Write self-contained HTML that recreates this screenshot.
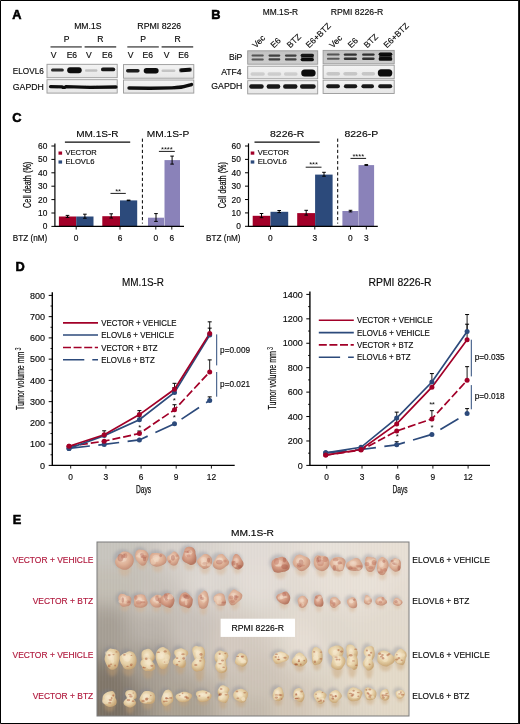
<!DOCTYPE html>
<html><head><meta charset="utf-8"><style>
html,body{margin:0;padding:0;background:#fff;}
svg{display:block;will-change:transform;filter:blur(0.25px);}
text{font-family:"Liberation Sans",sans-serif;}
</style></head><body>
<svg width="520" height="724" viewBox="0 0 520 724" font-family="Liberation Sans, sans-serif">
<defs>
<filter id="bl" x="-20%" y="-100%" width="140%" height="300%"><feGaussianBlur stdDeviation="0.7"/></filter>
<filter id="sh" x="-50%" y="-50%" width="200%" height="200%"><feGaussianBlur stdDeviation="1.4"/></filter>
<filter id="tb2" x="-50%" y="-50%" width="200%" height="200%"><feGaussianBlur stdDeviation="0.45"/></filter>
<filter id="tb" x="-30%" y="-30%" width="160%" height="160%"><feGaussianBlur stdDeviation="0.75"/></filter>
<filter id="bgblur" x="0" y="0" width="100%" height="100%"><feGaussianBlur stdDeviation="4"/></filter>
<clipPath id="photoclip"><rect x="97" y="542" width="312" height="174"/></clipPath>
<linearGradient id="gBlot" x1="0" y1="0" x2="0" y2="1"><stop offset="0" stop-color="#f4f4f4"/><stop offset="1" stop-color="#e6e6e6"/></linearGradient>
<linearGradient id="gBip" x1="0" y1="0" x2="0" y2="1"><stop offset="0" stop-color="#c2c2c2"/><stop offset="1" stop-color="#cecece"/></linearGradient>
<pattern id="stripes" width="3" height="4" patternUnits="userSpaceOnUse"><rect width="1.2" height="4" fill="#ffffff" opacity="0.18"/><rect x="2" width="0.8" height="4" fill="#000" opacity="0.04"/></pattern>
<radialGradient id="gPink" cx="0.42" cy="0.38" r="0.62"><stop offset="0" stop-color="#ecd0bc"/><stop offset="0.55" stop-color="#deb197"/><stop offset="1" stop-color="#c59079"/></radialGradient>
<radialGradient id="gRed" cx="0.42" cy="0.38" r="0.62"><stop offset="0" stop-color="#e8c0aa"/><stop offset="0.55" stop-color="#d39a82"/><stop offset="1" stop-color="#b67862"/></radialGradient>
<radialGradient id="gYel" cx="0.42" cy="0.38" r="0.62"><stop offset="0" stop-color="#f4e6c8"/><stop offset="0.55" stop-color="#e4cea4"/><stop offset="1" stop-color="#c8a676"/></radialGradient>
<radialGradient id="gPale" cx="0.42" cy="0.38" r="0.62"><stop offset="0" stop-color="#f6ead0"/><stop offset="0.6" stop-color="#e6cfa4"/><stop offset="1" stop-color="#cfae80"/></radialGradient>
</defs>
<rect x="0" y="0" width="520" height="724" fill="#fff"/>
<text x="12.2" y="18.7" font-size="12.8" font-weight="bold" fill="#000" stroke="#000" stroke-width="0.55">A</text>
<text x="211.3" y="18.5" font-size="12.8" font-weight="bold" fill="#000" stroke="#000" stroke-width="0.55">B</text>
<text x="12.2" y="121.8" font-size="12.8" font-weight="bold" fill="#000" stroke="#000" stroke-width="0.55">C</text>
<text x="15.6" y="270.8" font-size="12.8" font-weight="bold" fill="#000" stroke="#000" stroke-width="0.55">D</text>
<text x="12.8" y="524.1" font-size="12.8" font-weight="bold" fill="#000" stroke="#000" stroke-width="0.55">E</text>
<text x="74.2" y="29.2" font-size="8.6" textLength="27.3" lengthAdjust="spacingAndGlyphs" fill="#0a0a0a" stroke="#0a0a0a" stroke-width="0.15">MM.1S</text>
<text x="137.3" y="29.2" font-size="8.6" textLength="43.9" lengthAdjust="spacingAndGlyphs" fill="#0a0a0a" stroke="#0a0a0a" stroke-width="0.15">RPMI 8226</text>
<text x="66.5" y="41.5" font-size="8.6" text-anchor="middle" fill="#0a0a0a" stroke="#0a0a0a" stroke-width="0.15">P</text>
<text x="100.3" y="41.5" font-size="8.6" text-anchor="middle" fill="#0a0a0a" stroke="#0a0a0a" stroke-width="0.15">R</text>
<text x="143.1" y="41.5" font-size="8.6" text-anchor="middle" fill="#0a0a0a" stroke="#0a0a0a" stroke-width="0.15">P</text>
<text x="177.5" y="41.5" font-size="8.6" text-anchor="middle" fill="#0a0a0a" stroke="#0a0a0a" stroke-width="0.15">R</text>
<line x1="50.5" y1="46.9" x2="81.8" y2="46.9" stroke="#666" stroke-width="1.6"/>
<line x1="84.6" y1="46.9" x2="116.2" y2="46.9" stroke="#666" stroke-width="1.6"/>
<line x1="127.3" y1="46.9" x2="158.8" y2="46.9" stroke="#666" stroke-width="1.6"/>
<line x1="161.6" y1="46.9" x2="193.2" y2="46.9" stroke="#666" stroke-width="1.6"/>
<text x="53.5" y="57.7" font-size="8.6" text-anchor="middle" fill="#0a0a0a" stroke="#0a0a0a" stroke-width="0.15">V</text>
<text x="71.9" y="57.7" font-size="8.6" text-anchor="middle" fill="#0a0a0a" stroke="#0a0a0a" stroke-width="0.15">E6</text>
<text x="88.8" y="57.7" font-size="8.6" text-anchor="middle" fill="#0a0a0a" stroke="#0a0a0a" stroke-width="0.15">V</text>
<text x="107.3" y="57.7" font-size="8.6" text-anchor="middle" fill="#0a0a0a" stroke="#0a0a0a" stroke-width="0.15">E6</text>
<text x="130.6" y="57.7" font-size="8.6" text-anchor="middle" fill="#0a0a0a" stroke="#0a0a0a" stroke-width="0.15">V</text>
<text x="147.7" y="57.7" font-size="8.6" text-anchor="middle" fill="#0a0a0a" stroke="#0a0a0a" stroke-width="0.15">E6</text>
<text x="166.5" y="57.7" font-size="8.6" text-anchor="middle" fill="#0a0a0a" stroke="#0a0a0a" stroke-width="0.15">V</text>
<text x="183.6" y="57.7" font-size="8.6" text-anchor="middle" fill="#0a0a0a" stroke="#0a0a0a" stroke-width="0.15">E6</text>
<text x="43.8" y="74.3" font-size="8.6" text-anchor="end" textLength="31.0" lengthAdjust="spacingAndGlyphs" fill="#0a0a0a" stroke="#0a0a0a" stroke-width="0.15">ELOVL6</text>
<text x="43.8" y="89.6" font-size="8.6" text-anchor="end" textLength="31.0" lengthAdjust="spacingAndGlyphs" fill="#0a0a0a" stroke="#0a0a0a" stroke-width="0.15">GAPDH</text>
<rect x="47.0" y="64.3" width="70.2" height="13.4" fill="url(#gBlot)" stroke="#999" stroke-width="0.9"/>
<rect x="47.0" y="79.7" width="70.2" height="13.4" fill="url(#gBlot)" stroke="#999" stroke-width="0.9"/>
<rect x="51" y="68.5" width="12.799999999999997" height="3.0" rx="1.5" fill="#0a0a0a" opacity="0.85" filter="url(#bl)"/>
<rect x="67.2" y="67.2" width="14.5" height="6.0" rx="3.0" fill="#0a0a0a" opacity="1.0" filter="url(#bl)"/>
<rect x="85.0" y="69.3" width="12.400000000000006" height="2.4" rx="1.2" fill="#0a0a0a" opacity="0.2" filter="url(#bl)"/>
<rect x="101.0" y="67.5" width="14.200000000000003" height="3.8" rx="1.9" fill="#0a0a0a" opacity="0.95" filter="url(#bl)"/>
<path d="M50.5,86.6 L62,86.9 L64,87.8 L66,86.6 L90,87.3 L116,87.0" stroke="#111" stroke-width="3.3" stroke-linecap="round" fill="none" filter="url(#bl)"/>
<rect x="123.5" y="64.6" width="70.3" height="13.6" fill="url(#gBlot)" stroke="#999" stroke-width="0.9"/>
<rect x="123.5" y="80.0" width="70.3" height="13.1" fill="url(#gBlot)" stroke="#999" stroke-width="0.9"/>
<rect x="126" y="69.1" width="13.599999999999994" height="3.4" rx="1.7" fill="#0a0a0a" opacity="0.92" filter="url(#bl)"/>
<rect x="143.7" y="68.1" width="14.900000000000006" height="5.4" rx="2.7" fill="#0a0a0a" opacity="1.0" filter="url(#bl)"/>
<rect x="161.5" y="69.6" width="13.900000000000006" height="2.4" rx="1.2" fill="#0a0a0a" opacity="0.18" filter="url(#bl)"/>
<rect x="179.1" y="68.0" width="12.700000000000017" height="4.0" rx="2.0" fill="#0a0a0a" opacity="1.0" filter="url(#bl)" transform="rotate(-4 185.45 70.0)"/>
<path d="M129,88.0 L150,88.2 L172,87.9 Q182,87.9 191.5,84.6" stroke="#111" stroke-width="3.4" stroke-linecap="round" fill="none" filter="url(#bl)"/>
<text x="262.7" y="15.4" font-size="8.6" textLength="35.4" lengthAdjust="spacingAndGlyphs" fill="#0a0a0a" stroke="#0a0a0a" stroke-width="0.15">MM.1S-R</text>
<text x="330.8" y="15.4" font-size="8.6" textLength="52.5" lengthAdjust="spacingAndGlyphs" fill="#0a0a0a" stroke="#0a0a0a" stroke-width="0.15">RPMI 8226-R</text>
<text x="0" y="0" font-size="8.5" fill="#0a0a0a" stroke="#0a0a0a" stroke-width="0.15" transform="translate(255.8 48.6) rotate(-45)">Vec</text>
<text x="0" y="0" font-size="8.5" fill="#0a0a0a" stroke="#0a0a0a" stroke-width="0.15" transform="translate(274.0 48.6) rotate(-45)">E6</text>
<text x="0" y="0" font-size="8.5" fill="#0a0a0a" stroke="#0a0a0a" stroke-width="0.15" transform="translate(290.2 48.6) rotate(-45)">BTZ</text>
<text x="0" y="0" font-size="8.5" fill="#0a0a0a" stroke="#0a0a0a" stroke-width="0.15" transform="translate(309.3 48.6) rotate(-45)">E6+BTZ</text>
<text x="0" y="0" font-size="8.5" fill="#0a0a0a" stroke="#0a0a0a" stroke-width="0.15" transform="translate(332.7 48.6) rotate(-45)">Vec</text>
<text x="0" y="0" font-size="8.5" fill="#0a0a0a" stroke="#0a0a0a" stroke-width="0.15" transform="translate(351.3 48.6) rotate(-45)">E6</text>
<text x="0" y="0" font-size="8.5" fill="#0a0a0a" stroke="#0a0a0a" stroke-width="0.15" transform="translate(367.3 48.6) rotate(-45)">BTZ</text>
<text x="0" y="0" font-size="8.5" fill="#0a0a0a" stroke="#0a0a0a" stroke-width="0.15" transform="translate(387.1 48.6) rotate(-45)">E6+BTZ</text>
<text x="242.3" y="59.6" font-size="8.6" text-anchor="end" fill="#0a0a0a" stroke="#0a0a0a" stroke-width="0.15">BiP</text>
<text x="241.5" y="75.0" font-size="8.6" text-anchor="end" fill="#0a0a0a" stroke="#0a0a0a" stroke-width="0.15">ATF4</text>
<text x="242.3" y="89.4" font-size="8.6" text-anchor="end" textLength="31.0" lengthAdjust="spacingAndGlyphs" fill="#0a0a0a" stroke="#0a0a0a" stroke-width="0.15">GAPDH</text>
<rect x="247.7" y="50.8" width="70" height="13.4" fill="url(#gBip)" stroke="#999" stroke-width="0.9"/>
<rect x="247.7" y="66.2" width="70" height="12.6" fill="url(#gBlot)" stroke="#999" stroke-width="0.9"/>
<rect x="247.7" y="80.7" width="70" height="13.2" fill="url(#gBlot)" stroke="#999" stroke-width="0.9"/>
<rect x="251.5" y="54.6" width="12.300000000000011" height="2.0" rx="1.0" fill="#0a0a0a" opacity="0.6" filter="url(#bl)"/>
<rect x="251.5" y="58.4" width="12.300000000000011" height="2.0" rx="1.0" fill="#0a0a0a" opacity="0.6" filter="url(#bl)"/>
<rect x="268.5" y="54.5" width="11.800000000000011" height="2.2" rx="1.1" fill="#0a0a0a" opacity="0.72" filter="url(#bl)"/>
<rect x="268.5" y="58.3" width="11.800000000000011" height="2.2" rx="1.1" fill="#0a0a0a" opacity="0.72" filter="url(#bl)"/>
<rect x="284.9" y="54.5" width="11.700000000000045" height="2.2" rx="1.1" fill="#0a0a0a" opacity="0.72" filter="url(#bl)"/>
<rect x="284.9" y="58.3" width="11.700000000000045" height="2.2" rx="1.1" fill="#0a0a0a" opacity="0.72" filter="url(#bl)"/>
<rect x="300.6" y="53.8" width="13.399999999999977" height="3.2" rx="1.6" fill="#0a0a0a" opacity="0.95" filter="url(#bl)"/>
<rect x="300.6" y="57.9" width="13.399999999999977" height="3.4" rx="1.7" fill="#0a0a0a" opacity="1.0" filter="url(#bl)"/>
<rect x="301" y="56.5" width="12.600000000000023" height="2.0" rx="1.0" fill="#0a0a0a" opacity="0.6" filter="url(#bl)"/>
<rect x="250.5" y="72.2" width="14.300000000000011" height="3.6" rx="1.8" fill="#0a0a0a" opacity="0.13" filter="url(#bl)"/>
<rect x="267.5" y="72.2" width="13.800000000000011" height="3.6" rx="1.8" fill="#0a0a0a" opacity="0.13" filter="url(#bl)"/>
<rect x="283.9" y="72.2" width="13.700000000000045" height="3.6" rx="1.8" fill="#0a0a0a" opacity="0.13" filter="url(#bl)"/>
<rect x="301.2" y="69.5" width="14.400000000000034" height="7.0" rx="3.5" fill="#0a0a0a" opacity="1.0" filter="url(#bl)"/>
<rect x="249.2" y="84.3" width="14.5" height="4.4" rx="2.2" fill="#0a0a0a" opacity="0.95" filter="url(#bl)"/>
<rect x="266.6" y="84.3" width="13.699999999999989" height="4.4" rx="2.2" fill="#0a0a0a" opacity="0.95" filter="url(#bl)"/>
<rect x="283.1" y="84.3" width="14.399999999999977" height="4.4" rx="2.2" fill="#0a0a0a" opacity="0.95" filter="url(#bl)"/>
<rect x="300.0" y="84.3" width="15.699999999999989" height="4.4" rx="2.2" fill="#0a0a0a" opacity="0.95" filter="url(#bl)"/>
<rect x="323.1" y="50.4" width="71.1" height="13.4" fill="url(#gBip)" stroke="#999" stroke-width="0.9"/>
<rect x="323.1" y="65.2" width="71.1" height="13.5" fill="url(#gBlot)" stroke="#999" stroke-width="0.9"/>
<rect x="323.1" y="80.2" width="71.1" height="13.3" fill="url(#gBlot)" stroke="#999" stroke-width="0.9"/>
<rect x="326.9" y="53.6" width="12.700000000000045" height="2.0" rx="1.0" fill="#0a0a0a" opacity="0.6" filter="url(#bl)"/>
<rect x="326.9" y="57.8" width="12.700000000000045" height="2.0" rx="1.0" fill="#0a0a0a" opacity="0.6" filter="url(#bl)"/>
<rect x="343.8" y="53.4" width="13.099999999999966" height="2.4" rx="1.2" fill="#0a0a0a" opacity="0.8" filter="url(#bl)"/>
<rect x="343.8" y="57.599999999999994" width="13.099999999999966" height="2.4" rx="1.2" fill="#0a0a0a" opacity="0.8" filter="url(#bl)"/>
<rect x="362.1" y="53.4" width="12.5" height="2.4" rx="1.2" fill="#0a0a0a" opacity="0.8" filter="url(#bl)"/>
<rect x="362.1" y="57.599999999999994" width="12.5" height="2.4" rx="1.2" fill="#0a0a0a" opacity="0.8" filter="url(#bl)"/>
<rect x="378.6" y="52.400000000000006" width="13.699999999999989" height="3.6" rx="1.8" fill="#0a0a0a" opacity="1.0" filter="url(#bl)"/>
<rect x="378.6" y="57.0" width="13.699999999999989" height="3.8" rx="1.9" fill="#0a0a0a" opacity="1.0" filter="url(#bl)"/>
<rect x="379" y="55.4" width="13" height="2.4" rx="1.2" fill="#0a0a0a" opacity="0.8" filter="url(#bl)"/>
<rect x="326.4" y="72.0" width="13.700000000000045" height="3.6" rx="1.8" fill="#0a0a0a" opacity="0.16" filter="url(#bl)"/>
<rect x="343.3" y="72.0" width="14.099999999999966" height="3.6" rx="1.8" fill="#0a0a0a" opacity="0.16" filter="url(#bl)"/>
<rect x="361.6" y="72.0" width="13.5" height="3.6" rx="1.8" fill="#0a0a0a" opacity="0.16" filter="url(#bl)"/>
<rect x="377.8" y="69.30000000000001" width="14.5" height="7.2" rx="3.6" fill="#0a0a0a" opacity="1.0" filter="url(#bl)"/>
<rect x="326.2" y="84.3" width="13.699999999999989" height="4.0" rx="2.0" fill="#0a0a0a" opacity="0.95" filter="url(#bl)"/>
<rect x="343.9" y="84.3" width="13.300000000000011" height="4.0" rx="2.0" fill="#0a0a0a" opacity="0.95" filter="url(#bl)"/>
<rect x="361.4" y="84.3" width="12.600000000000023" height="4.0" rx="2.0" fill="#0a0a0a" opacity="0.95" filter="url(#bl)"/>
<rect x="378.2" y="84.3" width="14.0" height="4.0" rx="2.0" fill="#0a0a0a" opacity="0.95" filter="url(#bl)"/>
<line x1="54.9" y1="143.6" x2="54.9" y2="227.0" stroke="#000" stroke-width="1.2"/>
<line x1="51.4" y1="226.4" x2="54.9" y2="226.4" stroke="#000" stroke-width="1.0"/>
<text x="47.3" y="229.4" font-size="8.4" text-anchor="end" fill="#0a0a0a" stroke="#0a0a0a" stroke-width="0.15">0</text>
<line x1="51.4" y1="213.0" x2="54.9" y2="213.0" stroke="#000" stroke-width="1.0"/>
<text x="47.3" y="216.0" font-size="8.4" text-anchor="end" fill="#0a0a0a" stroke="#0a0a0a" stroke-width="0.15">10</text>
<line x1="51.4" y1="199.6" x2="54.9" y2="199.6" stroke="#000" stroke-width="1.0"/>
<text x="47.3" y="202.6" font-size="8.4" text-anchor="end" fill="#0a0a0a" stroke="#0a0a0a" stroke-width="0.15">20</text>
<line x1="51.4" y1="186.2" x2="54.9" y2="186.2" stroke="#000" stroke-width="1.0"/>
<text x="47.3" y="189.2" font-size="8.4" text-anchor="end" fill="#0a0a0a" stroke="#0a0a0a" stroke-width="0.15">30</text>
<line x1="51.4" y1="172.8" x2="54.9" y2="172.8" stroke="#000" stroke-width="1.0"/>
<text x="47.3" y="175.8" font-size="8.4" text-anchor="end" fill="#0a0a0a" stroke="#0a0a0a" stroke-width="0.15">40</text>
<line x1="51.4" y1="159.4" x2="54.9" y2="159.4" stroke="#000" stroke-width="1.0"/>
<text x="47.3" y="162.4" font-size="8.4" text-anchor="end" fill="#0a0a0a" stroke="#0a0a0a" stroke-width="0.15">50</text>
<line x1="51.4" y1="146.0" x2="54.9" y2="146.0" stroke="#000" stroke-width="1.0"/>
<text x="47.3" y="149.0" font-size="8.4" text-anchor="end" fill="#0a0a0a" stroke="#0a0a0a" stroke-width="0.15">60</text>
<rect x="58.9" y="216.5" width="17.300000000000004" height="9.900000000000006" fill="#a20028"/>
<rect x="76.2" y="216.5" width="17.299999999999997" height="9.900000000000006" fill="#2c4a7b"/>
<rect x="102.3" y="216.2" width="17.700000000000003" height="10.200000000000017" fill="#a20028"/>
<rect x="120" y="200.4" width="17.19999999999999" height="26.0" fill="#2c4a7b"/>
<rect x="148" y="217.7" width="16" height="8.700000000000017" fill="#8a82b9"/>
<rect x="164.5" y="160.1" width="15.5" height="66.30000000000001" fill="#8a82b9"/>
<line x1="54.9" y1="226.4" x2="184.0" y2="226.4" stroke="#000" stroke-width="1.3"/>
<line x1="76.2" y1="226.4" x2="76.2" y2="229.6" stroke="#000" stroke-width="0.9"/>
<line x1="120" y1="226.4" x2="120" y2="229.6" stroke="#000" stroke-width="0.9"/>
<line x1="155.8" y1="226.4" x2="155.8" y2="229.6" stroke="#000" stroke-width="0.9"/>
<line x1="171.8" y1="226.4" x2="171.8" y2="229.6" stroke="#000" stroke-width="0.9"/>
<text x="76.2" y="240.9" font-size="8.4" text-anchor="middle" fill="#0a0a0a" stroke="#0a0a0a" stroke-width="0.15">0</text>
<text x="120" y="240.9" font-size="8.4" text-anchor="middle" fill="#0a0a0a" stroke="#0a0a0a" stroke-width="0.15">6</text>
<text x="155.8" y="240.9" font-size="8.4" text-anchor="middle" fill="#0a0a0a" stroke="#0a0a0a" stroke-width="0.15">0</text>
<text x="171.8" y="240.9" font-size="8.4" text-anchor="middle" fill="#0a0a0a" stroke="#0a0a0a" stroke-width="0.15">6</text>
<line x1="67.5" y1="215.4" x2="67.5" y2="217.4" stroke="#000" stroke-width="1.0"/>
<line x1="65.7" y1="215.4" x2="69.3" y2="215.4" stroke="#000" stroke-width="1.0"/>
<line x1="65.7" y1="217.4" x2="69.3" y2="217.4" stroke="#000" stroke-width="1.0"/>
<line x1="84.9" y1="214.2" x2="84.9" y2="218.2" stroke="#000" stroke-width="1.0"/>
<line x1="83.10000000000001" y1="214.2" x2="86.7" y2="214.2" stroke="#000" stroke-width="1.0"/>
<line x1="83.10000000000001" y1="218.2" x2="86.7" y2="218.2" stroke="#000" stroke-width="1.0"/>
<line x1="111.2" y1="213.8" x2="111.2" y2="218.0" stroke="#000" stroke-width="1.0"/>
<line x1="109.4" y1="213.8" x2="113.0" y2="213.8" stroke="#000" stroke-width="1.0"/>
<line x1="109.4" y1="218.0" x2="113.0" y2="218.0" stroke="#000" stroke-width="1.0"/>
<line x1="128.6" y1="200.1" x2="128.6" y2="200.7" stroke="#000" stroke-width="1.0"/>
<line x1="126.8" y1="200.1" x2="130.4" y2="200.1" stroke="#000" stroke-width="1.0"/>
<line x1="126.8" y1="200.7" x2="130.4" y2="200.7" stroke="#000" stroke-width="1.0"/>
<line x1="156" y1="213.6" x2="156" y2="221.4" stroke="#000" stroke-width="1.0"/>
<line x1="154.2" y1="213.6" x2="157.8" y2="213.6" stroke="#000" stroke-width="1.0"/>
<line x1="154.2" y1="221.4" x2="157.8" y2="221.4" stroke="#000" stroke-width="1.0"/>
<line x1="172.1" y1="156.1" x2="172.1" y2="164.1" stroke="#000" stroke-width="1.0"/>
<line x1="170.29999999999998" y1="156.1" x2="173.9" y2="156.1" stroke="#000" stroke-width="1.0"/>
<line x1="170.29999999999998" y1="164.1" x2="173.9" y2="164.1" stroke="#000" stroke-width="1.0"/>
<line x1="142.4" y1="138.6" x2="142.4" y2="223.6" stroke="#000" stroke-width="1.0" stroke-dasharray="3.2 2.4"/>
<line x1="110.5" y1="193.4" x2="125.8" y2="193.4" stroke="#000" stroke-width="0.9"/>
<text x="116.7" y="193.6" font-size="7.6" text-anchor="middle" fill="#0a0a0a">*</text>
<text x="119.60000000000001" y="193.6" font-size="7.6" text-anchor="middle" fill="#0a0a0a">*</text>
<line x1="158.9" y1="151.4" x2="174.8" y2="151.4" stroke="#000" stroke-width="0.9"/>
<text x="162.50000000000003" y="151.6" font-size="7.6" text-anchor="middle" fill="#0a0a0a">*</text>
<text x="165.40000000000003" y="151.6" font-size="7.6" text-anchor="middle" fill="#0a0a0a">*</text>
<text x="168.30000000000004" y="151.6" font-size="7.6" text-anchor="middle" fill="#0a0a0a">*</text>
<text x="171.20000000000002" y="151.6" font-size="7.6" text-anchor="middle" fill="#0a0a0a">*</text>
<text x="76.2" y="136.8" font-size="9.9" textLength="42.3" lengthAdjust="spacingAndGlyphs" fill="#0a0a0a" stroke="#0a0a0a" stroke-width="0.15">MM.1S-R</text>
<text x="146.8" y="136.8" font-size="9.9" textLength="42.4" lengthAdjust="spacingAndGlyphs" fill="#0a0a0a" stroke="#0a0a0a" stroke-width="0.15">MM.1S-P</text>
<line x1="64.9" y1="142.2" x2="130.2" y2="142.2" stroke="#0a0a0a" stroke-width="1.3"/>
<rect x="58.5" y="151.5" width="3.6" height="3.2" fill="#a20028"/>
<rect x="58.5" y="160.4" width="3.6" height="3.2" fill="#2c4a7b"/>
<text x="65.5" y="155.2" font-size="8.0" textLength="31.3" lengthAdjust="spacingAndGlyphs" fill="#0a0a0a" stroke="#0a0a0a" stroke-width="0.15">VECTOR</text>
<text x="65.5" y="164.3" font-size="8.0" textLength="29.0" lengthAdjust="spacingAndGlyphs" fill="#0a0a0a" stroke="#0a0a0a" stroke-width="0.15">ELOVL6</text>
<text x="12.8" y="241.0" font-size="8.2" textLength="34.5" lengthAdjust="spacingAndGlyphs" fill="#0a0a0a" stroke="#0a0a0a" stroke-width="0.15">BTZ (nM)</text>
<text x="0" y="0" font-size="10.2" fill="#0a0a0a" stroke="#0a0a0a" stroke-width="0.2" textLength="46.2" lengthAdjust="spacingAndGlyphs" transform="translate(31.3 207.9) rotate(-90)">Cell death (%)</text>
<line x1="248.5" y1="143.4" x2="248.5" y2="226.9" stroke="#000" stroke-width="1.2"/>
<line x1="245.0" y1="226.3" x2="248.5" y2="226.3" stroke="#000" stroke-width="1.0"/>
<text x="240.9" y="229.3" font-size="8.4" text-anchor="end" fill="#0a0a0a" stroke="#0a0a0a" stroke-width="0.15">0</text>
<line x1="245.0" y1="212.91666666666669" x2="248.5" y2="212.91666666666669" stroke="#000" stroke-width="1.0"/>
<text x="240.9" y="215.91666666666669" font-size="8.4" text-anchor="end" fill="#0a0a0a" stroke="#0a0a0a" stroke-width="0.15">10</text>
<line x1="245.0" y1="199.53333333333333" x2="248.5" y2="199.53333333333333" stroke="#000" stroke-width="1.0"/>
<text x="240.9" y="202.53333333333333" font-size="8.4" text-anchor="end" fill="#0a0a0a" stroke="#0a0a0a" stroke-width="0.15">20</text>
<line x1="245.0" y1="186.15" x2="248.5" y2="186.15" stroke="#000" stroke-width="1.0"/>
<text x="240.9" y="189.15" font-size="8.4" text-anchor="end" fill="#0a0a0a" stroke="#0a0a0a" stroke-width="0.15">30</text>
<line x1="245.0" y1="172.76666666666665" x2="248.5" y2="172.76666666666665" stroke="#000" stroke-width="1.0"/>
<text x="240.9" y="175.76666666666665" font-size="8.4" text-anchor="end" fill="#0a0a0a" stroke="#0a0a0a" stroke-width="0.15">40</text>
<line x1="245.0" y1="159.38333333333333" x2="248.5" y2="159.38333333333333" stroke="#000" stroke-width="1.0"/>
<text x="240.9" y="162.38333333333333" font-size="8.4" text-anchor="end" fill="#0a0a0a" stroke="#0a0a0a" stroke-width="0.15">50</text>
<line x1="245.0" y1="146.0" x2="248.5" y2="146.0" stroke="#000" stroke-width="1.0"/>
<text x="240.9" y="149.0" font-size="8.4" text-anchor="end" fill="#0a0a0a" stroke="#0a0a0a" stroke-width="0.15">60</text>
<rect x="252.7" y="215.8" width="17.69999999999999" height="10.5" fill="#a20028"/>
<rect x="270.5" y="211.8" width="17.69999999999999" height="14.5" fill="#2c4a7b"/>
<rect x="297.2" y="213.1" width="17.900000000000034" height="13.200000000000017" fill="#a20028"/>
<rect x="315.1" y="174.6" width="17.5" height="51.70000000000002" fill="#2c4a7b"/>
<rect x="342.4" y="211.0" width="15.900000000000034" height="15.300000000000011" fill="#8a82b9"/>
<rect x="358.5" y="165.1" width="15.600000000000023" height="61.20000000000002" fill="#8a82b9"/>
<line x1="248.5" y1="226.3" x2="377.8" y2="226.3" stroke="#000" stroke-width="1.3"/>
<line x1="270.5" y1="226.3" x2="270.5" y2="229.5" stroke="#000" stroke-width="0.9"/>
<line x1="314.8" y1="226.3" x2="314.8" y2="229.5" stroke="#000" stroke-width="0.9"/>
<line x1="350.5" y1="226.3" x2="350.5" y2="229.5" stroke="#000" stroke-width="0.9"/>
<line x1="366.3" y1="226.3" x2="366.3" y2="229.5" stroke="#000" stroke-width="0.9"/>
<text x="270.3" y="240.9" font-size="8.4" text-anchor="middle" fill="#0a0a0a" stroke="#0a0a0a" stroke-width="0.15">0</text>
<text x="314.8" y="240.9" font-size="8.4" text-anchor="middle" fill="#0a0a0a" stroke="#0a0a0a" stroke-width="0.15">3</text>
<text x="350.3" y="240.9" font-size="8.4" text-anchor="middle" fill="#0a0a0a" stroke="#0a0a0a" stroke-width="0.15">0</text>
<text x="366.3" y="240.9" font-size="8.4" text-anchor="middle" fill="#0a0a0a" stroke="#0a0a0a" stroke-width="0.15">3</text>
<line x1="261.5" y1="213.5" x2="261.5" y2="217.7" stroke="#000" stroke-width="1.0"/>
<line x1="259.7" y1="213.5" x2="263.3" y2="213.5" stroke="#000" stroke-width="1.0"/>
<line x1="259.7" y1="217.7" x2="263.3" y2="217.7" stroke="#000" stroke-width="1.0"/>
<line x1="279.2" y1="210.5" x2="279.2" y2="212.6" stroke="#000" stroke-width="1.0"/>
<line x1="277.4" y1="210.5" x2="281.0" y2="210.5" stroke="#000" stroke-width="1.0"/>
<line x1="277.4" y1="212.6" x2="281.0" y2="212.6" stroke="#000" stroke-width="1.0"/>
<line x1="306.2" y1="210.3" x2="306.2" y2="215.1" stroke="#000" stroke-width="1.0"/>
<line x1="304.4" y1="210.3" x2="308.0" y2="210.3" stroke="#000" stroke-width="1.0"/>
<line x1="304.4" y1="215.1" x2="308.0" y2="215.1" stroke="#000" stroke-width="1.0"/>
<line x1="324" y1="172.3" x2="324" y2="176.2" stroke="#000" stroke-width="1.0"/>
<line x1="322.2" y1="172.3" x2="325.8" y2="172.3" stroke="#000" stroke-width="1.0"/>
<line x1="322.2" y1="176.2" x2="325.8" y2="176.2" stroke="#000" stroke-width="1.0"/>
<line x1="350.5" y1="210.3" x2="350.5" y2="211.9" stroke="#000" stroke-width="1.0"/>
<line x1="348.7" y1="210.3" x2="352.3" y2="210.3" stroke="#000" stroke-width="1.0"/>
<line x1="348.7" y1="211.9" x2="352.3" y2="211.9" stroke="#000" stroke-width="1.0"/>
<line x1="366.3" y1="164.6" x2="366.3" y2="165.4" stroke="#000" stroke-width="1.0"/>
<line x1="364.5" y1="164.6" x2="368.1" y2="164.6" stroke="#000" stroke-width="1.0"/>
<line x1="364.5" y1="165.4" x2="368.1" y2="165.4" stroke="#000" stroke-width="1.0"/>
<line x1="337.7" y1="138.6" x2="337.7" y2="223.6" stroke="#000" stroke-width="1.0" stroke-dasharray="3.2 2.4"/>
<line x1="305.7" y1="167.2" x2="321.5" y2="167.2" stroke="#000" stroke-width="0.9"/>
<text x="310.70000000000005" y="167.39999999999998" font-size="7.6" text-anchor="middle" fill="#0a0a0a">*</text>
<text x="313.6" y="167.39999999999998" font-size="7.6" text-anchor="middle" fill="#0a0a0a">*</text>
<text x="316.50000000000006" y="167.39999999999998" font-size="7.6" text-anchor="middle" fill="#0a0a0a">*</text>
<line x1="350.5" y1="158.4" x2="366.1" y2="158.4" stroke="#000" stroke-width="0.9"/>
<text x="353.95" y="158.6" font-size="7.6" text-anchor="middle" fill="#0a0a0a">*</text>
<text x="356.84999999999997" y="158.6" font-size="7.6" text-anchor="middle" fill="#0a0a0a">*</text>
<text x="359.75" y="158.6" font-size="7.6" text-anchor="middle" fill="#0a0a0a">*</text>
<text x="362.65" y="158.6" font-size="7.6" text-anchor="middle" fill="#0a0a0a">*</text>
<text x="270" y="136.8" font-size="9.9" textLength="34.3" lengthAdjust="spacingAndGlyphs" fill="#0a0a0a" stroke="#0a0a0a" stroke-width="0.15">8226-R</text>
<text x="344.5" y="136.8" font-size="9.9" textLength="33.7" lengthAdjust="spacingAndGlyphs" fill="#0a0a0a" stroke="#0a0a0a" stroke-width="0.15">8226-P</text>
<line x1="254.5" y1="142.2" x2="319.7" y2="142.2" stroke="#0a0a0a" stroke-width="1.3"/>
<rect x="250.7" y="151.5" width="3.6" height="3.2" fill="#a20028"/>
<rect x="250.7" y="160.4" width="3.6" height="3.2" fill="#2c4a7b"/>
<text x="257.7" y="155.2" font-size="8.0" textLength="31.3" lengthAdjust="spacingAndGlyphs" fill="#0a0a0a" stroke="#0a0a0a" stroke-width="0.15">VECTOR</text>
<text x="257.7" y="164.3" font-size="8.0" textLength="29.0" lengthAdjust="spacingAndGlyphs" fill="#0a0a0a" stroke="#0a0a0a" stroke-width="0.15">ELOVL6</text>
<text x="206.1" y="241.0" font-size="8.2" textLength="34.5" lengthAdjust="spacingAndGlyphs" fill="#0a0a0a" stroke="#0a0a0a" stroke-width="0.15">BTZ (nM)</text>
<text x="0" y="0" font-size="10.2" fill="#0a0a0a" stroke="#0a0a0a" stroke-width="0.2" textLength="46.2" lengthAdjust="spacingAndGlyphs" transform="translate(226.3 208.2) rotate(-90)">Cell death (%)</text>
<line x1="52.3" y1="292.2" x2="52.3" y2="466.09999999999997" stroke="#000" stroke-width="1.4"/>
<line x1="48.699999999999996" y1="465.4" x2="52.3" y2="465.4" stroke="#000" stroke-width="1.0"/>
<text x="45.099999999999994" y="468.59999999999997" font-size="9.0" text-anchor="end" fill="#0a0a0a" stroke="#0a0a0a" stroke-width="0.15">0</text>
<line x1="48.699999999999996" y1="444.15" x2="52.3" y2="444.15" stroke="#000" stroke-width="1.0"/>
<text x="45.099999999999994" y="447.34999999999997" font-size="9.0" text-anchor="end" fill="#0a0a0a" stroke="#0a0a0a" stroke-width="0.15">100</text>
<line x1="48.699999999999996" y1="422.9" x2="52.3" y2="422.9" stroke="#000" stroke-width="1.0"/>
<text x="45.099999999999994" y="426.09999999999997" font-size="9.0" text-anchor="end" fill="#0a0a0a" stroke="#0a0a0a" stroke-width="0.15">200</text>
<line x1="48.699999999999996" y1="401.65" x2="52.3" y2="401.65" stroke="#000" stroke-width="1.0"/>
<text x="45.099999999999994" y="404.84999999999997" font-size="9.0" text-anchor="end" fill="#0a0a0a" stroke="#0a0a0a" stroke-width="0.15">300</text>
<line x1="48.699999999999996" y1="380.4" x2="52.3" y2="380.4" stroke="#000" stroke-width="1.0"/>
<text x="45.099999999999994" y="383.59999999999997" font-size="9.0" text-anchor="end" fill="#0a0a0a" stroke="#0a0a0a" stroke-width="0.15">400</text>
<line x1="48.699999999999996" y1="359.15" x2="52.3" y2="359.15" stroke="#000" stroke-width="1.0"/>
<text x="45.099999999999994" y="362.34999999999997" font-size="9.0" text-anchor="end" fill="#0a0a0a" stroke="#0a0a0a" stroke-width="0.15">500</text>
<line x1="48.699999999999996" y1="337.9" x2="52.3" y2="337.9" stroke="#000" stroke-width="1.0"/>
<text x="45.099999999999994" y="341.09999999999997" font-size="9.0" text-anchor="end" fill="#0a0a0a" stroke="#0a0a0a" stroke-width="0.15">600</text>
<line x1="48.699999999999996" y1="316.65" x2="52.3" y2="316.65" stroke="#000" stroke-width="1.0"/>
<text x="45.099999999999994" y="319.84999999999997" font-size="9.0" text-anchor="end" fill="#0a0a0a" stroke="#0a0a0a" stroke-width="0.15">700</text>
<line x1="48.699999999999996" y1="295.4" x2="52.3" y2="295.4" stroke="#000" stroke-width="1.0"/>
<text x="45.099999999999994" y="298.59999999999997" font-size="9.0" text-anchor="end" fill="#0a0a0a" stroke="#0a0a0a" stroke-width="0.15">800</text>
<line x1="50.5" y1="454.775" x2="52.3" y2="454.775" stroke="#000" stroke-width="0.9"/>
<line x1="50.5" y1="433.525" x2="52.3" y2="433.525" stroke="#000" stroke-width="0.9"/>
<line x1="50.5" y1="412.275" x2="52.3" y2="412.275" stroke="#000" stroke-width="0.9"/>
<line x1="50.5" y1="391.025" x2="52.3" y2="391.025" stroke="#000" stroke-width="0.9"/>
<line x1="50.5" y1="369.775" x2="52.3" y2="369.775" stroke="#000" stroke-width="0.9"/>
<line x1="50.5" y1="348.525" x2="52.3" y2="348.525" stroke="#000" stroke-width="0.9"/>
<line x1="50.5" y1="327.275" x2="52.3" y2="327.275" stroke="#000" stroke-width="0.9"/>
<line x1="50.5" y1="306.025" x2="52.3" y2="306.025" stroke="#000" stroke-width="0.9"/>
<line x1="52.3" y1="465.4" x2="234.7" y2="465.4" stroke="#000" stroke-width="1.4"/>
<line x1="70.7" y1="465.4" x2="70.7" y2="468.59999999999997" stroke="#000" stroke-width="0.9"/>
<text x="70.7" y="479.8" font-size="8.4" text-anchor="middle" fill="#0a0a0a" stroke="#0a0a0a" stroke-width="0.15">0</text>
<line x1="105.9" y1="465.4" x2="105.9" y2="468.59999999999997" stroke="#000" stroke-width="0.9"/>
<text x="105.9" y="479.8" font-size="8.4" text-anchor="middle" fill="#0a0a0a" stroke="#0a0a0a" stroke-width="0.15">3</text>
<line x1="141.1" y1="465.4" x2="141.1" y2="468.59999999999997" stroke="#000" stroke-width="0.9"/>
<text x="141.1" y="479.8" font-size="8.4" text-anchor="middle" fill="#0a0a0a" stroke="#0a0a0a" stroke-width="0.15">6</text>
<line x1="176.2" y1="465.4" x2="176.2" y2="468.59999999999997" stroke="#000" stroke-width="0.9"/>
<text x="176.2" y="479.8" font-size="8.4" text-anchor="middle" fill="#0a0a0a" stroke="#0a0a0a" stroke-width="0.15">9</text>
<line x1="211.4" y1="465.4" x2="211.4" y2="468.59999999999997" stroke="#000" stroke-width="0.9"/>
<text x="211.4" y="479.8" font-size="8.4" text-anchor="middle" fill="#0a0a0a" stroke="#0a0a0a" stroke-width="0.15">12</text>
<text x="136.0" y="493.4" font-size="10.2" textLength="15.2" lengthAdjust="spacingAndGlyphs" fill="#0a0a0a" stroke="#222" stroke-width="0.25">Days</text>
<text x="122.1" y="285.8" font-size="10.3" textLength="41.9" lengthAdjust="spacingAndGlyphs" fill="#0a0a0a" stroke="#0a0a0a" stroke-width="0.15">MM.1S-R</text>
<line x1="63" y1="322.9" x2="98" y2="322.9" stroke="#a20028" stroke-width="1.6"/>
<text x="101.2" y="325.9" font-size="8.5" textLength="75.4" lengthAdjust="spacingAndGlyphs" fill="#0a0a0a" stroke="#0a0a0a" stroke-width="0.15">VECTOR + VEHICLE</text>
<line x1="63" y1="335.0" x2="98" y2="335.0" stroke="#2c4a7b" stroke-width="1.6"/>
<text x="101.2" y="338.0" font-size="8.5" textLength="72.9" lengthAdjust="spacingAndGlyphs" fill="#0a0a0a" stroke="#0a0a0a" stroke-width="0.15">ELOVL6 + VEHICLE</text>
<line x1="63" y1="347.5" x2="98" y2="347.5" stroke="#a20028" stroke-width="1.6" stroke-dasharray="8 2.6"/>
<text x="101.2" y="350.5" font-size="8.5" textLength="56.3" lengthAdjust="spacingAndGlyphs" fill="#0a0a0a" stroke="#0a0a0a" stroke-width="0.15">VECTOR + BTZ</text>
<line x1="63" y1="359.8" x2="98" y2="359.8" stroke="#2c4a7b" stroke-width="1.6" stroke-dasharray="21.3 8"/>
<text x="101.2" y="362.8" font-size="8.5" textLength="53.5" lengthAdjust="spacingAndGlyphs" fill="#0a0a0a" stroke="#0a0a0a" stroke-width="0.15">ELOVL6 + BTZ</text>
<polyline points="69.0,448.4 104.2,444.4 139.4,439.9 174.5,423.8 209.7,400.4" fill="none" stroke="#2c4a7b" stroke-width="1.7" stroke-dasharray="21 8.5"/>
<polyline points="69.0,446.3 104.2,441.2 139.4,433.5 174.5,409.7 209.7,371.9" fill="none" stroke="#a20028" stroke-width="1.7" stroke-dasharray="8 3"/>
<polyline points="69.0,448.4 104.2,435.6 139.4,419.7 174.5,392.5 209.7,335.1" fill="none" stroke="#2c4a7b" stroke-width="1.7"/>
<polyline points="69.0,446.3 104.2,434.8 139.4,414.6 174.5,389.3 209.7,333.4" fill="none" stroke="#a20028" stroke-width="1.7"/>
<line x1="104.2" y1="434.79999999999995" x2="104.2" y2="430.79999999999995" stroke="#000" stroke-width="0.9"/>
<line x1="102.2" y1="430.79999999999995" x2="106.2" y2="430.79999999999995" stroke="#000" stroke-width="1.0"/>
<line x1="139.4" y1="414.61249999999995" x2="139.4" y2="410.61249999999995" stroke="#000" stroke-width="0.9"/>
<line x1="137.4" y1="410.61249999999995" x2="141.4" y2="410.61249999999995" stroke="#000" stroke-width="1.0"/>
<line x1="174.5" y1="389.325" x2="174.5" y2="383.325" stroke="#000" stroke-width="0.9"/>
<line x1="172.5" y1="383.325" x2="176.5" y2="383.325" stroke="#000" stroke-width="1.0"/>
<line x1="209.70000000000002" y1="333.4375" x2="209.70000000000002" y2="321.8375" stroke="#000" stroke-width="0.9"/>
<line x1="207.70000000000002" y1="321.8375" x2="211.70000000000002" y2="321.8375" stroke="#000" stroke-width="1.0"/>
<line x1="139.4" y1="419.7125" x2="139.4" y2="416.7125" stroke="#000" stroke-width="0.9"/>
<line x1="137.4" y1="416.7125" x2="141.4" y2="416.7125" stroke="#000" stroke-width="1.0"/>
<line x1="174.5" y1="392.5125" x2="174.5" y2="387.5125" stroke="#000" stroke-width="0.9"/>
<line x1="172.5" y1="387.5125" x2="176.5" y2="387.5125" stroke="#000" stroke-width="1.0"/>
<line x1="209.70000000000002" y1="335.1375" x2="209.70000000000002" y2="328.1375" stroke="#000" stroke-width="0.9"/>
<line x1="207.70000000000002" y1="328.1375" x2="211.70000000000002" y2="328.1375" stroke="#000" stroke-width="1.0"/>
<line x1="174.5" y1="409.72499999999997" x2="174.5" y2="404.72499999999997" stroke="#000" stroke-width="0.9"/>
<line x1="172.5" y1="404.72499999999997" x2="176.5" y2="404.72499999999997" stroke="#000" stroke-width="1.0"/>
<line x1="209.70000000000002" y1="371.9" x2="209.70000000000002" y2="359.9" stroke="#000" stroke-width="0.9"/>
<line x1="207.70000000000002" y1="359.9" x2="211.70000000000002" y2="359.9" stroke="#000" stroke-width="1.0"/>
<line x1="209.70000000000002" y1="400.375" x2="209.70000000000002" y2="396.875" stroke="#000" stroke-width="0.9"/>
<line x1="207.70000000000002" y1="396.875" x2="211.70000000000002" y2="396.875" stroke="#000" stroke-width="1.0"/>
<line x1="139.4" y1="433.525" x2="139.4" y2="431.025" stroke="#000" stroke-width="0.9"/>
<line x1="137.4" y1="431.025" x2="141.4" y2="431.025" stroke="#000" stroke-width="1.0"/>
<circle cx="69.0" cy="448.4" r="2.5" fill="#2c4a7b"/>
<circle cx="104.2" cy="444.4" r="2.5" fill="#2c4a7b"/>
<circle cx="139.4" cy="439.9" r="2.5" fill="#2c4a7b"/>
<circle cx="174.5" cy="423.8" r="2.5" fill="#2c4a7b"/>
<circle cx="209.7" cy="400.4" r="2.5" fill="#2c4a7b"/>
<circle cx="69.0" cy="446.3" r="2.5" fill="#a20028"/>
<circle cx="104.2" cy="441.2" r="2.5" fill="#a20028"/>
<circle cx="139.4" cy="433.5" r="2.5" fill="#a20028"/>
<circle cx="174.5" cy="409.7" r="2.5" fill="#a20028"/>
<circle cx="209.7" cy="371.9" r="2.5" fill="#a20028"/>
<circle cx="69.0" cy="448.4" r="2.5" fill="#2c4a7b"/>
<circle cx="104.2" cy="435.6" r="2.5" fill="#2c4a7b"/>
<circle cx="139.4" cy="419.7" r="2.5" fill="#2c4a7b"/>
<circle cx="174.5" cy="392.5" r="2.5" fill="#2c4a7b"/>
<circle cx="209.7" cy="335.1" r="2.5" fill="#2c4a7b"/>
<circle cx="69.0" cy="446.3" r="2.5" fill="#a20028"/>
<circle cx="104.2" cy="434.8" r="2.5" fill="#a20028"/>
<circle cx="139.4" cy="414.6" r="2.5" fill="#a20028"/>
<circle cx="174.5" cy="389.3" r="2.5" fill="#a20028"/>
<circle cx="209.7" cy="333.4" r="2.5" fill="#a20028"/>
<text x="139.8" y="430.3" font-size="8" text-anchor="middle" fill="#0a0a0a">*</text>
<text x="174.2" y="402.6" font-size="8" text-anchor="middle" fill="#0a0a0a">*</text>
<text x="174.2" y="419.6" font-size="8" text-anchor="middle" fill="#0a0a0a">*</text>
<line x1="216.7" y1="334.4" x2="216.7" y2="365.4" stroke="#2c4a7b" stroke-width="1.0"/>
<line x1="216.7" y1="372" x2="216.7" y2="396.7" stroke="#2c4a7b" stroke-width="1.0"/>
<text x="220.1" y="353.0" font-size="8.6" textLength="30" lengthAdjust="spacingAndGlyphs" fill="#0a0a0a" stroke="#0a0a0a" stroke-width="0.15">p=0.009</text>
<text x="220.1" y="386.8" font-size="8.6" textLength="30" lengthAdjust="spacingAndGlyphs" fill="#0a0a0a" stroke="#0a0a0a" stroke-width="0.15">p=0.021</text>
<text x="0" y="0" font-size="10.5" fill="#0a0a0a" stroke="#0a0a0a" stroke-width="0.2" textLength="58.6" lengthAdjust="spacingAndGlyphs" transform="translate(24.4 410.1) rotate(-90)">Tumor volume mm</text>
<text x="0" y="0" font-size="8.4" fill="#0a0a0a" textLength="3.1" lengthAdjust="spacingAndGlyphs" transform="translate(21.099999999999998 350.5) rotate(-90)">3</text>
<line x1="309.9" y1="291.5" x2="309.9" y2="466.09999999999997" stroke="#000" stroke-width="1.4"/>
<line x1="306.29999999999995" y1="465.4" x2="309.9" y2="465.4" stroke="#000" stroke-width="1.0"/>
<text x="302.7" y="468.59999999999997" font-size="9.0" text-anchor="end" fill="#0a0a0a" stroke="#0a0a0a" stroke-width="0.15">0</text>
<line x1="306.29999999999995" y1="440.972" x2="309.9" y2="440.972" stroke="#000" stroke-width="1.0"/>
<text x="302.7" y="444.17199999999997" font-size="9.0" text-anchor="end" fill="#0a0a0a" stroke="#0a0a0a" stroke-width="0.15">200</text>
<line x1="306.29999999999995" y1="416.544" x2="309.9" y2="416.544" stroke="#000" stroke-width="1.0"/>
<text x="302.7" y="419.74399999999997" font-size="9.0" text-anchor="end" fill="#0a0a0a" stroke="#0a0a0a" stroke-width="0.15">400</text>
<line x1="306.29999999999995" y1="392.116" x2="309.9" y2="392.116" stroke="#000" stroke-width="1.0"/>
<text x="302.7" y="395.316" font-size="9.0" text-anchor="end" fill="#0a0a0a" stroke="#0a0a0a" stroke-width="0.15">600</text>
<line x1="306.29999999999995" y1="367.688" x2="309.9" y2="367.688" stroke="#000" stroke-width="1.0"/>
<text x="302.7" y="370.888" font-size="9.0" text-anchor="end" fill="#0a0a0a" stroke="#0a0a0a" stroke-width="0.15">800</text>
<line x1="306.29999999999995" y1="343.26" x2="309.9" y2="343.26" stroke="#000" stroke-width="1.0"/>
<text x="302.7" y="346.46" font-size="9.0" text-anchor="end" fill="#0a0a0a" stroke="#0a0a0a" stroke-width="0.15">1000</text>
<line x1="306.29999999999995" y1="318.832" x2="309.9" y2="318.832" stroke="#000" stroke-width="1.0"/>
<text x="302.7" y="322.032" font-size="9.0" text-anchor="end" fill="#0a0a0a" stroke="#0a0a0a" stroke-width="0.15">1200</text>
<line x1="306.29999999999995" y1="294.404" x2="309.9" y2="294.404" stroke="#000" stroke-width="1.0"/>
<text x="302.7" y="297.604" font-size="9.0" text-anchor="end" fill="#0a0a0a" stroke="#0a0a0a" stroke-width="0.15">1400</text>
<line x1="308.09999999999997" y1="453.186" x2="309.9" y2="453.186" stroke="#000" stroke-width="0.9"/>
<line x1="308.09999999999997" y1="428.758" x2="309.9" y2="428.758" stroke="#000" stroke-width="0.9"/>
<line x1="308.09999999999997" y1="404.33" x2="309.9" y2="404.33" stroke="#000" stroke-width="0.9"/>
<line x1="308.09999999999997" y1="379.902" x2="309.9" y2="379.902" stroke="#000" stroke-width="0.9"/>
<line x1="308.09999999999997" y1="355.474" x2="309.9" y2="355.474" stroke="#000" stroke-width="0.9"/>
<line x1="308.09999999999997" y1="331.046" x2="309.9" y2="331.046" stroke="#000" stroke-width="0.9"/>
<line x1="308.09999999999997" y1="306.61799999999994" x2="309.9" y2="306.61799999999994" stroke="#000" stroke-width="0.9"/>
<line x1="309.9" y1="465.4" x2="490" y2="465.4" stroke="#000" stroke-width="1.4"/>
<line x1="326.7" y1="465.4" x2="326.7" y2="468.59999999999997" stroke="#000" stroke-width="0.9"/>
<text x="326.7" y="479.8" font-size="8.4" text-anchor="middle" fill="#0a0a0a" stroke="#0a0a0a" stroke-width="0.15">0</text>
<line x1="362.0" y1="465.4" x2="362.0" y2="468.59999999999997" stroke="#000" stroke-width="0.9"/>
<text x="362.0" y="479.8" font-size="8.4" text-anchor="middle" fill="#0a0a0a" stroke="#0a0a0a" stroke-width="0.15">3</text>
<line x1="397.7" y1="465.4" x2="397.7" y2="468.59999999999997" stroke="#000" stroke-width="0.9"/>
<text x="397.7" y="479.8" font-size="8.4" text-anchor="middle" fill="#0a0a0a" stroke="#0a0a0a" stroke-width="0.15">6</text>
<line x1="432.9" y1="465.4" x2="432.9" y2="468.59999999999997" stroke="#000" stroke-width="0.9"/>
<text x="432.9" y="479.8" font-size="8.4" text-anchor="middle" fill="#0a0a0a" stroke="#0a0a0a" stroke-width="0.15">9</text>
<line x1="468.1" y1="465.4" x2="468.1" y2="468.59999999999997" stroke="#000" stroke-width="0.9"/>
<text x="468.1" y="479.8" font-size="8.4" text-anchor="middle" fill="#0a0a0a" stroke="#0a0a0a" stroke-width="0.15">12</text>
<text x="392.5" y="493.4" font-size="10.2" textLength="15.2" lengthAdjust="spacingAndGlyphs" fill="#0a0a0a" stroke="#222" stroke-width="0.25">Days</text>
<text x="368.5" y="285.8" font-size="10.3" textLength="63" lengthAdjust="spacingAndGlyphs" fill="#0a0a0a" stroke="#0a0a0a" stroke-width="0.15">RPMI 8226-R</text>
<line x1="318.8" y1="320.3" x2="353.8" y2="320.3" stroke="#a20028" stroke-width="1.6"/>
<text x="357.0" y="323.3" font-size="8.5" textLength="75.4" lengthAdjust="spacingAndGlyphs" fill="#0a0a0a" stroke="#0a0a0a" stroke-width="0.15">VECTOR + VEHICLE</text>
<line x1="318.8" y1="332.6" x2="353.8" y2="332.6" stroke="#2c4a7b" stroke-width="1.6"/>
<text x="357.0" y="335.6" font-size="8.5" textLength="72.9" lengthAdjust="spacingAndGlyphs" fill="#0a0a0a" stroke="#0a0a0a" stroke-width="0.15">ELOVL6 + VEHICLE</text>
<line x1="318.8" y1="344.9" x2="353.8" y2="344.9" stroke="#a20028" stroke-width="1.6" stroke-dasharray="8 2.6"/>
<text x="357.0" y="347.9" font-size="8.5" textLength="56.3" lengthAdjust="spacingAndGlyphs" fill="#0a0a0a" stroke="#0a0a0a" stroke-width="0.15">VECTOR + BTZ</text>
<line x1="318.8" y1="357.3" x2="353.8" y2="357.3" stroke="#2c4a7b" stroke-width="1.6" stroke-dasharray="21.3 8"/>
<text x="357.0" y="360.3" font-size="8.5" textLength="53.5" lengthAdjust="spacingAndGlyphs" fill="#0a0a0a" stroke="#0a0a0a" stroke-width="0.15">ELOVL6 + BTZ</text>
<polyline points="325.7,452.8 361.0,449.5 396.7,444.8 431.9,434.4 467.1,413.6" fill="none" stroke="#2c4a7b" stroke-width="1.7" stroke-dasharray="21 8.5"/>
<polyline points="325.7,455.1 361.0,450.1 396.7,431.0 431.9,418.9 467.1,380.3" fill="none" stroke="#a20028" stroke-width="1.7" stroke-dasharray="8 3"/>
<polyline points="325.7,452.8 361.0,447.3 396.7,418.1 431.9,382.0 467.1,331.5" fill="none" stroke="#2c4a7b" stroke-width="1.7"/>
<polyline points="325.7,455.1 361.0,449.5 396.7,423.9 431.9,387.2 467.1,339.7" fill="none" stroke="#a20028" stroke-width="1.7"/>
<line x1="396.7" y1="418.13181999999995" x2="396.7" y2="412.13181999999995" stroke="#000" stroke-width="0.9"/>
<line x1="394.7" y1="412.13181999999995" x2="398.7" y2="412.13181999999995" stroke="#000" stroke-width="1.0"/>
<line x1="431.9" y1="381.97837999999996" x2="431.9" y2="373.57838" stroke="#000" stroke-width="0.9"/>
<line x1="429.9" y1="373.57838" x2="433.9" y2="373.57838" stroke="#000" stroke-width="1.0"/>
<line x1="467.1" y1="331.53455999999994" x2="467.1" y2="314.53455999999994" stroke="#000" stroke-width="0.9"/>
<line x1="465.1" y1="314.53455999999994" x2="469.1" y2="314.53455999999994" stroke="#000" stroke-width="1.0"/>
<line x1="467.1" y1="339.71794" x2="467.1" y2="324.21794" stroke="#000" stroke-width="0.9"/>
<line x1="465.1" y1="324.21794" x2="469.1" y2="324.21794" stroke="#000" stroke-width="1.0"/>
<line x1="467.1" y1="380.26842" x2="467.1" y2="366.66841999999997" stroke="#000" stroke-width="0.9"/>
<line x1="465.1" y1="366.66841999999997" x2="469.1" y2="366.66841999999997" stroke="#000" stroke-width="1.0"/>
<line x1="467.1" y1="413.61264" x2="467.1" y2="408.61264" stroke="#000" stroke-width="0.9"/>
<line x1="465.1" y1="408.61264" x2="469.1" y2="408.61264" stroke="#000" stroke-width="1.0"/>
<line x1="431.9" y1="418.86465999999996" x2="431.9" y2="410.66465999999997" stroke="#000" stroke-width="0.9"/>
<line x1="429.9" y1="410.66465999999997" x2="433.9" y2="410.66465999999997" stroke="#000" stroke-width="1.0"/>
<line x1="396.7" y1="423.87239999999997" x2="396.7" y2="418.87239999999997" stroke="#000" stroke-width="0.9"/>
<line x1="394.7" y1="418.87239999999997" x2="398.7" y2="418.87239999999997" stroke="#000" stroke-width="1.0"/>
<line x1="396.7" y1="444.75834" x2="396.7" y2="441.75834" stroke="#000" stroke-width="0.9"/>
<line x1="394.7" y1="441.75834" x2="398.7" y2="441.75834" stroke="#000" stroke-width="1.0"/>
<circle cx="325.7" cy="452.8" r="2.5" fill="#2c4a7b"/>
<circle cx="361.0" cy="449.5" r="2.5" fill="#2c4a7b"/>
<circle cx="396.7" cy="444.8" r="2.5" fill="#2c4a7b"/>
<circle cx="431.9" cy="434.4" r="2.5" fill="#2c4a7b"/>
<circle cx="467.1" cy="413.6" r="2.5" fill="#2c4a7b"/>
<circle cx="325.7" cy="455.1" r="2.5" fill="#a20028"/>
<circle cx="361.0" cy="450.1" r="2.5" fill="#a20028"/>
<circle cx="396.7" cy="431.0" r="2.5" fill="#a20028"/>
<circle cx="431.9" cy="418.9" r="2.5" fill="#a20028"/>
<circle cx="467.1" cy="380.3" r="2.5" fill="#a20028"/>
<circle cx="325.7" cy="452.8" r="2.5" fill="#2c4a7b"/>
<circle cx="361.0" cy="447.3" r="2.5" fill="#2c4a7b"/>
<circle cx="396.7" cy="418.1" r="2.5" fill="#2c4a7b"/>
<circle cx="431.9" cy="382.0" r="2.5" fill="#2c4a7b"/>
<circle cx="467.1" cy="331.5" r="2.5" fill="#2c4a7b"/>
<circle cx="325.7" cy="455.1" r="2.5" fill="#a20028"/>
<circle cx="361.0" cy="449.5" r="2.5" fill="#a20028"/>
<circle cx="396.7" cy="423.9" r="2.5" fill="#a20028"/>
<circle cx="431.9" cy="387.2" r="2.5" fill="#a20028"/>
<circle cx="467.1" cy="339.7" r="2.5" fill="#a20028"/>
<text x="430.7" y="406.5" font-size="8" text-anchor="middle" fill="#0a0a0a">*</text>
<text x="433.3" y="406.5" font-size="8" text-anchor="middle" fill="#0a0a0a">*</text>
<text x="432.0" y="430.3" font-size="8" text-anchor="middle" fill="#0a0a0a">*</text>
<text x="397.3" y="439.3" font-size="8" text-anchor="middle" fill="#0a0a0a">*</text>
<line x1="471.3" y1="339.7" x2="471.3" y2="376.4" stroke="#2c4a7b" stroke-width="1.0"/>
<line x1="471.3" y1="385.1" x2="471.3" y2="409.3" stroke="#2c4a7b" stroke-width="1.0"/>
<text x="474.7" y="360.3" font-size="8.6" textLength="30" lengthAdjust="spacingAndGlyphs" fill="#0a0a0a" stroke="#0a0a0a" stroke-width="0.15">p=0.035</text>
<text x="474.7" y="399.4" font-size="8.6" textLength="30" lengthAdjust="spacingAndGlyphs" fill="#0a0a0a" stroke="#0a0a0a" stroke-width="0.15">p=0.018</text>
<text x="0" y="0" font-size="10.5" fill="#0a0a0a" stroke="#0a0a0a" stroke-width="0.2" textLength="58.6" lengthAdjust="spacingAndGlyphs" transform="translate(276.3 409.6) rotate(-90)">Tumor volume mm</text>
<text x="0" y="0" font-size="8.4" fill="#0a0a0a" textLength="3.1" lengthAdjust="spacingAndGlyphs" transform="translate(273.0 350.0) rotate(-90)">3</text>
<text x="230.9" y="536.2" font-size="8.6" textLength="43.1" lengthAdjust="spacingAndGlyphs" fill="#0a0a0a" stroke="#0a0a0a" stroke-width="0.15">MM.1S-R</text>
<g clip-path="url(#photoclip)"><g filter="url(#bgblur)">
<rect x="85" y="530" width="6" height="6" fill="rgb(198, 195, 189)"/>
<rect x="91" y="530" width="6" height="6" fill="rgb(198, 195, 189)"/>
<rect x="97" y="530" width="6" height="6" fill="rgb(198, 196, 189)"/>
<rect x="103" y="530" width="6" height="6" fill="rgb(198, 196, 189)"/>
<rect x="109" y="530" width="6" height="6" fill="rgb(198, 196, 189)"/>
<rect x="115" y="530" width="6" height="6" fill="rgb(199, 196, 189)"/>
<rect x="121" y="530" width="6" height="6" fill="rgb(199, 196, 189)"/>
<rect x="127" y="530" width="6" height="6" fill="rgb(199, 196, 189)"/>
<rect x="133" y="530" width="6" height="6" fill="rgb(200, 196, 189)"/>
<rect x="139" y="530" width="6" height="6" fill="rgb(201, 197, 190)"/>
<rect x="145" y="530" width="6" height="6" fill="rgb(204, 199, 192)"/>
<rect x="151" y="530" width="6" height="6" fill="rgb(206, 202, 195)"/>
<rect x="157" y="530" width="6" height="6" fill="rgb(209, 204, 198)"/>
<rect x="163" y="530" width="6" height="6" fill="rgb(211, 206, 201)"/>
<rect x="169" y="530" width="6" height="6" fill="rgb(213, 208, 202)"/>
<rect x="175" y="530" width="6" height="6" fill="rgb(214, 209, 203)"/>
<rect x="181" y="530" width="6" height="6" fill="rgb(214, 209, 204)"/>
<rect x="187" y="530" width="6" height="6" fill="rgb(214, 209, 204)"/>
<rect x="193" y="530" width="6" height="6" fill="rgb(214, 209, 204)"/>
<rect x="199" y="530" width="6" height="6" fill="rgb(215, 209, 204)"/>
<rect x="205" y="530" width="6" height="6" fill="rgb(215, 210, 204)"/>
<rect x="211" y="530" width="6" height="6" fill="rgb(217, 211, 205)"/>
<rect x="217" y="530" width="6" height="6" fill="rgb(219, 213, 207)"/>
<rect x="223" y="530" width="6" height="6" fill="rgb(221, 215, 209)"/>
<rect x="229" y="530" width="6" height="6" fill="rgb(223, 217, 211)"/>
<rect x="235" y="530" width="6" height="6" fill="rgb(224, 218, 212)"/>
<rect x="241" y="530" width="6" height="6" fill="rgb(225, 219, 213)"/>
<rect x="247" y="530" width="6" height="6" fill="rgb(225, 219, 213)"/>
<rect x="253" y="530" width="6" height="6" fill="rgb(225, 219, 213)"/>
<rect x="259" y="530" width="6" height="6" fill="rgb(225, 219, 213)"/>
<rect x="265" y="530" width="6" height="6" fill="rgb(225, 219, 212)"/>
<rect x="271" y="530" width="6" height="6" fill="rgb(224, 218, 212)"/>
<rect x="277" y="530" width="6" height="6" fill="rgb(225, 218, 211)"/>
<rect x="283" y="530" width="6" height="6" fill="rgb(225, 219, 211)"/>
<rect x="289" y="530" width="6" height="6" fill="rgb(226, 219, 212)"/>
<rect x="295" y="530" width="6" height="6" fill="rgb(227, 221, 212)"/>
<rect x="301" y="530" width="6" height="6" fill="rgb(228, 222, 214)"/>
<rect x="307" y="530" width="6" height="6" fill="rgb(229, 223, 215)"/>
<rect x="313" y="530" width="6" height="6" fill="rgb(230, 224, 216)"/>
<rect x="319" y="530" width="6" height="6" fill="rgb(231, 224, 216)"/>
<rect x="325" y="530" width="6" height="6" fill="rgb(231, 225, 217)"/>
<rect x="331" y="530" width="6" height="6" fill="rgb(231, 225, 217)"/>
<rect x="337" y="530" width="6" height="6" fill="rgb(231, 225, 216)"/>
<rect x="343" y="530" width="6" height="6" fill="rgb(231, 224, 216)"/>
<rect x="349" y="530" width="6" height="6" fill="rgb(230, 224, 215)"/>
<rect x="355" y="530" width="6" height="6" fill="rgb(230, 223, 214)"/>
<rect x="361" y="530" width="6" height="6" fill="rgb(230, 223, 213)"/>
<rect x="367" y="530" width="6" height="6" fill="rgb(230, 223, 213)"/>
<rect x="373" y="530" width="6" height="6" fill="rgb(230, 223, 212)"/>
<rect x="379" y="530" width="6" height="6" fill="rgb(231, 223, 212)"/>
<rect x="385" y="530" width="6" height="6" fill="rgb(231, 223, 212)"/>
<rect x="391" y="530" width="6" height="6" fill="rgb(231, 223, 212)"/>
<rect x="397" y="530" width="6" height="6" fill="rgb(231, 223, 212)"/>
<rect x="403" y="530" width="6" height="6" fill="rgb(231, 223, 212)"/>
<rect x="409" y="530" width="6" height="6" fill="rgb(231, 223, 212)"/>
<rect x="415" y="530" width="6" height="6" fill="rgb(231, 223, 212)"/>
<rect x="85" y="536" width="6" height="6" fill="rgb(198, 195, 189)"/>
<rect x="91" y="536" width="6" height="6" fill="rgb(198, 196, 189)"/>
<rect x="97" y="536" width="6" height="6" fill="rgb(198, 196, 189)"/>
<rect x="103" y="536" width="6" height="6" fill="rgb(198, 196, 189)"/>
<rect x="109" y="536" width="6" height="6" fill="rgb(199, 196, 189)"/>
<rect x="115" y="536" width="6" height="6" fill="rgb(199, 196, 189)"/>
<rect x="121" y="536" width="6" height="6" fill="rgb(199, 196, 189)"/>
<rect x="127" y="536" width="6" height="6" fill="rgb(199, 196, 189)"/>
<rect x="133" y="536" width="6" height="6" fill="rgb(200, 196, 189)"/>
<rect x="139" y="536" width="6" height="6" fill="rgb(201, 197, 190)"/>
<rect x="145" y="536" width="6" height="6" fill="rgb(204, 199, 192)"/>
<rect x="151" y="536" width="6" height="6" fill="rgb(206, 202, 195)"/>
<rect x="157" y="536" width="6" height="6" fill="rgb(209, 204, 198)"/>
<rect x="163" y="536" width="6" height="6" fill="rgb(212, 207, 201)"/>
<rect x="169" y="536" width="6" height="6" fill="rgb(213, 208, 203)"/>
<rect x="175" y="536" width="6" height="6" fill="rgb(214, 209, 204)"/>
<rect x="181" y="536" width="6" height="6" fill="rgb(214, 209, 204)"/>
<rect x="187" y="536" width="6" height="6" fill="rgb(214, 209, 204)"/>
<rect x="193" y="536" width="6" height="6" fill="rgb(214, 209, 204)"/>
<rect x="199" y="536" width="6" height="6" fill="rgb(215, 209, 204)"/>
<rect x="205" y="536" width="6" height="6" fill="rgb(216, 210, 204)"/>
<rect x="211" y="536" width="6" height="6" fill="rgb(217, 211, 205)"/>
<rect x="217" y="536" width="6" height="6" fill="rgb(219, 213, 207)"/>
<rect x="223" y="536" width="6" height="6" fill="rgb(222, 216, 209)"/>
<rect x="229" y="536" width="6" height="6" fill="rgb(224, 218, 211)"/>
<rect x="235" y="536" width="6" height="6" fill="rgb(225, 219, 213)"/>
<rect x="241" y="536" width="6" height="6" fill="rgb(225, 219, 213)"/>
<rect x="247" y="536" width="6" height="6" fill="rgb(225, 219, 213)"/>
<rect x="253" y="536" width="6" height="6" fill="rgb(225, 219, 213)"/>
<rect x="259" y="536" width="6" height="6" fill="rgb(225, 219, 213)"/>
<rect x="265" y="536" width="6" height="6" fill="rgb(225, 219, 212)"/>
<rect x="271" y="536" width="6" height="6" fill="rgb(225, 219, 212)"/>
<rect x="277" y="536" width="6" height="6" fill="rgb(225, 218, 211)"/>
<rect x="283" y="536" width="6" height="6" fill="rgb(225, 219, 211)"/>
<rect x="289" y="536" width="6" height="6" fill="rgb(226, 220, 212)"/>
<rect x="295" y="536" width="6" height="6" fill="rgb(227, 221, 213)"/>
<rect x="301" y="536" width="6" height="6" fill="rgb(229, 222, 214)"/>
<rect x="307" y="536" width="6" height="6" fill="rgb(230, 224, 215)"/>
<rect x="313" y="536" width="6" height="6" fill="rgb(231, 224, 216)"/>
<rect x="319" y="536" width="6" height="6" fill="rgb(231, 225, 217)"/>
<rect x="325" y="536" width="6" height="6" fill="rgb(231, 225, 217)"/>
<rect x="331" y="536" width="6" height="6" fill="rgb(231, 225, 217)"/>
<rect x="337" y="536" width="6" height="6" fill="rgb(231, 225, 217)"/>
<rect x="343" y="536" width="6" height="6" fill="rgb(231, 225, 216)"/>
<rect x="349" y="536" width="6" height="6" fill="rgb(231, 224, 215)"/>
<rect x="355" y="536" width="6" height="6" fill="rgb(230, 224, 214)"/>
<rect x="361" y="536" width="6" height="6" fill="rgb(230, 223, 214)"/>
<rect x="367" y="536" width="6" height="6" fill="rgb(230, 223, 213)"/>
<rect x="373" y="536" width="6" height="6" fill="rgb(230, 223, 213)"/>
<rect x="379" y="536" width="6" height="6" fill="rgb(231, 223, 212)"/>
<rect x="385" y="536" width="6" height="6" fill="rgb(231, 223, 212)"/>
<rect x="391" y="536" width="6" height="6" fill="rgb(231, 223, 212)"/>
<rect x="397" y="536" width="6" height="6" fill="rgb(231, 223, 212)"/>
<rect x="403" y="536" width="6" height="6" fill="rgb(231, 223, 212)"/>
<rect x="409" y="536" width="6" height="6" fill="rgb(231, 223, 212)"/>
<rect x="415" y="536" width="6" height="6" fill="rgb(231, 223, 212)"/>
<rect x="85" y="542" width="6" height="6" fill="rgb(198, 195, 189)"/>
<rect x="91" y="542" width="6" height="6" fill="rgb(198, 196, 189)"/>
<rect x="97" y="542" width="6" height="6" fill="rgb(198, 196, 189)"/>
<rect x="103" y="542" width="6" height="6" fill="rgb(199, 196, 189)"/>
<rect x="109" y="542" width="6" height="6" fill="rgb(199, 196, 189)"/>
<rect x="115" y="542" width="6" height="6" fill="rgb(199, 196, 189)"/>
<rect x="121" y="542" width="6" height="6" fill="rgb(199, 196, 189)"/>
<rect x="127" y="542" width="6" height="6" fill="rgb(199, 195, 188)"/>
<rect x="133" y="542" width="6" height="6" fill="rgb(199, 196, 188)"/>
<rect x="139" y="542" width="6" height="6" fill="rgb(201, 197, 189)"/>
<rect x="145" y="542" width="6" height="6" fill="rgb(203, 198, 192)"/>
<rect x="151" y="542" width="6" height="6" fill="rgb(206, 201, 195)"/>
<rect x="157" y="542" width="6" height="6" fill="rgb(209, 204, 198)"/>
<rect x="163" y="542" width="6" height="6" fill="rgb(212, 207, 201)"/>
<rect x="169" y="542" width="6" height="6" fill="rgb(214, 209, 203)"/>
<rect x="175" y="542" width="6" height="6" fill="rgb(214, 209, 204)"/>
<rect x="181" y="542" width="6" height="6" fill="rgb(214, 209, 204)"/>
<rect x="187" y="542" width="6" height="6" fill="rgb(214, 209, 204)"/>
<rect x="193" y="542" width="6" height="6" fill="rgb(214, 209, 204)"/>
<rect x="199" y="542" width="6" height="6" fill="rgb(215, 210, 204)"/>
<rect x="205" y="542" width="6" height="6" fill="rgb(216, 210, 204)"/>
<rect x="211" y="542" width="6" height="6" fill="rgb(217, 211, 205)"/>
<rect x="217" y="542" width="6" height="6" fill="rgb(219, 213, 207)"/>
<rect x="223" y="542" width="6" height="6" fill="rgb(222, 216, 209)"/>
<rect x="229" y="542" width="6" height="6" fill="rgb(224, 218, 211)"/>
<rect x="235" y="542" width="6" height="6" fill="rgb(225, 219, 213)"/>
<rect x="241" y="542" width="6" height="6" fill="rgb(225, 219, 213)"/>
<rect x="247" y="542" width="6" height="6" fill="rgb(225, 219, 213)"/>
<rect x="253" y="542" width="6" height="6" fill="rgb(225, 219, 213)"/>
<rect x="259" y="542" width="6" height="6" fill="rgb(225, 219, 213)"/>
<rect x="265" y="542" width="6" height="6" fill="rgb(225, 219, 213)"/>
<rect x="271" y="542" width="6" height="6" fill="rgb(225, 219, 212)"/>
<rect x="277" y="542" width="6" height="6" fill="rgb(225, 219, 211)"/>
<rect x="283" y="542" width="6" height="6" fill="rgb(225, 219, 211)"/>
<rect x="289" y="542" width="6" height="6" fill="rgb(226, 220, 212)"/>
<rect x="295" y="542" width="6" height="6" fill="rgb(228, 221, 213)"/>
<rect x="301" y="542" width="6" height="6" fill="rgb(229, 223, 214)"/>
<rect x="307" y="542" width="6" height="6" fill="rgb(230, 224, 216)"/>
<rect x="313" y="542" width="6" height="6" fill="rgb(231, 225, 217)"/>
<rect x="319" y="542" width="6" height="6" fill="rgb(231, 225, 217)"/>
<rect x="325" y="542" width="6" height="6" fill="rgb(231, 225, 217)"/>
<rect x="331" y="542" width="6" height="6" fill="rgb(231, 225, 217)"/>
<rect x="337" y="542" width="6" height="6" fill="rgb(231, 225, 217)"/>
<rect x="343" y="542" width="6" height="6" fill="rgb(231, 225, 216)"/>
<rect x="349" y="542" width="6" height="6" fill="rgb(231, 224, 215)"/>
<rect x="355" y="542" width="6" height="6" fill="rgb(230, 224, 215)"/>
<rect x="361" y="542" width="6" height="6" fill="rgb(230, 223, 214)"/>
<rect x="367" y="542" width="6" height="6" fill="rgb(230, 223, 213)"/>
<rect x="373" y="542" width="6" height="6" fill="rgb(231, 223, 213)"/>
<rect x="379" y="542" width="6" height="6" fill="rgb(231, 223, 212)"/>
<rect x="385" y="542" width="6" height="6" fill="rgb(231, 223, 212)"/>
<rect x="391" y="542" width="6" height="6" fill="rgb(231, 223, 212)"/>
<rect x="397" y="542" width="6" height="6" fill="rgb(231, 223, 212)"/>
<rect x="403" y="542" width="6" height="6" fill="rgb(231, 223, 212)"/>
<rect x="409" y="542" width="6" height="6" fill="rgb(231, 223, 212)"/>
<rect x="415" y="542" width="6" height="6" fill="rgb(231, 223, 212)"/>
<rect x="85" y="548" width="6" height="6" fill="rgb(198, 195, 189)"/>
<rect x="91" y="548" width="6" height="6" fill="rgb(198, 196, 189)"/>
<rect x="97" y="548" width="6" height="6" fill="rgb(198, 196, 189)"/>
<rect x="103" y="548" width="6" height="6" fill="rgb(199, 196, 189)"/>
<rect x="109" y="548" width="6" height="6" fill="rgb(199, 196, 189)"/>
<rect x="115" y="548" width="6" height="6" fill="rgb(199, 196, 189)"/>
<rect x="121" y="548" width="6" height="6" fill="rgb(199, 195, 188)"/>
<rect x="127" y="548" width="6" height="6" fill="rgb(199, 195, 188)"/>
<rect x="133" y="548" width="6" height="6" fill="rgb(199, 195, 188)"/>
<rect x="139" y="548" width="6" height="6" fill="rgb(200, 196, 189)"/>
<rect x="145" y="548" width="6" height="6" fill="rgb(203, 198, 191)"/>
<rect x="151" y="548" width="6" height="6" fill="rgb(206, 200, 194)"/>
<rect x="157" y="548" width="6" height="6" fill="rgb(209, 204, 197)"/>
<rect x="163" y="548" width="6" height="6" fill="rgb(212, 207, 201)"/>
<rect x="169" y="548" width="6" height="6" fill="rgb(214, 208, 203)"/>
<rect x="175" y="548" width="6" height="6" fill="rgb(214, 209, 204)"/>
<rect x="181" y="548" width="6" height="6" fill="rgb(214, 209, 204)"/>
<rect x="187" y="548" width="6" height="6" fill="rgb(214, 209, 204)"/>
<rect x="193" y="548" width="6" height="6" fill="rgb(215, 209, 204)"/>
<rect x="199" y="548" width="6" height="6" fill="rgb(215, 210, 204)"/>
<rect x="205" y="548" width="6" height="6" fill="rgb(216, 211, 205)"/>
<rect x="211" y="548" width="6" height="6" fill="rgb(217, 212, 206)"/>
<rect x="217" y="548" width="6" height="6" fill="rgb(219, 213, 207)"/>
<rect x="223" y="548" width="6" height="6" fill="rgb(221, 215, 209)"/>
<rect x="229" y="548" width="6" height="6" fill="rgb(223, 217, 211)"/>
<rect x="235" y="548" width="6" height="6" fill="rgb(225, 219, 213)"/>
<rect x="241" y="548" width="6" height="6" fill="rgb(225, 219, 213)"/>
<rect x="247" y="548" width="6" height="6" fill="rgb(225, 219, 213)"/>
<rect x="253" y="548" width="6" height="6" fill="rgb(225, 219, 213)"/>
<rect x="259" y="548" width="6" height="6" fill="rgb(225, 219, 213)"/>
<rect x="265" y="548" width="6" height="6" fill="rgb(225, 219, 212)"/>
<rect x="271" y="548" width="6" height="6" fill="rgb(225, 219, 212)"/>
<rect x="277" y="548" width="6" height="6" fill="rgb(225, 219, 211)"/>
<rect x="283" y="548" width="6" height="6" fill="rgb(225, 219, 211)"/>
<rect x="289" y="548" width="6" height="6" fill="rgb(226, 220, 212)"/>
<rect x="295" y="548" width="6" height="6" fill="rgb(228, 221, 213)"/>
<rect x="301" y="548" width="6" height="6" fill="rgb(229, 223, 214)"/>
<rect x="307" y="548" width="6" height="6" fill="rgb(230, 224, 216)"/>
<rect x="313" y="548" width="6" height="6" fill="rgb(231, 225, 217)"/>
<rect x="319" y="548" width="6" height="6" fill="rgb(231, 225, 217)"/>
<rect x="325" y="548" width="6" height="6" fill="rgb(231, 225, 217)"/>
<rect x="331" y="548" width="6" height="6" fill="rgb(231, 225, 217)"/>
<rect x="337" y="548" width="6" height="6" fill="rgb(231, 225, 217)"/>
<rect x="343" y="548" width="6" height="6" fill="rgb(231, 225, 216)"/>
<rect x="349" y="548" width="6" height="6" fill="rgb(231, 224, 215)"/>
<rect x="355" y="548" width="6" height="6" fill="rgb(231, 224, 215)"/>
<rect x="361" y="548" width="6" height="6" fill="rgb(231, 224, 214)"/>
<rect x="367" y="548" width="6" height="6" fill="rgb(231, 223, 213)"/>
<rect x="373" y="548" width="6" height="6" fill="rgb(231, 223, 213)"/>
<rect x="379" y="548" width="6" height="6" fill="rgb(231, 223, 213)"/>
<rect x="385" y="548" width="6" height="6" fill="rgb(231, 223, 212)"/>
<rect x="391" y="548" width="6" height="6" fill="rgb(231, 223, 212)"/>
<rect x="397" y="548" width="6" height="6" fill="rgb(231, 223, 212)"/>
<rect x="403" y="548" width="6" height="6" fill="rgb(231, 223, 212)"/>
<rect x="409" y="548" width="6" height="6" fill="rgb(231, 223, 212)"/>
<rect x="415" y="548" width="6" height="6" fill="rgb(231, 223, 212)"/>
<rect x="85" y="554" width="6" height="6" fill="rgb(197, 195, 188)"/>
<rect x="91" y="554" width="6" height="6" fill="rgb(198, 195, 188)"/>
<rect x="97" y="554" width="6" height="6" fill="rgb(198, 196, 189)"/>
<rect x="103" y="554" width="6" height="6" fill="rgb(199, 196, 189)"/>
<rect x="109" y="554" width="6" height="6" fill="rgb(199, 196, 189)"/>
<rect x="115" y="554" width="6" height="6" fill="rgb(199, 195, 188)"/>
<rect x="121" y="554" width="6" height="6" fill="rgb(198, 195, 188)"/>
<rect x="127" y="554" width="6" height="6" fill="rgb(198, 194, 187)"/>
<rect x="133" y="554" width="6" height="6" fill="rgb(199, 194, 187)"/>
<rect x="139" y="554" width="6" height="6" fill="rgb(200, 195, 188)"/>
<rect x="145" y="554" width="6" height="6" fill="rgb(202, 197, 190)"/>
<rect x="151" y="554" width="6" height="6" fill="rgb(204, 199, 192)"/>
<rect x="157" y="554" width="6" height="6" fill="rgb(208, 202, 196)"/>
<rect x="163" y="554" width="6" height="6" fill="rgb(211, 205, 199)"/>
<rect x="169" y="554" width="6" height="6" fill="rgb(213, 208, 202)"/>
<rect x="175" y="554" width="6" height="6" fill="rgb(214, 209, 204)"/>
<rect x="181" y="554" width="6" height="6" fill="rgb(214, 209, 204)"/>
<rect x="187" y="554" width="6" height="6" fill="rgb(214, 209, 204)"/>
<rect x="193" y="554" width="6" height="6" fill="rgb(215, 210, 204)"/>
<rect x="199" y="554" width="6" height="6" fill="rgb(216, 210, 205)"/>
<rect x="205" y="554" width="6" height="6" fill="rgb(217, 211, 205)"/>
<rect x="211" y="554" width="6" height="6" fill="rgb(218, 212, 206)"/>
<rect x="217" y="554" width="6" height="6" fill="rgb(219, 213, 207)"/>
<rect x="223" y="554" width="6" height="6" fill="rgb(221, 215, 209)"/>
<rect x="229" y="554" width="6" height="6" fill="rgb(223, 217, 210)"/>
<rect x="235" y="554" width="6" height="6" fill="rgb(224, 218, 212)"/>
<rect x="241" y="554" width="6" height="6" fill="rgb(225, 219, 213)"/>
<rect x="247" y="554" width="6" height="6" fill="rgb(225, 219, 213)"/>
<rect x="253" y="554" width="6" height="6" fill="rgb(225, 219, 213)"/>
<rect x="259" y="554" width="6" height="6" fill="rgb(225, 219, 213)"/>
<rect x="265" y="554" width="6" height="6" fill="rgb(225, 219, 212)"/>
<rect x="271" y="554" width="6" height="6" fill="rgb(225, 219, 212)"/>
<rect x="277" y="554" width="6" height="6" fill="rgb(225, 219, 211)"/>
<rect x="283" y="554" width="6" height="6" fill="rgb(225, 219, 211)"/>
<rect x="289" y="554" width="6" height="6" fill="rgb(226, 220, 212)"/>
<rect x="295" y="554" width="6" height="6" fill="rgb(227, 221, 213)"/>
<rect x="301" y="554" width="6" height="6" fill="rgb(229, 222, 214)"/>
<rect x="307" y="554" width="6" height="6" fill="rgb(230, 224, 215)"/>
<rect x="313" y="554" width="6" height="6" fill="rgb(231, 225, 216)"/>
<rect x="319" y="554" width="6" height="6" fill="rgb(231, 225, 217)"/>
<rect x="325" y="554" width="6" height="6" fill="rgb(231, 225, 217)"/>
<rect x="331" y="554" width="6" height="6" fill="rgb(231, 225, 217)"/>
<rect x="337" y="554" width="6" height="6" fill="rgb(231, 225, 217)"/>
<rect x="343" y="554" width="6" height="6" fill="rgb(231, 225, 216)"/>
<rect x="349" y="554" width="6" height="6" fill="rgb(231, 224, 215)"/>
<rect x="355" y="554" width="6" height="6" fill="rgb(231, 224, 214)"/>
<rect x="361" y="554" width="6" height="6" fill="rgb(231, 224, 214)"/>
<rect x="367" y="554" width="6" height="6" fill="rgb(231, 224, 214)"/>
<rect x="373" y="554" width="6" height="6" fill="rgb(231, 223, 213)"/>
<rect x="379" y="554" width="6" height="6" fill="rgb(231, 223, 213)"/>
<rect x="385" y="554" width="6" height="6" fill="rgb(231, 223, 212)"/>
<rect x="391" y="554" width="6" height="6" fill="rgb(231, 223, 212)"/>
<rect x="397" y="554" width="6" height="6" fill="rgb(231, 223, 212)"/>
<rect x="403" y="554" width="6" height="6" fill="rgb(231, 223, 212)"/>
<rect x="409" y="554" width="6" height="6" fill="rgb(231, 223, 212)"/>
<rect x="415" y="554" width="6" height="6" fill="rgb(231, 223, 212)"/>
<rect x="85" y="560" width="6" height="6" fill="rgb(197, 194, 186)"/>
<rect x="91" y="560" width="6" height="6" fill="rgb(197, 194, 187)"/>
<rect x="97" y="560" width="6" height="6" fill="rgb(198, 194, 187)"/>
<rect x="103" y="560" width="6" height="6" fill="rgb(198, 194, 187)"/>
<rect x="109" y="560" width="6" height="6" fill="rgb(198, 194, 187)"/>
<rect x="115" y="560" width="6" height="6" fill="rgb(198, 194, 186)"/>
<rect x="121" y="560" width="6" height="6" fill="rgb(197, 194, 186)"/>
<rect x="127" y="560" width="6" height="6" fill="rgb(197, 193, 185)"/>
<rect x="133" y="560" width="6" height="6" fill="rgb(198, 193, 186)"/>
<rect x="139" y="560" width="6" height="6" fill="rgb(199, 194, 186)"/>
<rect x="145" y="560" width="6" height="6" fill="rgb(201, 196, 188)"/>
<rect x="151" y="560" width="6" height="6" fill="rgb(203, 198, 190)"/>
<rect x="157" y="560" width="6" height="6" fill="rgb(206, 200, 194)"/>
<rect x="163" y="560" width="6" height="6" fill="rgb(209, 203, 197)"/>
<rect x="169" y="560" width="6" height="6" fill="rgb(211, 206, 200)"/>
<rect x="175" y="560" width="6" height="6" fill="rgb(213, 208, 202)"/>
<rect x="181" y="560" width="6" height="6" fill="rgb(214, 209, 203)"/>
<rect x="187" y="560" width="6" height="6" fill="rgb(215, 210, 204)"/>
<rect x="193" y="560" width="6" height="6" fill="rgb(216, 211, 205)"/>
<rect x="199" y="560" width="6" height="6" fill="rgb(218, 212, 206)"/>
<rect x="205" y="560" width="6" height="6" fill="rgb(218, 213, 206)"/>
<rect x="211" y="560" width="6" height="6" fill="rgb(219, 213, 207)"/>
<rect x="217" y="560" width="6" height="6" fill="rgb(220, 213, 207)"/>
<rect x="223" y="560" width="6" height="6" fill="rgb(221, 215, 208)"/>
<rect x="229" y="560" width="6" height="6" fill="rgb(222, 216, 210)"/>
<rect x="235" y="560" width="6" height="6" fill="rgb(224, 218, 211)"/>
<rect x="241" y="560" width="6" height="6" fill="rgb(225, 219, 212)"/>
<rect x="247" y="560" width="6" height="6" fill="rgb(225, 219, 213)"/>
<rect x="253" y="560" width="6" height="6" fill="rgb(226, 219, 213)"/>
<rect x="259" y="560" width="6" height="6" fill="rgb(226, 220, 213)"/>
<rect x="265" y="560" width="6" height="6" fill="rgb(226, 219, 213)"/>
<rect x="271" y="560" width="6" height="6" fill="rgb(225, 219, 212)"/>
<rect x="277" y="560" width="6" height="6" fill="rgb(225, 219, 212)"/>
<rect x="283" y="560" width="6" height="6" fill="rgb(226, 219, 211)"/>
<rect x="289" y="560" width="6" height="6" fill="rgb(226, 220, 211)"/>
<rect x="295" y="560" width="6" height="6" fill="rgb(227, 221, 212)"/>
<rect x="301" y="560" width="6" height="6" fill="rgb(228, 222, 213)"/>
<rect x="307" y="560" width="6" height="6" fill="rgb(230, 223, 214)"/>
<rect x="313" y="560" width="6" height="6" fill="rgb(230, 224, 215)"/>
<rect x="319" y="560" width="6" height="6" fill="rgb(231, 225, 216)"/>
<rect x="325" y="560" width="6" height="6" fill="rgb(231, 225, 216)"/>
<rect x="331" y="560" width="6" height="6" fill="rgb(231, 225, 216)"/>
<rect x="337" y="560" width="6" height="6" fill="rgb(231, 225, 216)"/>
<rect x="343" y="560" width="6" height="6" fill="rgb(231, 224, 215)"/>
<rect x="349" y="560" width="6" height="6" fill="rgb(231, 224, 215)"/>
<rect x="355" y="560" width="6" height="6" fill="rgb(231, 224, 214)"/>
<rect x="361" y="560" width="6" height="6" fill="rgb(231, 224, 214)"/>
<rect x="367" y="560" width="6" height="6" fill="rgb(231, 224, 214)"/>
<rect x="373" y="560" width="6" height="6" fill="rgb(231, 224, 214)"/>
<rect x="379" y="560" width="6" height="6" fill="rgb(231, 223, 213)"/>
<rect x="385" y="560" width="6" height="6" fill="rgb(231, 223, 213)"/>
<rect x="391" y="560" width="6" height="6" fill="rgb(231, 223, 212)"/>
<rect x="397" y="560" width="6" height="6" fill="rgb(231, 223, 212)"/>
<rect x="403" y="560" width="6" height="6" fill="rgb(231, 223, 212)"/>
<rect x="409" y="560" width="6" height="6" fill="rgb(231, 223, 212)"/>
<rect x="415" y="560" width="6" height="6" fill="rgb(231, 223, 212)"/>
<rect x="85" y="566" width="6" height="6" fill="rgb(196, 192, 184)"/>
<rect x="91" y="566" width="6" height="6" fill="rgb(196, 192, 184)"/>
<rect x="97" y="566" width="6" height="6" fill="rgb(196, 192, 183)"/>
<rect x="103" y="566" width="6" height="6" fill="rgb(196, 191, 183)"/>
<rect x="109" y="566" width="6" height="6" fill="rgb(196, 191, 183)"/>
<rect x="115" y="566" width="6" height="6" fill="rgb(196, 192, 183)"/>
<rect x="121" y="566" width="6" height="6" fill="rgb(196, 192, 183)"/>
<rect x="127" y="566" width="6" height="6" fill="rgb(196, 192, 184)"/>
<rect x="133" y="566" width="6" height="6" fill="rgb(197, 192, 184)"/>
<rect x="139" y="566" width="6" height="6" fill="rgb(198, 193, 185)"/>
<rect x="145" y="566" width="6" height="6" fill="rgb(200, 194, 186)"/>
<rect x="151" y="566" width="6" height="6" fill="rgb(201, 196, 188)"/>
<rect x="157" y="566" width="6" height="6" fill="rgb(204, 198, 191)"/>
<rect x="163" y="566" width="6" height="6" fill="rgb(207, 201, 194)"/>
<rect x="169" y="566" width="6" height="6" fill="rgb(210, 204, 198)"/>
<rect x="175" y="566" width="6" height="6" fill="rgb(212, 206, 200)"/>
<rect x="181" y="566" width="6" height="6" fill="rgb(214, 208, 202)"/>
<rect x="187" y="566" width="6" height="6" fill="rgb(216, 210, 204)"/>
<rect x="193" y="566" width="6" height="6" fill="rgb(218, 212, 206)"/>
<rect x="199" y="566" width="6" height="6" fill="rgb(220, 214, 208)"/>
<rect x="205" y="566" width="6" height="6" fill="rgb(220, 214, 208)"/>
<rect x="211" y="566" width="6" height="6" fill="rgb(220, 214, 208)"/>
<rect x="217" y="566" width="6" height="6" fill="rgb(220, 214, 207)"/>
<rect x="223" y="566" width="6" height="6" fill="rgb(220, 214, 208)"/>
<rect x="229" y="566" width="6" height="6" fill="rgb(222, 216, 209)"/>
<rect x="235" y="566" width="6" height="6" fill="rgb(224, 217, 211)"/>
<rect x="241" y="566" width="6" height="6" fill="rgb(225, 219, 212)"/>
<rect x="247" y="566" width="6" height="6" fill="rgb(226, 220, 213)"/>
<rect x="253" y="566" width="6" height="6" fill="rgb(226, 220, 213)"/>
<rect x="259" y="566" width="6" height="6" fill="rgb(227, 220, 213)"/>
<rect x="265" y="566" width="6" height="6" fill="rgb(226, 220, 213)"/>
<rect x="271" y="566" width="6" height="6" fill="rgb(226, 220, 212)"/>
<rect x="277" y="566" width="6" height="6" fill="rgb(226, 219, 212)"/>
<rect x="283" y="566" width="6" height="6" fill="rgb(226, 219, 211)"/>
<rect x="289" y="566" width="6" height="6" fill="rgb(226, 219, 211)"/>
<rect x="295" y="566" width="6" height="6" fill="rgb(227, 220, 212)"/>
<rect x="301" y="566" width="6" height="6" fill="rgb(228, 221, 213)"/>
<rect x="307" y="566" width="6" height="6" fill="rgb(229, 222, 214)"/>
<rect x="313" y="566" width="6" height="6" fill="rgb(230, 223, 214)"/>
<rect x="319" y="566" width="6" height="6" fill="rgb(231, 224, 215)"/>
<rect x="325" y="566" width="6" height="6" fill="rgb(231, 224, 215)"/>
<rect x="331" y="566" width="6" height="6" fill="rgb(231, 224, 215)"/>
<rect x="337" y="566" width="6" height="6" fill="rgb(231, 224, 215)"/>
<rect x="343" y="566" width="6" height="6" fill="rgb(231, 224, 215)"/>
<rect x="349" y="566" width="6" height="6" fill="rgb(231, 224, 215)"/>
<rect x="355" y="566" width="6" height="6" fill="rgb(232, 225, 215)"/>
<rect x="361" y="566" width="6" height="6" fill="rgb(232, 225, 215)"/>
<rect x="367" y="566" width="6" height="6" fill="rgb(232, 225, 215)"/>
<rect x="373" y="566" width="6" height="6" fill="rgb(231, 224, 214)"/>
<rect x="379" y="566" width="6" height="6" fill="rgb(231, 224, 214)"/>
<rect x="385" y="566" width="6" height="6" fill="rgb(231, 223, 213)"/>
<rect x="391" y="566" width="6" height="6" fill="rgb(231, 223, 212)"/>
<rect x="397" y="566" width="6" height="6" fill="rgb(231, 223, 212)"/>
<rect x="403" y="566" width="6" height="6" fill="rgb(231, 223, 212)"/>
<rect x="409" y="566" width="6" height="6" fill="rgb(230, 223, 212)"/>
<rect x="415" y="566" width="6" height="6" fill="rgb(230, 222, 211)"/>
<rect x="85" y="572" width="6" height="6" fill="rgb(195, 190, 182)"/>
<rect x="91" y="572" width="6" height="6" fill="rgb(195, 190, 181)"/>
<rect x="97" y="572" width="6" height="6" fill="rgb(195, 190, 180)"/>
<rect x="103" y="572" width="6" height="6" fill="rgb(195, 190, 180)"/>
<rect x="109" y="572" width="6" height="6" fill="rgb(195, 190, 180)"/>
<rect x="115" y="572" width="6" height="6" fill="rgb(195, 190, 181)"/>
<rect x="121" y="572" width="6" height="6" fill="rgb(195, 190, 181)"/>
<rect x="127" y="572" width="6" height="6" fill="rgb(196, 191, 182)"/>
<rect x="133" y="572" width="6" height="6" fill="rgb(197, 191, 183)"/>
<rect x="139" y="572" width="6" height="6" fill="rgb(198, 192, 184)"/>
<rect x="145" y="572" width="6" height="6" fill="rgb(199, 193, 185)"/>
<rect x="151" y="572" width="6" height="6" fill="rgb(200, 194, 187)"/>
<rect x="157" y="572" width="6" height="6" fill="rgb(202, 196, 189)"/>
<rect x="163" y="572" width="6" height="6" fill="rgb(204, 199, 191)"/>
<rect x="169" y="572" width="6" height="6" fill="rgb(207, 202, 195)"/>
<rect x="175" y="572" width="6" height="6" fill="rgb(211, 205, 198)"/>
<rect x="181" y="572" width="6" height="6" fill="rgb(214, 208, 202)"/>
<rect x="187" y="572" width="6" height="6" fill="rgb(218, 212, 205)"/>
<rect x="193" y="572" width="6" height="6" fill="rgb(220, 214, 208)"/>
<rect x="199" y="572" width="6" height="6" fill="rgb(221, 215, 209)"/>
<rect x="205" y="572" width="6" height="6" fill="rgb(221, 215, 209)"/>
<rect x="211" y="572" width="6" height="6" fill="rgb(221, 215, 209)"/>
<rect x="217" y="572" width="6" height="6" fill="rgb(220, 214, 208)"/>
<rect x="223" y="572" width="6" height="6" fill="rgb(220, 214, 208)"/>
<rect x="229" y="572" width="6" height="6" fill="rgb(222, 215, 209)"/>
<rect x="235" y="572" width="6" height="6" fill="rgb(224, 218, 211)"/>
<rect x="241" y="572" width="6" height="6" fill="rgb(226, 220, 213)"/>
<rect x="247" y="572" width="6" height="6" fill="rgb(227, 221, 214)"/>
<rect x="253" y="572" width="6" height="6" fill="rgb(227, 221, 214)"/>
<rect x="259" y="572" width="6" height="6" fill="rgb(227, 221, 214)"/>
<rect x="265" y="572" width="6" height="6" fill="rgb(227, 221, 214)"/>
<rect x="271" y="572" width="6" height="6" fill="rgb(226, 220, 213)"/>
<rect x="277" y="572" width="6" height="6" fill="rgb(226, 219, 212)"/>
<rect x="283" y="572" width="6" height="6" fill="rgb(225, 219, 211)"/>
<rect x="289" y="572" width="6" height="6" fill="rgb(226, 219, 211)"/>
<rect x="295" y="572" width="6" height="6" fill="rgb(227, 220, 211)"/>
<rect x="301" y="572" width="6" height="6" fill="rgb(228, 221, 212)"/>
<rect x="307" y="572" width="6" height="6" fill="rgb(229, 222, 213)"/>
<rect x="313" y="572" width="6" height="6" fill="rgb(230, 223, 214)"/>
<rect x="319" y="572" width="6" height="6" fill="rgb(230, 224, 214)"/>
<rect x="325" y="572" width="6" height="6" fill="rgb(231, 224, 214)"/>
<rect x="331" y="572" width="6" height="6" fill="rgb(231, 224, 214)"/>
<rect x="337" y="572" width="6" height="6" fill="rgb(231, 224, 214)"/>
<rect x="343" y="572" width="6" height="6" fill="rgb(231, 224, 214)"/>
<rect x="349" y="572" width="6" height="6" fill="rgb(232, 225, 215)"/>
<rect x="355" y="572" width="6" height="6" fill="rgb(232, 225, 215)"/>
<rect x="361" y="572" width="6" height="6" fill="rgb(232, 225, 215)"/>
<rect x="367" y="572" width="6" height="6" fill="rgb(232, 225, 215)"/>
<rect x="373" y="572" width="6" height="6" fill="rgb(232, 225, 215)"/>
<rect x="379" y="572" width="6" height="6" fill="rgb(231, 224, 214)"/>
<rect x="385" y="572" width="6" height="6" fill="rgb(231, 223, 213)"/>
<rect x="391" y="572" width="6" height="6" fill="rgb(230, 223, 212)"/>
<rect x="397" y="572" width="6" height="6" fill="rgb(230, 222, 212)"/>
<rect x="403" y="572" width="6" height="6" fill="rgb(230, 222, 211)"/>
<rect x="409" y="572" width="6" height="6" fill="rgb(230, 222, 211)"/>
<rect x="415" y="572" width="6" height="6" fill="rgb(230, 222, 211)"/>
<rect x="85" y="578" width="6" height="6" fill="rgb(194, 189, 180)"/>
<rect x="91" y="578" width="6" height="6" fill="rgb(194, 189, 180)"/>
<rect x="97" y="578" width="6" height="6" fill="rgb(194, 189, 180)"/>
<rect x="103" y="578" width="6" height="6" fill="rgb(194, 189, 180)"/>
<rect x="109" y="578" width="6" height="6" fill="rgb(194, 189, 180)"/>
<rect x="115" y="578" width="6" height="6" fill="rgb(194, 189, 180)"/>
<rect x="121" y="578" width="6" height="6" fill="rgb(195, 190, 180)"/>
<rect x="127" y="578" width="6" height="6" fill="rgb(195, 190, 181)"/>
<rect x="133" y="578" width="6" height="6" fill="rgb(196, 191, 182)"/>
<rect x="139" y="578" width="6" height="6" fill="rgb(197, 192, 184)"/>
<rect x="145" y="578" width="6" height="6" fill="rgb(198, 193, 184)"/>
<rect x="151" y="578" width="6" height="6" fill="rgb(199, 193, 185)"/>
<rect x="157" y="578" width="6" height="6" fill="rgb(200, 194, 187)"/>
<rect x="163" y="578" width="6" height="6" fill="rgb(202, 196, 189)"/>
<rect x="169" y="578" width="6" height="6" fill="rgb(205, 199, 192)"/>
<rect x="175" y="578" width="6" height="6" fill="rgb(209, 203, 197)"/>
<rect x="181" y="578" width="6" height="6" fill="rgb(214, 208, 201)"/>
<rect x="187" y="578" width="6" height="6" fill="rgb(218, 212, 206)"/>
<rect x="193" y="578" width="6" height="6" fill="rgb(220, 214, 208)"/>
<rect x="199" y="578" width="6" height="6" fill="rgb(221, 215, 209)"/>
<rect x="205" y="578" width="6" height="6" fill="rgb(221, 215, 209)"/>
<rect x="211" y="578" width="6" height="6" fill="rgb(221, 215, 209)"/>
<rect x="217" y="578" width="6" height="6" fill="rgb(220, 214, 208)"/>
<rect x="223" y="578" width="6" height="6" fill="rgb(220, 214, 207)"/>
<rect x="229" y="578" width="6" height="6" fill="rgb(221, 215, 208)"/>
<rect x="235" y="578" width="6" height="6" fill="rgb(224, 218, 211)"/>
<rect x="241" y="578" width="6" height="6" fill="rgb(226, 220, 213)"/>
<rect x="247" y="578" width="6" height="6" fill="rgb(227, 221, 214)"/>
<rect x="253" y="578" width="6" height="6" fill="rgb(227, 221, 214)"/>
<rect x="259" y="578" width="6" height="6" fill="rgb(227, 221, 214)"/>
<rect x="265" y="578" width="6" height="6" fill="rgb(227, 221, 214)"/>
<rect x="271" y="578" width="6" height="6" fill="rgb(226, 220, 213)"/>
<rect x="277" y="578" width="6" height="6" fill="rgb(226, 219, 212)"/>
<rect x="283" y="578" width="6" height="6" fill="rgb(225, 219, 211)"/>
<rect x="289" y="578" width="6" height="6" fill="rgb(226, 219, 210)"/>
<rect x="295" y="578" width="6" height="6" fill="rgb(226, 219, 210)"/>
<rect x="301" y="578" width="6" height="6" fill="rgb(227, 220, 211)"/>
<rect x="307" y="578" width="6" height="6" fill="rgb(228, 221, 212)"/>
<rect x="313" y="578" width="6" height="6" fill="rgb(229, 222, 213)"/>
<rect x="319" y="578" width="6" height="6" fill="rgb(230, 223, 214)"/>
<rect x="325" y="578" width="6" height="6" fill="rgb(231, 224, 214)"/>
<rect x="331" y="578" width="6" height="6" fill="rgb(231, 224, 214)"/>
<rect x="337" y="578" width="6" height="6" fill="rgb(231, 224, 214)"/>
<rect x="343" y="578" width="6" height="6" fill="rgb(231, 224, 214)"/>
<rect x="349" y="578" width="6" height="6" fill="rgb(232, 225, 215)"/>
<rect x="355" y="578" width="6" height="6" fill="rgb(232, 225, 215)"/>
<rect x="361" y="578" width="6" height="6" fill="rgb(232, 225, 215)"/>
<rect x="367" y="578" width="6" height="6" fill="rgb(232, 225, 215)"/>
<rect x="373" y="578" width="6" height="6" fill="rgb(232, 225, 215)"/>
<rect x="379" y="578" width="6" height="6" fill="rgb(231, 224, 214)"/>
<rect x="385" y="578" width="6" height="6" fill="rgb(231, 223, 213)"/>
<rect x="391" y="578" width="6" height="6" fill="rgb(230, 223, 212)"/>
<rect x="397" y="578" width="6" height="6" fill="rgb(230, 222, 211)"/>
<rect x="403" y="578" width="6" height="6" fill="rgb(229, 222, 211)"/>
<rect x="409" y="578" width="6" height="6" fill="rgb(229, 221, 210)"/>
<rect x="415" y="578" width="6" height="6" fill="rgb(229, 221, 210)"/>
<rect x="85" y="584" width="6" height="6" fill="rgb(192, 188, 178)"/>
<rect x="91" y="584" width="6" height="6" fill="rgb(193, 188, 179)"/>
<rect x="97" y="584" width="6" height="6" fill="rgb(194, 189, 179)"/>
<rect x="103" y="584" width="6" height="6" fill="rgb(194, 189, 179)"/>
<rect x="109" y="584" width="6" height="6" fill="rgb(194, 189, 179)"/>
<rect x="115" y="584" width="6" height="6" fill="rgb(194, 189, 179)"/>
<rect x="121" y="584" width="6" height="6" fill="rgb(194, 189, 179)"/>
<rect x="127" y="584" width="6" height="6" fill="rgb(195, 189, 180)"/>
<rect x="133" y="584" width="6" height="6" fill="rgb(196, 191, 182)"/>
<rect x="139" y="584" width="6" height="6" fill="rgb(198, 192, 184)"/>
<rect x="145" y="584" width="6" height="6" fill="rgb(199, 193, 185)"/>
<rect x="151" y="584" width="6" height="6" fill="rgb(199, 193, 185)"/>
<rect x="157" y="584" width="6" height="6" fill="rgb(199, 193, 185)"/>
<rect x="163" y="584" width="6" height="6" fill="rgb(201, 194, 187)"/>
<rect x="169" y="584" width="6" height="6" fill="rgb(203, 197, 190)"/>
<rect x="175" y="584" width="6" height="6" fill="rgb(207, 201, 194)"/>
<rect x="181" y="584" width="6" height="6" fill="rgb(212, 206, 200)"/>
<rect x="187" y="584" width="6" height="6" fill="rgb(217, 211, 205)"/>
<rect x="193" y="584" width="6" height="6" fill="rgb(220, 214, 208)"/>
<rect x="199" y="584" width="6" height="6" fill="rgb(221, 215, 209)"/>
<rect x="205" y="584" width="6" height="6" fill="rgb(221, 215, 209)"/>
<rect x="211" y="584" width="6" height="6" fill="rgb(221, 215, 208)"/>
<rect x="217" y="584" width="6" height="6" fill="rgb(220, 214, 207)"/>
<rect x="223" y="584" width="6" height="6" fill="rgb(220, 213, 207)"/>
<rect x="229" y="584" width="6" height="6" fill="rgb(221, 214, 207)"/>
<rect x="235" y="584" width="6" height="6" fill="rgb(223, 217, 210)"/>
<rect x="241" y="584" width="6" height="6" fill="rgb(226, 219, 212)"/>
<rect x="247" y="584" width="6" height="6" fill="rgb(227, 221, 214)"/>
<rect x="253" y="584" width="6" height="6" fill="rgb(227, 221, 214)"/>
<rect x="259" y="584" width="6" height="6" fill="rgb(227, 221, 214)"/>
<rect x="265" y="584" width="6" height="6" fill="rgb(227, 221, 214)"/>
<rect x="271" y="584" width="6" height="6" fill="rgb(226, 220, 213)"/>
<rect x="277" y="584" width="6" height="6" fill="rgb(225, 219, 211)"/>
<rect x="283" y="584" width="6" height="6" fill="rgb(225, 218, 210)"/>
<rect x="289" y="584" width="6" height="6" fill="rgb(225, 218, 210)"/>
<rect x="295" y="584" width="6" height="6" fill="rgb(226, 219, 210)"/>
<rect x="301" y="584" width="6" height="6" fill="rgb(227, 220, 210)"/>
<rect x="307" y="584" width="6" height="6" fill="rgb(228, 221, 211)"/>
<rect x="313" y="584" width="6" height="6" fill="rgb(229, 222, 212)"/>
<rect x="319" y="584" width="6" height="6" fill="rgb(230, 223, 213)"/>
<rect x="325" y="584" width="6" height="6" fill="rgb(231, 224, 214)"/>
<rect x="331" y="584" width="6" height="6" fill="rgb(231, 224, 214)"/>
<rect x="337" y="584" width="6" height="6" fill="rgb(231, 224, 214)"/>
<rect x="343" y="584" width="6" height="6" fill="rgb(231, 224, 214)"/>
<rect x="349" y="584" width="6" height="6" fill="rgb(232, 225, 215)"/>
<rect x="355" y="584" width="6" height="6" fill="rgb(232, 225, 215)"/>
<rect x="361" y="584" width="6" height="6" fill="rgb(232, 225, 215)"/>
<rect x="367" y="584" width="6" height="6" fill="rgb(232, 225, 215)"/>
<rect x="373" y="584" width="6" height="6" fill="rgb(232, 225, 215)"/>
<rect x="379" y="584" width="6" height="6" fill="rgb(231, 224, 214)"/>
<rect x="385" y="584" width="6" height="6" fill="rgb(230, 223, 213)"/>
<rect x="391" y="584" width="6" height="6" fill="rgb(230, 222, 211)"/>
<rect x="397" y="584" width="6" height="6" fill="rgb(229, 221, 210)"/>
<rect x="403" y="584" width="6" height="6" fill="rgb(229, 221, 210)"/>
<rect x="409" y="584" width="6" height="6" fill="rgb(228, 221, 209)"/>
<rect x="415" y="584" width="6" height="6" fill="rgb(228, 220, 209)"/>
<rect x="85" y="590" width="6" height="6" fill="rgb(190, 185, 176)"/>
<rect x="91" y="590" width="6" height="6" fill="rgb(192, 186, 177)"/>
<rect x="97" y="590" width="6" height="6" fill="rgb(193, 188, 178)"/>
<rect x="103" y="590" width="6" height="6" fill="rgb(193, 188, 178)"/>
<rect x="109" y="590" width="6" height="6" fill="rgb(193, 188, 178)"/>
<rect x="115" y="590" width="6" height="6" fill="rgb(193, 188, 178)"/>
<rect x="121" y="590" width="6" height="6" fill="rgb(193, 187, 178)"/>
<rect x="127" y="590" width="6" height="6" fill="rgb(194, 188, 180)"/>
<rect x="133" y="590" width="6" height="6" fill="rgb(197, 191, 182)"/>
<rect x="139" y="590" width="6" height="6" fill="rgb(198, 192, 184)"/>
<rect x="145" y="590" width="6" height="6" fill="rgb(199, 193, 185)"/>
<rect x="151" y="590" width="6" height="6" fill="rgb(199, 193, 185)"/>
<rect x="157" y="590" width="6" height="6" fill="rgb(199, 193, 185)"/>
<rect x="163" y="590" width="6" height="6" fill="rgb(199, 193, 185)"/>
<rect x="169" y="590" width="6" height="6" fill="rgb(201, 195, 187)"/>
<rect x="175" y="590" width="6" height="6" fill="rgb(205, 199, 191)"/>
<rect x="181" y="590" width="6" height="6" fill="rgb(210, 203, 196)"/>
<rect x="187" y="590" width="6" height="6" fill="rgb(214, 208, 202)"/>
<rect x="193" y="590" width="6" height="6" fill="rgb(218, 212, 205)"/>
<rect x="199" y="590" width="6" height="6" fill="rgb(220, 213, 207)"/>
<rect x="205" y="590" width="6" height="6" fill="rgb(220, 214, 208)"/>
<rect x="211" y="590" width="6" height="6" fill="rgb(219, 213, 207)"/>
<rect x="217" y="590" width="6" height="6" fill="rgb(219, 212, 206)"/>
<rect x="223" y="590" width="6" height="6" fill="rgb(218, 212, 205)"/>
<rect x="229" y="590" width="6" height="6" fill="rgb(220, 213, 206)"/>
<rect x="235" y="590" width="6" height="6" fill="rgb(222, 216, 208)"/>
<rect x="241" y="590" width="6" height="6" fill="rgb(224, 218, 211)"/>
<rect x="247" y="590" width="6" height="6" fill="rgb(226, 220, 213)"/>
<rect x="253" y="590" width="6" height="6" fill="rgb(227, 221, 213)"/>
<rect x="259" y="590" width="6" height="6" fill="rgb(227, 221, 213)"/>
<rect x="265" y="590" width="6" height="6" fill="rgb(226, 220, 213)"/>
<rect x="271" y="590" width="6" height="6" fill="rgb(226, 219, 212)"/>
<rect x="277" y="590" width="6" height="6" fill="rgb(225, 218, 210)"/>
<rect x="283" y="590" width="6" height="6" fill="rgb(225, 218, 209)"/>
<rect x="289" y="590" width="6" height="6" fill="rgb(225, 218, 209)"/>
<rect x="295" y="590" width="6" height="6" fill="rgb(225, 218, 209)"/>
<rect x="301" y="590" width="6" height="6" fill="rgb(226, 219, 209)"/>
<rect x="307" y="590" width="6" height="6" fill="rgb(227, 220, 210)"/>
<rect x="313" y="590" width="6" height="6" fill="rgb(228, 221, 211)"/>
<rect x="319" y="590" width="6" height="6" fill="rgb(229, 222, 212)"/>
<rect x="325" y="590" width="6" height="6" fill="rgb(230, 223, 213)"/>
<rect x="331" y="590" width="6" height="6" fill="rgb(231, 224, 214)"/>
<rect x="337" y="590" width="6" height="6" fill="rgb(231, 224, 214)"/>
<rect x="343" y="590" width="6" height="6" fill="rgb(231, 224, 214)"/>
<rect x="349" y="590" width="6" height="6" fill="rgb(231, 224, 214)"/>
<rect x="355" y="590" width="6" height="6" fill="rgb(232, 225, 215)"/>
<rect x="361" y="590" width="6" height="6" fill="rgb(232, 225, 215)"/>
<rect x="367" y="590" width="6" height="6" fill="rgb(232, 225, 215)"/>
<rect x="373" y="590" width="6" height="6" fill="rgb(232, 224, 214)"/>
<rect x="379" y="590" width="6" height="6" fill="rgb(231, 223, 213)"/>
<rect x="385" y="590" width="6" height="6" fill="rgb(230, 222, 212)"/>
<rect x="391" y="590" width="6" height="6" fill="rgb(229, 221, 210)"/>
<rect x="397" y="590" width="6" height="6" fill="rgb(228, 221, 209)"/>
<rect x="403" y="590" width="6" height="6" fill="rgb(228, 220, 209)"/>
<rect x="409" y="590" width="6" height="6" fill="rgb(228, 220, 209)"/>
<rect x="415" y="590" width="6" height="6" fill="rgb(228, 220, 208)"/>
<rect x="85" y="596" width="6" height="6" fill="rgb(187, 181, 172)"/>
<rect x="91" y="596" width="6" height="6" fill="rgb(188, 182, 173)"/>
<rect x="97" y="596" width="6" height="6" fill="rgb(189, 183, 173)"/>
<rect x="103" y="596" width="6" height="6" fill="rgb(189, 184, 174)"/>
<rect x="109" y="596" width="6" height="6" fill="rgb(189, 184, 174)"/>
<rect x="115" y="596" width="6" height="6" fill="rgb(189, 184, 174)"/>
<rect x="121" y="596" width="6" height="6" fill="rgb(190, 185, 176)"/>
<rect x="127" y="596" width="6" height="6" fill="rgb(193, 187, 179)"/>
<rect x="133" y="596" width="6" height="6" fill="rgb(196, 190, 182)"/>
<rect x="139" y="596" width="6" height="6" fill="rgb(199, 193, 185)"/>
<rect x="145" y="596" width="6" height="6" fill="rgb(199, 193, 185)"/>
<rect x="151" y="596" width="6" height="6" fill="rgb(199, 193, 185)"/>
<rect x="157" y="596" width="6" height="6" fill="rgb(199, 193, 185)"/>
<rect x="163" y="596" width="6" height="6" fill="rgb(199, 192, 184)"/>
<rect x="169" y="596" width="6" height="6" fill="rgb(200, 193, 185)"/>
<rect x="175" y="596" width="6" height="6" fill="rgb(202, 196, 188)"/>
<rect x="181" y="596" width="6" height="6" fill="rgb(206, 199, 192)"/>
<rect x="187" y="596" width="6" height="6" fill="rgb(210, 203, 197)"/>
<rect x="193" y="596" width="6" height="6" fill="rgb(214, 207, 200)"/>
<rect x="199" y="596" width="6" height="6" fill="rgb(216, 209, 203)"/>
<rect x="205" y="596" width="6" height="6" fill="rgb(217, 210, 204)"/>
<rect x="211" y="596" width="6" height="6" fill="rgb(217, 210, 204)"/>
<rect x="217" y="596" width="6" height="6" fill="rgb(216, 210, 203)"/>
<rect x="223" y="596" width="6" height="6" fill="rgb(217, 210, 203)"/>
<rect x="229" y="596" width="6" height="6" fill="rgb(218, 211, 204)"/>
<rect x="235" y="596" width="6" height="6" fill="rgb(220, 213, 206)"/>
<rect x="241" y="596" width="6" height="6" fill="rgb(222, 216, 208)"/>
<rect x="247" y="596" width="6" height="6" fill="rgb(224, 218, 210)"/>
<rect x="253" y="596" width="6" height="6" fill="rgb(225, 219, 211)"/>
<rect x="259" y="596" width="6" height="6" fill="rgb(225, 219, 212)"/>
<rect x="265" y="596" width="6" height="6" fill="rgb(225, 219, 211)"/>
<rect x="271" y="596" width="6" height="6" fill="rgb(225, 218, 210)"/>
<rect x="277" y="596" width="6" height="6" fill="rgb(224, 217, 209)"/>
<rect x="283" y="596" width="6" height="6" fill="rgb(224, 217, 208)"/>
<rect x="289" y="596" width="6" height="6" fill="rgb(224, 217, 208)"/>
<rect x="295" y="596" width="6" height="6" fill="rgb(225, 218, 208)"/>
<rect x="301" y="596" width="6" height="6" fill="rgb(226, 218, 208)"/>
<rect x="307" y="596" width="6" height="6" fill="rgb(226, 219, 209)"/>
<rect x="313" y="596" width="6" height="6" fill="rgb(227, 220, 210)"/>
<rect x="319" y="596" width="6" height="6" fill="rgb(228, 221, 211)"/>
<rect x="325" y="596" width="6" height="6" fill="rgb(229, 222, 212)"/>
<rect x="331" y="596" width="6" height="6" fill="rgb(230, 223, 212)"/>
<rect x="337" y="596" width="6" height="6" fill="rgb(230, 223, 213)"/>
<rect x="343" y="596" width="6" height="6" fill="rgb(230, 223, 213)"/>
<rect x="349" y="596" width="6" height="6" fill="rgb(231, 224, 213)"/>
<rect x="355" y="596" width="6" height="6" fill="rgb(231, 224, 214)"/>
<rect x="361" y="596" width="6" height="6" fill="rgb(231, 224, 214)"/>
<rect x="367" y="596" width="6" height="6" fill="rgb(231, 224, 214)"/>
<rect x="373" y="596" width="6" height="6" fill="rgb(231, 223, 213)"/>
<rect x="379" y="596" width="6" height="6" fill="rgb(229, 222, 211)"/>
<rect x="385" y="596" width="6" height="6" fill="rgb(228, 221, 210)"/>
<rect x="391" y="596" width="6" height="6" fill="rgb(228, 220, 209)"/>
<rect x="397" y="596" width="6" height="6" fill="rgb(227, 220, 208)"/>
<rect x="403" y="596" width="6" height="6" fill="rgb(227, 219, 208)"/>
<rect x="409" y="596" width="6" height="6" fill="rgb(227, 219, 208)"/>
<rect x="415" y="596" width="6" height="6" fill="rgb(227, 219, 207)"/>
<rect x="85" y="602" width="6" height="6" fill="rgb(181, 176, 166)"/>
<rect x="91" y="602" width="6" height="6" fill="rgb(181, 175, 165)"/>
<rect x="97" y="602" width="6" height="6" fill="rgb(181, 175, 165)"/>
<rect x="103" y="602" width="6" height="6" fill="rgb(181, 175, 165)"/>
<rect x="109" y="602" width="6" height="6" fill="rgb(182, 176, 166)"/>
<rect x="115" y="602" width="6" height="6" fill="rgb(183, 177, 168)"/>
<rect x="121" y="602" width="6" height="6" fill="rgb(186, 180, 171)"/>
<rect x="127" y="602" width="6" height="6" fill="rgb(191, 184, 176)"/>
<rect x="133" y="602" width="6" height="6" fill="rgb(195, 189, 180)"/>
<rect x="139" y="602" width="6" height="6" fill="rgb(198, 192, 184)"/>
<rect x="145" y="602" width="6" height="6" fill="rgb(199, 193, 185)"/>
<rect x="151" y="602" width="6" height="6" fill="rgb(199, 193, 185)"/>
<rect x="157" y="602" width="6" height="6" fill="rgb(198, 192, 184)"/>
<rect x="163" y="602" width="6" height="6" fill="rgb(197, 191, 183)"/>
<rect x="169" y="602" width="6" height="6" fill="rgb(198, 191, 183)"/>
<rect x="175" y="602" width="6" height="6" fill="rgb(200, 193, 185)"/>
<rect x="181" y="602" width="6" height="6" fill="rgb(203, 195, 188)"/>
<rect x="187" y="602" width="6" height="6" fill="rgb(205, 198, 191)"/>
<rect x="193" y="602" width="6" height="6" fill="rgb(208, 201, 194)"/>
<rect x="199" y="602" width="6" height="6" fill="rgb(210, 203, 196)"/>
<rect x="205" y="602" width="6" height="6" fill="rgb(212, 205, 198)"/>
<rect x="211" y="602" width="6" height="6" fill="rgb(213, 206, 199)"/>
<rect x="217" y="602" width="6" height="6" fill="rgb(214, 206, 199)"/>
<rect x="223" y="602" width="6" height="6" fill="rgb(214, 207, 199)"/>
<rect x="229" y="602" width="6" height="6" fill="rgb(216, 208, 200)"/>
<rect x="235" y="602" width="6" height="6" fill="rgb(217, 210, 202)"/>
<rect x="241" y="602" width="6" height="6" fill="rgb(220, 213, 205)"/>
<rect x="247" y="602" width="6" height="6" fill="rgb(221, 215, 207)"/>
<rect x="253" y="602" width="6" height="6" fill="rgb(223, 216, 208)"/>
<rect x="259" y="602" width="6" height="6" fill="rgb(223, 216, 208)"/>
<rect x="265" y="602" width="6" height="6" fill="rgb(223, 216, 208)"/>
<rect x="271" y="602" width="6" height="6" fill="rgb(223, 216, 208)"/>
<rect x="277" y="602" width="6" height="6" fill="rgb(223, 216, 207)"/>
<rect x="283" y="602" width="6" height="6" fill="rgb(224, 216, 207)"/>
<rect x="289" y="602" width="6" height="6" fill="rgb(224, 217, 207)"/>
<rect x="295" y="602" width="6" height="6" fill="rgb(225, 217, 207)"/>
<rect x="301" y="602" width="6" height="6" fill="rgb(225, 218, 208)"/>
<rect x="307" y="602" width="6" height="6" fill="rgb(226, 218, 208)"/>
<rect x="313" y="602" width="6" height="6" fill="rgb(226, 219, 208)"/>
<rect x="319" y="602" width="6" height="6" fill="rgb(227, 219, 209)"/>
<rect x="325" y="602" width="6" height="6" fill="rgb(227, 220, 209)"/>
<rect x="331" y="602" width="6" height="6" fill="rgb(228, 220, 210)"/>
<rect x="337" y="602" width="6" height="6" fill="rgb(229, 221, 211)"/>
<rect x="343" y="602" width="6" height="6" fill="rgb(229, 222, 211)"/>
<rect x="349" y="602" width="6" height="6" fill="rgb(230, 222, 212)"/>
<rect x="355" y="602" width="6" height="6" fill="rgb(230, 223, 212)"/>
<rect x="361" y="602" width="6" height="6" fill="rgb(230, 223, 212)"/>
<rect x="367" y="602" width="6" height="6" fill="rgb(230, 222, 212)"/>
<rect x="373" y="602" width="6" height="6" fill="rgb(229, 221, 210)"/>
<rect x="379" y="602" width="6" height="6" fill="rgb(228, 220, 209)"/>
<rect x="385" y="602" width="6" height="6" fill="rgb(227, 219, 208)"/>
<rect x="391" y="602" width="6" height="6" fill="rgb(227, 219, 207)"/>
<rect x="397" y="602" width="6" height="6" fill="rgb(227, 219, 207)"/>
<rect x="403" y="602" width="6" height="6" fill="rgb(227, 219, 207)"/>
<rect x="409" y="602" width="6" height="6" fill="rgb(227, 219, 207)"/>
<rect x="415" y="602" width="6" height="6" fill="rgb(227, 219, 207)"/>
<rect x="85" y="608" width="6" height="6" fill="rgb(176, 170, 160)"/>
<rect x="91" y="608" width="6" height="6" fill="rgb(174, 168, 158)"/>
<rect x="97" y="608" width="6" height="6" fill="rgb(173, 166, 156)"/>
<rect x="103" y="608" width="6" height="6" fill="rgb(172, 165, 156)"/>
<rect x="109" y="608" width="6" height="6" fill="rgb(173, 166, 157)"/>
<rect x="115" y="608" width="6" height="6" fill="rgb(176, 170, 160)"/>
<rect x="121" y="608" width="6" height="6" fill="rgb(181, 175, 165)"/>
<rect x="127" y="608" width="6" height="6" fill="rgb(187, 180, 171)"/>
<rect x="133" y="608" width="6" height="6" fill="rgb(191, 185, 176)"/>
<rect x="139" y="608" width="6" height="6" fill="rgb(194, 188, 180)"/>
<rect x="145" y="608" width="6" height="6" fill="rgb(196, 189, 181)"/>
<rect x="151" y="608" width="6" height="6" fill="rgb(196, 189, 181)"/>
<rect x="157" y="608" width="6" height="6" fill="rgb(195, 189, 181)"/>
<rect x="163" y="608" width="6" height="6" fill="rgb(195, 188, 180)"/>
<rect x="169" y="608" width="6" height="6" fill="rgb(196, 189, 181)"/>
<rect x="175" y="608" width="6" height="6" fill="rgb(198, 191, 183)"/>
<rect x="181" y="608" width="6" height="6" fill="rgb(200, 193, 185)"/>
<rect x="187" y="608" width="6" height="6" fill="rgb(201, 194, 187)"/>
<rect x="193" y="608" width="6" height="6" fill="rgb(203, 196, 188)"/>
<rect x="199" y="608" width="6" height="6" fill="rgb(205, 198, 190)"/>
<rect x="205" y="608" width="6" height="6" fill="rgb(207, 200, 193)"/>
<rect x="211" y="608" width="6" height="6" fill="rgb(209, 202, 194)"/>
<rect x="217" y="608" width="6" height="6" fill="rgb(211, 203, 195)"/>
<rect x="223" y="608" width="6" height="6" fill="rgb(212, 204, 196)"/>
<rect x="229" y="608" width="6" height="6" fill="rgb(213, 205, 197)"/>
<rect x="235" y="608" width="6" height="6" fill="rgb(215, 207, 199)"/>
<rect x="241" y="608" width="6" height="6" fill="rgb(217, 209, 200)"/>
<rect x="247" y="608" width="6" height="6" fill="rgb(218, 211, 202)"/>
<rect x="253" y="608" width="6" height="6" fill="rgb(220, 212, 204)"/>
<rect x="259" y="608" width="6" height="6" fill="rgb(221, 213, 205)"/>
<rect x="265" y="608" width="6" height="6" fill="rgb(221, 214, 205)"/>
<rect x="271" y="608" width="6" height="6" fill="rgb(222, 214, 206)"/>
<rect x="277" y="608" width="6" height="6" fill="rgb(223, 215, 206)"/>
<rect x="283" y="608" width="6" height="6" fill="rgb(223, 216, 206)"/>
<rect x="289" y="608" width="6" height="6" fill="rgb(224, 217, 207)"/>
<rect x="295" y="608" width="6" height="6" fill="rgb(225, 217, 207)"/>
<rect x="301" y="608" width="6" height="6" fill="rgb(225, 218, 207)"/>
<rect x="307" y="608" width="6" height="6" fill="rgb(226, 218, 207)"/>
<rect x="313" y="608" width="6" height="6" fill="rgb(225, 218, 207)"/>
<rect x="319" y="608" width="6" height="6" fill="rgb(225, 218, 207)"/>
<rect x="325" y="608" width="6" height="6" fill="rgb(225, 218, 207)"/>
<rect x="331" y="608" width="6" height="6" fill="rgb(226, 218, 207)"/>
<rect x="337" y="608" width="6" height="6" fill="rgb(226, 219, 208)"/>
<rect x="343" y="608" width="6" height="6" fill="rgb(227, 220, 209)"/>
<rect x="349" y="608" width="6" height="6" fill="rgb(228, 220, 210)"/>
<rect x="355" y="608" width="6" height="6" fill="rgb(228, 221, 210)"/>
<rect x="361" y="608" width="6" height="6" fill="rgb(228, 221, 210)"/>
<rect x="367" y="608" width="6" height="6" fill="rgb(228, 220, 209)"/>
<rect x="373" y="608" width="6" height="6" fill="rgb(227, 219, 208)"/>
<rect x="379" y="608" width="6" height="6" fill="rgb(226, 219, 207)"/>
<rect x="385" y="608" width="6" height="6" fill="rgb(226, 218, 206)"/>
<rect x="391" y="608" width="6" height="6" fill="rgb(226, 218, 206)"/>
<rect x="397" y="608" width="6" height="6" fill="rgb(226, 218, 206)"/>
<rect x="403" y="608" width="6" height="6" fill="rgb(226, 218, 206)"/>
<rect x="409" y="608" width="6" height="6" fill="rgb(226, 218, 206)"/>
<rect x="415" y="608" width="6" height="6" fill="rgb(226, 218, 206)"/>
<rect x="85" y="614" width="6" height="6" fill="rgb(172, 165, 155)"/>
<rect x="91" y="614" width="6" height="6" fill="rgb(169, 163, 153)"/>
<rect x="97" y="614" width="6" height="6" fill="rgb(167, 161, 151)"/>
<rect x="103" y="614" width="6" height="6" fill="rgb(167, 160, 150)"/>
<rect x="109" y="614" width="6" height="6" fill="rgb(167, 160, 150)"/>
<rect x="115" y="614" width="6" height="6" fill="rgb(170, 163, 154)"/>
<rect x="121" y="614" width="6" height="6" fill="rgb(176, 169, 160)"/>
<rect x="127" y="614" width="6" height="6" fill="rgb(182, 176, 167)"/>
<rect x="133" y="614" width="6" height="6" fill="rgb(187, 180, 171)"/>
<rect x="139" y="614" width="6" height="6" fill="rgb(188, 182, 173)"/>
<rect x="145" y="614" width="6" height="6" fill="rgb(189, 182, 174)"/>
<rect x="151" y="614" width="6" height="6" fill="rgb(189, 183, 174)"/>
<rect x="157" y="614" width="6" height="6" fill="rgb(190, 183, 175)"/>
<rect x="163" y="614" width="6" height="6" fill="rgb(192, 185, 177)"/>
<rect x="169" y="614" width="6" height="6" fill="rgb(195, 187, 180)"/>
<rect x="175" y="614" width="6" height="6" fill="rgb(197, 190, 182)"/>
<rect x="181" y="614" width="6" height="6" fill="rgb(199, 191, 184)"/>
<rect x="187" y="614" width="6" height="6" fill="rgb(200, 192, 185)"/>
<rect x="193" y="614" width="6" height="6" fill="rgb(201, 193, 185)"/>
<rect x="199" y="614" width="6" height="6" fill="rgb(202, 194, 187)"/>
<rect x="205" y="614" width="6" height="6" fill="rgb(204, 196, 189)"/>
<rect x="211" y="614" width="6" height="6" fill="rgb(207, 199, 191)"/>
<rect x="217" y="614" width="6" height="6" fill="rgb(209, 201, 192)"/>
<rect x="223" y="614" width="6" height="6" fill="rgb(210, 202, 193)"/>
<rect x="229" y="614" width="6" height="6" fill="rgb(212, 203, 194)"/>
<rect x="235" y="614" width="6" height="6" fill="rgb(213, 204, 195)"/>
<rect x="241" y="614" width="6" height="6" fill="rgb(214, 206, 197)"/>
<rect x="247" y="614" width="6" height="6" fill="rgb(215, 207, 198)"/>
<rect x="253" y="614" width="6" height="6" fill="rgb(217, 209, 200)"/>
<rect x="259" y="614" width="6" height="6" fill="rgb(218, 211, 202)"/>
<rect x="265" y="614" width="6" height="6" fill="rgb(220, 212, 203)"/>
<rect x="271" y="614" width="6" height="6" fill="rgb(221, 213, 204)"/>
<rect x="277" y="614" width="6" height="6" fill="rgb(222, 214, 205)"/>
<rect x="283" y="614" width="6" height="6" fill="rgb(223, 216, 206)"/>
<rect x="289" y="614" width="6" height="6" fill="rgb(225, 217, 207)"/>
<rect x="295" y="614" width="6" height="6" fill="rgb(226, 218, 207)"/>
<rect x="301" y="614" width="6" height="6" fill="rgb(226, 218, 208)"/>
<rect x="307" y="614" width="6" height="6" fill="rgb(226, 218, 207)"/>
<rect x="313" y="614" width="6" height="6" fill="rgb(225, 217, 207)"/>
<rect x="319" y="614" width="6" height="6" fill="rgb(225, 217, 206)"/>
<rect x="325" y="614" width="6" height="6" fill="rgb(224, 216, 205)"/>
<rect x="331" y="614" width="6" height="6" fill="rgb(224, 216, 206)"/>
<rect x="337" y="614" width="6" height="6" fill="rgb(225, 217, 206)"/>
<rect x="343" y="614" width="6" height="6" fill="rgb(226, 218, 207)"/>
<rect x="349" y="614" width="6" height="6" fill="rgb(226, 219, 208)"/>
<rect x="355" y="614" width="6" height="6" fill="rgb(227, 219, 208)"/>
<rect x="361" y="614" width="6" height="6" fill="rgb(227, 219, 208)"/>
<rect x="367" y="614" width="6" height="6" fill="rgb(227, 219, 207)"/>
<rect x="373" y="614" width="6" height="6" fill="rgb(226, 218, 206)"/>
<rect x="379" y="614" width="6" height="6" fill="rgb(226, 218, 206)"/>
<rect x="385" y="614" width="6" height="6" fill="rgb(226, 218, 206)"/>
<rect x="391" y="614" width="6" height="6" fill="rgb(226, 218, 206)"/>
<rect x="397" y="614" width="6" height="6" fill="rgb(226, 218, 206)"/>
<rect x="403" y="614" width="6" height="6" fill="rgb(226, 218, 206)"/>
<rect x="409" y="614" width="6" height="6" fill="rgb(226, 218, 206)"/>
<rect x="415" y="614" width="6" height="6" fill="rgb(226, 218, 206)"/>
<rect x="85" y="620" width="6" height="6" fill="rgb(169, 162, 152)"/>
<rect x="91" y="620" width="6" height="6" fill="rgb(167, 160, 150)"/>
<rect x="97" y="620" width="6" height="6" fill="rgb(165, 159, 149)"/>
<rect x="103" y="620" width="6" height="6" fill="rgb(165, 158, 148)"/>
<rect x="109" y="620" width="6" height="6" fill="rgb(165, 158, 148)"/>
<rect x="115" y="620" width="6" height="6" fill="rgb(167, 160, 150)"/>
<rect x="121" y="620" width="6" height="6" fill="rgb(173, 166, 156)"/>
<rect x="127" y="620" width="6" height="6" fill="rgb(179, 173, 164)"/>
<rect x="133" y="620" width="6" height="6" fill="rgb(184, 177, 168)"/>
<rect x="139" y="620" width="6" height="6" fill="rgb(185, 178, 170)"/>
<rect x="145" y="620" width="6" height="6" fill="rgb(185, 178, 170)"/>
<rect x="151" y="620" width="6" height="6" fill="rgb(185, 178, 170)"/>
<rect x="157" y="620" width="6" height="6" fill="rgb(187, 180, 172)"/>
<rect x="163" y="620" width="6" height="6" fill="rgb(189, 182, 174)"/>
<rect x="169" y="620" width="6" height="6" fill="rgb(194, 186, 178)"/>
<rect x="175" y="620" width="6" height="6" fill="rgb(197, 190, 182)"/>
<rect x="181" y="620" width="6" height="6" fill="rgb(199, 191, 184)"/>
<rect x="187" y="620" width="6" height="6" fill="rgb(199, 191, 184)"/>
<rect x="193" y="620" width="6" height="6" fill="rgb(200, 192, 185)"/>
<rect x="199" y="620" width="6" height="6" fill="rgb(201, 193, 185)"/>
<rect x="205" y="620" width="6" height="6" fill="rgb(203, 195, 187)"/>
<rect x="211" y="620" width="6" height="6" fill="rgb(206, 197, 189)"/>
<rect x="217" y="620" width="6" height="6" fill="rgb(208, 199, 190)"/>
<rect x="223" y="620" width="6" height="6" fill="rgb(210, 201, 191)"/>
<rect x="229" y="620" width="6" height="6" fill="rgb(211, 202, 192)"/>
<rect x="235" y="620" width="6" height="6" fill="rgb(211, 202, 193)"/>
<rect x="241" y="620" width="6" height="6" fill="rgb(212, 203, 194)"/>
<rect x="247" y="620" width="6" height="6" fill="rgb(213, 205, 195)"/>
<rect x="253" y="620" width="6" height="6" fill="rgb(215, 206, 197)"/>
<rect x="259" y="620" width="6" height="6" fill="rgb(216, 208, 199)"/>
<rect x="265" y="620" width="6" height="6" fill="rgb(218, 210, 200)"/>
<rect x="271" y="620" width="6" height="6" fill="rgb(220, 212, 202)"/>
<rect x="277" y="620" width="6" height="6" fill="rgb(222, 214, 204)"/>
<rect x="283" y="620" width="6" height="6" fill="rgb(224, 216, 206)"/>
<rect x="289" y="620" width="6" height="6" fill="rgb(226, 218, 207)"/>
<rect x="295" y="620" width="6" height="6" fill="rgb(227, 219, 208)"/>
<rect x="301" y="620" width="6" height="6" fill="rgb(227, 219, 209)"/>
<rect x="307" y="620" width="6" height="6" fill="rgb(226, 218, 208)"/>
<rect x="313" y="620" width="6" height="6" fill="rgb(225, 217, 206)"/>
<rect x="319" y="620" width="6" height="6" fill="rgb(224, 216, 205)"/>
<rect x="325" y="620" width="6" height="6" fill="rgb(224, 216, 205)"/>
<rect x="331" y="620" width="6" height="6" fill="rgb(224, 216, 205)"/>
<rect x="337" y="620" width="6" height="6" fill="rgb(224, 216, 205)"/>
<rect x="343" y="620" width="6" height="6" fill="rgb(225, 217, 206)"/>
<rect x="349" y="620" width="6" height="6" fill="rgb(225, 218, 206)"/>
<rect x="355" y="620" width="6" height="6" fill="rgb(226, 218, 207)"/>
<rect x="361" y="620" width="6" height="6" fill="rgb(226, 218, 207)"/>
<rect x="367" y="620" width="6" height="6" fill="rgb(226, 218, 206)"/>
<rect x="373" y="620" width="6" height="6" fill="rgb(226, 218, 206)"/>
<rect x="379" y="620" width="6" height="6" fill="rgb(226, 218, 206)"/>
<rect x="385" y="620" width="6" height="6" fill="rgb(226, 218, 206)"/>
<rect x="391" y="620" width="6" height="6" fill="rgb(226, 218, 206)"/>
<rect x="397" y="620" width="6" height="6" fill="rgb(226, 218, 206)"/>
<rect x="403" y="620" width="6" height="6" fill="rgb(226, 218, 206)"/>
<rect x="409" y="620" width="6" height="6" fill="rgb(226, 218, 205)"/>
<rect x="415" y="620" width="6" height="6" fill="rgb(226, 218, 205)"/>
<rect x="85" y="626" width="6" height="6" fill="rgb(168, 161, 151)"/>
<rect x="91" y="626" width="6" height="6" fill="rgb(166, 159, 149)"/>
<rect x="97" y="626" width="6" height="6" fill="rgb(165, 158, 148)"/>
<rect x="103" y="626" width="6" height="6" fill="rgb(165, 158, 148)"/>
<rect x="109" y="626" width="6" height="6" fill="rgb(165, 158, 148)"/>
<rect x="115" y="626" width="6" height="6" fill="rgb(166, 159, 150)"/>
<rect x="121" y="626" width="6" height="6" fill="rgb(171, 164, 155)"/>
<rect x="127" y="626" width="6" height="6" fill="rgb(178, 171, 162)"/>
<rect x="133" y="626" width="6" height="6" fill="rgb(182, 175, 167)"/>
<rect x="139" y="626" width="6" height="6" fill="rgb(184, 177, 169)"/>
<rect x="145" y="626" width="6" height="6" fill="rgb(184, 177, 169)"/>
<rect x="151" y="626" width="6" height="6" fill="rgb(185, 178, 170)"/>
<rect x="157" y="626" width="6" height="6" fill="rgb(185, 178, 170)"/>
<rect x="163" y="626" width="6" height="6" fill="rgb(188, 181, 172)"/>
<rect x="169" y="626" width="6" height="6" fill="rgb(193, 185, 177)"/>
<rect x="175" y="626" width="6" height="6" fill="rgb(197, 190, 182)"/>
<rect x="181" y="626" width="6" height="6" fill="rgb(199, 191, 184)"/>
<rect x="187" y="626" width="6" height="6" fill="rgb(199, 191, 184)"/>
<rect x="193" y="626" width="6" height="6" fill="rgb(200, 192, 184)"/>
<rect x="199" y="626" width="6" height="6" fill="rgb(200, 192, 185)"/>
<rect x="205" y="626" width="6" height="6" fill="rgb(202, 194, 186)"/>
<rect x="211" y="626" width="6" height="6" fill="rgb(206, 197, 188)"/>
<rect x="217" y="626" width="6" height="6" fill="rgb(209, 200, 190)"/>
<rect x="223" y="626" width="6" height="6" fill="rgb(210, 201, 191)"/>
<rect x="229" y="626" width="6" height="6" fill="rgb(211, 201, 191)"/>
<rect x="235" y="626" width="6" height="6" fill="rgb(211, 202, 192)"/>
<rect x="241" y="626" width="6" height="6" fill="rgb(211, 202, 192)"/>
<rect x="247" y="626" width="6" height="6" fill="rgb(212, 203, 193)"/>
<rect x="253" y="626" width="6" height="6" fill="rgb(213, 205, 195)"/>
<rect x="259" y="626" width="6" height="6" fill="rgb(215, 206, 197)"/>
<rect x="265" y="626" width="6" height="6" fill="rgb(217, 209, 199)"/>
<rect x="271" y="626" width="6" height="6" fill="rgb(219, 211, 201)"/>
<rect x="277" y="626" width="6" height="6" fill="rgb(222, 214, 204)"/>
<rect x="283" y="626" width="6" height="6" fill="rgb(225, 217, 206)"/>
<rect x="289" y="626" width="6" height="6" fill="rgb(227, 219, 208)"/>
<rect x="295" y="626" width="6" height="6" fill="rgb(228, 220, 210)"/>
<rect x="301" y="626" width="6" height="6" fill="rgb(228, 220, 210)"/>
<rect x="307" y="626" width="6" height="6" fill="rgb(228, 220, 209)"/>
<rect x="313" y="626" width="6" height="6" fill="rgb(226, 218, 207)"/>
<rect x="319" y="626" width="6" height="6" fill="rgb(224, 216, 205)"/>
<rect x="325" y="626" width="6" height="6" fill="rgb(224, 216, 205)"/>
<rect x="331" y="626" width="6" height="6" fill="rgb(224, 216, 205)"/>
<rect x="337" y="626" width="6" height="6" fill="rgb(224, 216, 205)"/>
<rect x="343" y="626" width="6" height="6" fill="rgb(224, 216, 205)"/>
<rect x="349" y="626" width="6" height="6" fill="rgb(225, 217, 206)"/>
<rect x="355" y="626" width="6" height="6" fill="rgb(225, 217, 206)"/>
<rect x="361" y="626" width="6" height="6" fill="rgb(226, 218, 206)"/>
<rect x="367" y="626" width="6" height="6" fill="rgb(226, 218, 206)"/>
<rect x="373" y="626" width="6" height="6" fill="rgb(226, 218, 206)"/>
<rect x="379" y="626" width="6" height="6" fill="rgb(226, 218, 206)"/>
<rect x="385" y="626" width="6" height="6" fill="rgb(226, 218, 205)"/>
<rect x="391" y="626" width="6" height="6" fill="rgb(226, 218, 205)"/>
<rect x="397" y="626" width="6" height="6" fill="rgb(226, 218, 205)"/>
<rect x="403" y="626" width="6" height="6" fill="rgb(226, 218, 205)"/>
<rect x="409" y="626" width="6" height="6" fill="rgb(226, 218, 205)"/>
<rect x="415" y="626" width="6" height="6" fill="rgb(226, 217, 205)"/>
<rect x="85" y="632" width="6" height="6" fill="rgb(167, 159, 149)"/>
<rect x="91" y="632" width="6" height="6" fill="rgb(166, 159, 149)"/>
<rect x="97" y="632" width="6" height="6" fill="rgb(165, 158, 148)"/>
<rect x="103" y="632" width="6" height="6" fill="rgb(165, 158, 148)"/>
<rect x="109" y="632" width="6" height="6" fill="rgb(165, 158, 148)"/>
<rect x="115" y="632" width="6" height="6" fill="rgb(167, 160, 150)"/>
<rect x="121" y="632" width="6" height="6" fill="rgb(171, 164, 154)"/>
<rect x="127" y="632" width="6" height="6" fill="rgb(176, 169, 160)"/>
<rect x="133" y="632" width="6" height="6" fill="rgb(181, 174, 165)"/>
<rect x="139" y="632" width="6" height="6" fill="rgb(183, 176, 168)"/>
<rect x="145" y="632" width="6" height="6" fill="rgb(184, 177, 169)"/>
<rect x="151" y="632" width="6" height="6" fill="rgb(184, 177, 169)"/>
<rect x="157" y="632" width="6" height="6" fill="rgb(184, 177, 169)"/>
<rect x="163" y="632" width="6" height="6" fill="rgb(186, 179, 171)"/>
<rect x="169" y="632" width="6" height="6" fill="rgb(191, 184, 176)"/>
<rect x="175" y="632" width="6" height="6" fill="rgb(197, 189, 181)"/>
<rect x="181" y="632" width="6" height="6" fill="rgb(199, 191, 184)"/>
<rect x="187" y="632" width="6" height="6" fill="rgb(199, 191, 184)"/>
<rect x="193" y="632" width="6" height="6" fill="rgb(199, 191, 184)"/>
<rect x="199" y="632" width="6" height="6" fill="rgb(200, 192, 185)"/>
<rect x="205" y="632" width="6" height="6" fill="rgb(203, 194, 186)"/>
<rect x="211" y="632" width="6" height="6" fill="rgb(207, 198, 188)"/>
<rect x="217" y="632" width="6" height="6" fill="rgb(210, 200, 190)"/>
<rect x="223" y="632" width="6" height="6" fill="rgb(211, 201, 191)"/>
<rect x="229" y="632" width="6" height="6" fill="rgb(211, 201, 191)"/>
<rect x="235" y="632" width="6" height="6" fill="rgb(211, 201, 191)"/>
<rect x="241" y="632" width="6" height="6" fill="rgb(211, 201, 192)"/>
<rect x="247" y="632" width="6" height="6" fill="rgb(211, 202, 192)"/>
<rect x="253" y="632" width="6" height="6" fill="rgb(212, 203, 193)"/>
<rect x="259" y="632" width="6" height="6" fill="rgb(214, 205, 195)"/>
<rect x="265" y="632" width="6" height="6" fill="rgb(216, 207, 197)"/>
<rect x="271" y="632" width="6" height="6" fill="rgb(219, 210, 200)"/>
<rect x="277" y="632" width="6" height="6" fill="rgb(222, 214, 203)"/>
<rect x="283" y="632" width="6" height="6" fill="rgb(225, 217, 207)"/>
<rect x="289" y="632" width="6" height="6" fill="rgb(227, 219, 209)"/>
<rect x="295" y="632" width="6" height="6" fill="rgb(229, 221, 211)"/>
<rect x="301" y="632" width="6" height="6" fill="rgb(229, 221, 211)"/>
<rect x="307" y="632" width="6" height="6" fill="rgb(229, 221, 211)"/>
<rect x="313" y="632" width="6" height="6" fill="rgb(227, 219, 209)"/>
<rect x="319" y="632" width="6" height="6" fill="rgb(224, 216, 206)"/>
<rect x="325" y="632" width="6" height="6" fill="rgb(224, 216, 205)"/>
<rect x="331" y="632" width="6" height="6" fill="rgb(224, 216, 205)"/>
<rect x="337" y="632" width="6" height="6" fill="rgb(224, 216, 205)"/>
<rect x="343" y="632" width="6" height="6" fill="rgb(224, 216, 205)"/>
<rect x="349" y="632" width="6" height="6" fill="rgb(225, 217, 205)"/>
<rect x="355" y="632" width="6" height="6" fill="rgb(225, 217, 205)"/>
<rect x="361" y="632" width="6" height="6" fill="rgb(225, 217, 205)"/>
<rect x="367" y="632" width="6" height="6" fill="rgb(226, 217, 205)"/>
<rect x="373" y="632" width="6" height="6" fill="rgb(226, 217, 205)"/>
<rect x="379" y="632" width="6" height="6" fill="rgb(226, 217, 205)"/>
<rect x="385" y="632" width="6" height="6" fill="rgb(226, 217, 205)"/>
<rect x="391" y="632" width="6" height="6" fill="rgb(226, 217, 205)"/>
<rect x="397" y="632" width="6" height="6" fill="rgb(226, 217, 205)"/>
<rect x="403" y="632" width="6" height="6" fill="rgb(226, 217, 205)"/>
<rect x="409" y="632" width="6" height="6" fill="rgb(226, 217, 205)"/>
<rect x="415" y="632" width="6" height="6" fill="rgb(226, 217, 204)"/>
<rect x="85" y="638" width="6" height="6" fill="rgb(165, 158, 147)"/>
<rect x="91" y="638" width="6" height="6" fill="rgb(165, 158, 147)"/>
<rect x="97" y="638" width="6" height="6" fill="rgb(165, 158, 148)"/>
<rect x="103" y="638" width="6" height="6" fill="rgb(165, 158, 148)"/>
<rect x="109" y="638" width="6" height="6" fill="rgb(166, 158, 148)"/>
<rect x="115" y="638" width="6" height="6" fill="rgb(167, 160, 150)"/>
<rect x="121" y="638" width="6" height="6" fill="rgb(170, 163, 153)"/>
<rect x="127" y="638" width="6" height="6" fill="rgb(174, 167, 157)"/>
<rect x="133" y="638" width="6" height="6" fill="rgb(177, 170, 161)"/>
<rect x="139" y="638" width="6" height="6" fill="rgb(180, 172, 163)"/>
<rect x="145" y="638" width="6" height="6" fill="rgb(181, 174, 165)"/>
<rect x="151" y="638" width="6" height="6" fill="rgb(181, 174, 165)"/>
<rect x="157" y="638" width="6" height="6" fill="rgb(181, 174, 165)"/>
<rect x="163" y="638" width="6" height="6" fill="rgb(184, 176, 167)"/>
<rect x="169" y="638" width="6" height="6" fill="rgb(189, 181, 173)"/>
<rect x="175" y="638" width="6" height="6" fill="rgb(194, 186, 179)"/>
<rect x="181" y="638" width="6" height="6" fill="rgb(198, 190, 182)"/>
<rect x="187" y="638" width="6" height="6" fill="rgb(199, 191, 183)"/>
<rect x="193" y="638" width="6" height="6" fill="rgb(199, 191, 184)"/>
<rect x="199" y="638" width="6" height="6" fill="rgb(200, 192, 184)"/>
<rect x="205" y="638" width="6" height="6" fill="rgb(203, 195, 186)"/>
<rect x="211" y="638" width="6" height="6" fill="rgb(207, 198, 189)"/>
<rect x="217" y="638" width="6" height="6" fill="rgb(210, 201, 191)"/>
<rect x="223" y="638" width="6" height="6" fill="rgb(211, 201, 191)"/>
<rect x="229" y="638" width="6" height="6" fill="rgb(211, 201, 191)"/>
<rect x="235" y="638" width="6" height="6" fill="rgb(211, 201, 191)"/>
<rect x="241" y="638" width="6" height="6" fill="rgb(211, 201, 191)"/>
<rect x="247" y="638" width="6" height="6" fill="rgb(211, 201, 191)"/>
<rect x="253" y="638" width="6" height="6" fill="rgb(211, 202, 192)"/>
<rect x="259" y="638" width="6" height="6" fill="rgb(213, 204, 193)"/>
<rect x="265" y="638" width="6" height="6" fill="rgb(215, 206, 196)"/>
<rect x="271" y="638" width="6" height="6" fill="rgb(218, 209, 199)"/>
<rect x="277" y="638" width="6" height="6" fill="rgb(221, 213, 203)"/>
<rect x="283" y="638" width="6" height="6" fill="rgb(225, 217, 206)"/>
<rect x="289" y="638" width="6" height="6" fill="rgb(228, 219, 209)"/>
<rect x="295" y="638" width="6" height="6" fill="rgb(229, 221, 211)"/>
<rect x="301" y="638" width="6" height="6" fill="rgb(229, 221, 211)"/>
<rect x="307" y="638" width="6" height="6" fill="rgb(229, 221, 211)"/>
<rect x="313" y="638" width="6" height="6" fill="rgb(228, 220, 210)"/>
<rect x="319" y="638" width="6" height="6" fill="rgb(226, 217, 207)"/>
<rect x="325" y="638" width="6" height="6" fill="rgb(224, 216, 205)"/>
<rect x="331" y="638" width="6" height="6" fill="rgb(224, 216, 205)"/>
<rect x="337" y="638" width="6" height="6" fill="rgb(224, 216, 205)"/>
<rect x="343" y="638" width="6" height="6" fill="rgb(224, 216, 205)"/>
<rect x="349" y="638" width="6" height="6" fill="rgb(225, 216, 204)"/>
<rect x="355" y="638" width="6" height="6" fill="rgb(225, 217, 204)"/>
<rect x="361" y="638" width="6" height="6" fill="rgb(225, 217, 204)"/>
<rect x="367" y="638" width="6" height="6" fill="rgb(226, 217, 204)"/>
<rect x="373" y="638" width="6" height="6" fill="rgb(226, 217, 205)"/>
<rect x="379" y="638" width="6" height="6" fill="rgb(226, 217, 205)"/>
<rect x="385" y="638" width="6" height="6" fill="rgb(226, 217, 205)"/>
<rect x="391" y="638" width="6" height="6" fill="rgb(226, 217, 205)"/>
<rect x="397" y="638" width="6" height="6" fill="rgb(226, 217, 205)"/>
<rect x="403" y="638" width="6" height="6" fill="rgb(226, 217, 204)"/>
<rect x="409" y="638" width="6" height="6" fill="rgb(226, 217, 204)"/>
<rect x="415" y="638" width="6" height="6" fill="rgb(226, 217, 204)"/>
<rect x="85" y="644" width="6" height="6" fill="rgb(162, 154, 144)"/>
<rect x="91" y="644" width="6" height="6" fill="rgb(162, 154, 144)"/>
<rect x="97" y="644" width="6" height="6" fill="rgb(162, 155, 144)"/>
<rect x="103" y="644" width="6" height="6" fill="rgb(163, 155, 145)"/>
<rect x="109" y="644" width="6" height="6" fill="rgb(164, 156, 146)"/>
<rect x="115" y="644" width="6" height="6" fill="rgb(165, 158, 148)"/>
<rect x="121" y="644" width="6" height="6" fill="rgb(168, 160, 150)"/>
<rect x="127" y="644" width="6" height="6" fill="rgb(171, 163, 153)"/>
<rect x="133" y="644" width="6" height="6" fill="rgb(172, 164, 155)"/>
<rect x="139" y="644" width="6" height="6" fill="rgb(172, 165, 155)"/>
<rect x="145" y="644" width="6" height="6" fill="rgb(172, 164, 154)"/>
<rect x="151" y="644" width="6" height="6" fill="rgb(173, 165, 155)"/>
<rect x="157" y="644" width="6" height="6" fill="rgb(175, 167, 158)"/>
<rect x="163" y="644" width="6" height="6" fill="rgb(179, 171, 162)"/>
<rect x="169" y="644" width="6" height="6" fill="rgb(184, 177, 168)"/>
<rect x="175" y="644" width="6" height="6" fill="rgb(190, 183, 174)"/>
<rect x="181" y="644" width="6" height="6" fill="rgb(195, 187, 179)"/>
<rect x="187" y="644" width="6" height="6" fill="rgb(197, 189, 181)"/>
<rect x="193" y="644" width="6" height="6" fill="rgb(198, 190, 182)"/>
<rect x="199" y="644" width="6" height="6" fill="rgb(200, 192, 183)"/>
<rect x="205" y="644" width="6" height="6" fill="rgb(203, 195, 186)"/>
<rect x="211" y="644" width="6" height="6" fill="rgb(207, 198, 188)"/>
<rect x="217" y="644" width="6" height="6" fill="rgb(210, 200, 190)"/>
<rect x="223" y="644" width="6" height="6" fill="rgb(211, 201, 191)"/>
<rect x="229" y="644" width="6" height="6" fill="rgb(211, 201, 191)"/>
<rect x="235" y="644" width="6" height="6" fill="rgb(211, 201, 191)"/>
<rect x="241" y="644" width="6" height="6" fill="rgb(211, 201, 191)"/>
<rect x="247" y="644" width="6" height="6" fill="rgb(210, 201, 190)"/>
<rect x="253" y="644" width="6" height="6" fill="rgb(210, 201, 191)"/>
<rect x="259" y="644" width="6" height="6" fill="rgb(211, 202, 191)"/>
<rect x="265" y="644" width="6" height="6" fill="rgb(213, 204, 194)"/>
<rect x="271" y="644" width="6" height="6" fill="rgb(216, 208, 197)"/>
<rect x="277" y="644" width="6" height="6" fill="rgb(220, 212, 201)"/>
<rect x="283" y="644" width="6" height="6" fill="rgb(224, 216, 205)"/>
<rect x="289" y="644" width="6" height="6" fill="rgb(227, 219, 208)"/>
<rect x="295" y="644" width="6" height="6" fill="rgb(229, 221, 210)"/>
<rect x="301" y="644" width="6" height="6" fill="rgb(229, 221, 211)"/>
<rect x="307" y="644" width="6" height="6" fill="rgb(229, 221, 211)"/>
<rect x="313" y="644" width="6" height="6" fill="rgb(228, 220, 210)"/>
<rect x="319" y="644" width="6" height="6" fill="rgb(226, 218, 207)"/>
<rect x="325" y="644" width="6" height="6" fill="rgb(225, 217, 206)"/>
<rect x="331" y="644" width="6" height="6" fill="rgb(224, 216, 205)"/>
<rect x="337" y="644" width="6" height="6" fill="rgb(224, 216, 204)"/>
<rect x="343" y="644" width="6" height="6" fill="rgb(224, 216, 204)"/>
<rect x="349" y="644" width="6" height="6" fill="rgb(225, 216, 204)"/>
<rect x="355" y="644" width="6" height="6" fill="rgb(225, 216, 203)"/>
<rect x="361" y="644" width="6" height="6" fill="rgb(225, 217, 203)"/>
<rect x="367" y="644" width="6" height="6" fill="rgb(226, 217, 203)"/>
<rect x="373" y="644" width="6" height="6" fill="rgb(226, 217, 204)"/>
<rect x="379" y="644" width="6" height="6" fill="rgb(226, 217, 204)"/>
<rect x="385" y="644" width="6" height="6" fill="rgb(226, 217, 204)"/>
<rect x="391" y="644" width="6" height="6" fill="rgb(226, 217, 204)"/>
<rect x="397" y="644" width="6" height="6" fill="rgb(226, 217, 204)"/>
<rect x="403" y="644" width="6" height="6" fill="rgb(226, 217, 203)"/>
<rect x="409" y="644" width="6" height="6" fill="rgb(226, 217, 203)"/>
<rect x="415" y="644" width="6" height="6" fill="rgb(226, 217, 203)"/>
<rect x="85" y="650" width="6" height="6" fill="rgb(156, 148, 137)"/>
<rect x="91" y="650" width="6" height="6" fill="rgb(156, 148, 137)"/>
<rect x="97" y="650" width="6" height="6" fill="rgb(156, 148, 137)"/>
<rect x="103" y="650" width="6" height="6" fill="rgb(157, 148, 138)"/>
<rect x="109" y="650" width="6" height="6" fill="rgb(158, 150, 139)"/>
<rect x="115" y="650" width="6" height="6" fill="rgb(161, 153, 142)"/>
<rect x="121" y="650" width="6" height="6" fill="rgb(164, 156, 145)"/>
<rect x="127" y="650" width="6" height="6" fill="rgb(167, 159, 148)"/>
<rect x="133" y="650" width="6" height="6" fill="rgb(168, 160, 149)"/>
<rect x="139" y="650" width="6" height="6" fill="rgb(167, 159, 148)"/>
<rect x="145" y="650" width="6" height="6" fill="rgb(166, 158, 147)"/>
<rect x="151" y="650" width="6" height="6" fill="rgb(166, 158, 148)"/>
<rect x="157" y="650" width="6" height="6" fill="rgb(169, 161, 151)"/>
<rect x="163" y="650" width="6" height="6" fill="rgb(174, 166, 156)"/>
<rect x="169" y="650" width="6" height="6" fill="rgb(180, 172, 162)"/>
<rect x="175" y="650" width="6" height="6" fill="rgb(186, 178, 169)"/>
<rect x="181" y="650" width="6" height="6" fill="rgb(191, 183, 174)"/>
<rect x="187" y="650" width="6" height="6" fill="rgb(194, 186, 178)"/>
<rect x="193" y="650" width="6" height="6" fill="rgb(197, 188, 180)"/>
<rect x="199" y="650" width="6" height="6" fill="rgb(199, 191, 182)"/>
<rect x="205" y="650" width="6" height="6" fill="rgb(203, 194, 184)"/>
<rect x="211" y="650" width="6" height="6" fill="rgb(206, 197, 187)"/>
<rect x="217" y="650" width="6" height="6" fill="rgb(209, 199, 190)"/>
<rect x="223" y="650" width="6" height="6" fill="rgb(210, 201, 191)"/>
<rect x="229" y="650" width="6" height="6" fill="rgb(211, 201, 191)"/>
<rect x="235" y="650" width="6" height="6" fill="rgb(211, 201, 191)"/>
<rect x="241" y="650" width="6" height="6" fill="rgb(210, 200, 190)"/>
<rect x="247" y="650" width="6" height="6" fill="rgb(209, 200, 189)"/>
<rect x="253" y="650" width="6" height="6" fill="rgb(209, 200, 189)"/>
<rect x="259" y="650" width="6" height="6" fill="rgb(210, 200, 189)"/>
<rect x="265" y="650" width="6" height="6" fill="rgb(211, 202, 191)"/>
<rect x="271" y="650" width="6" height="6" fill="rgb(214, 205, 194)"/>
<rect x="277" y="650" width="6" height="6" fill="rgb(218, 209, 198)"/>
<rect x="283" y="650" width="6" height="6" fill="rgb(222, 213, 202)"/>
<rect x="289" y="650" width="6" height="6" fill="rgb(225, 217, 206)"/>
<rect x="295" y="650" width="6" height="6" fill="rgb(227, 219, 209)"/>
<rect x="301" y="650" width="6" height="6" fill="rgb(228, 220, 210)"/>
<rect x="307" y="650" width="6" height="6" fill="rgb(228, 220, 210)"/>
<rect x="313" y="650" width="6" height="6" fill="rgb(227, 219, 208)"/>
<rect x="319" y="650" width="6" height="6" fill="rgb(226, 218, 207)"/>
<rect x="325" y="650" width="6" height="6" fill="rgb(225, 217, 205)"/>
<rect x="331" y="650" width="6" height="6" fill="rgb(224, 216, 204)"/>
<rect x="337" y="650" width="6" height="6" fill="rgb(224, 216, 204)"/>
<rect x="343" y="650" width="6" height="6" fill="rgb(225, 216, 203)"/>
<rect x="349" y="650" width="6" height="6" fill="rgb(225, 216, 203)"/>
<rect x="355" y="650" width="6" height="6" fill="rgb(225, 216, 202)"/>
<rect x="361" y="650" width="6" height="6" fill="rgb(226, 217, 202)"/>
<rect x="367" y="650" width="6" height="6" fill="rgb(226, 217, 202)"/>
<rect x="373" y="650" width="6" height="6" fill="rgb(226, 217, 202)"/>
<rect x="379" y="650" width="6" height="6" fill="rgb(226, 217, 202)"/>
<rect x="385" y="650" width="6" height="6" fill="rgb(226, 217, 202)"/>
<rect x="391" y="650" width="6" height="6" fill="rgb(226, 217, 202)"/>
<rect x="397" y="650" width="6" height="6" fill="rgb(226, 217, 202)"/>
<rect x="403" y="650" width="6" height="6" fill="rgb(226, 217, 202)"/>
<rect x="409" y="650" width="6" height="6" fill="rgb(226, 217, 202)"/>
<rect x="415" y="650" width="6" height="6" fill="rgb(226, 217, 202)"/>
<rect x="85" y="656" width="6" height="6" fill="rgb(149, 141, 129)"/>
<rect x="91" y="656" width="6" height="6" fill="rgb(148, 139, 127)"/>
<rect x="97" y="656" width="6" height="6" fill="rgb(146, 138, 126)"/>
<rect x="103" y="656" width="6" height="6" fill="rgb(146, 138, 126)"/>
<rect x="109" y="656" width="6" height="6" fill="rgb(148, 140, 128)"/>
<rect x="115" y="656" width="6" height="6" fill="rgb(153, 144, 133)"/>
<rect x="121" y="656" width="6" height="6" fill="rgb(158, 150, 139)"/>
<rect x="127" y="656" width="6" height="6" fill="rgb(163, 155, 144)"/>
<rect x="133" y="656" width="6" height="6" fill="rgb(165, 157, 146)"/>
<rect x="139" y="656" width="6" height="6" fill="rgb(165, 157, 146)"/>
<rect x="145" y="656" width="6" height="6" fill="rgb(165, 157, 146)"/>
<rect x="151" y="656" width="6" height="6" fill="rgb(165, 157, 146)"/>
<rect x="157" y="656" width="6" height="6" fill="rgb(167, 159, 148)"/>
<rect x="163" y="656" width="6" height="6" fill="rgb(170, 162, 152)"/>
<rect x="169" y="656" width="6" height="6" fill="rgb(176, 168, 158)"/>
<rect x="175" y="656" width="6" height="6" fill="rgb(182, 174, 164)"/>
<rect x="181" y="656" width="6" height="6" fill="rgb(187, 179, 170)"/>
<rect x="187" y="656" width="6" height="6" fill="rgb(191, 183, 174)"/>
<rect x="193" y="656" width="6" height="6" fill="rgb(194, 186, 177)"/>
<rect x="199" y="656" width="6" height="6" fill="rgb(198, 189, 179)"/>
<rect x="205" y="656" width="6" height="6" fill="rgb(201, 192, 182)"/>
<rect x="211" y="656" width="6" height="6" fill="rgb(205, 195, 185)"/>
<rect x="217" y="656" width="6" height="6" fill="rgb(207, 198, 188)"/>
<rect x="223" y="656" width="6" height="6" fill="rgb(209, 199, 189)"/>
<rect x="229" y="656" width="6" height="6" fill="rgb(209, 200, 189)"/>
<rect x="235" y="656" width="6" height="6" fill="rgb(209, 199, 189)"/>
<rect x="241" y="656" width="6" height="6" fill="rgb(208, 199, 188)"/>
<rect x="247" y="656" width="6" height="6" fill="rgb(208, 198, 187)"/>
<rect x="253" y="656" width="6" height="6" fill="rgb(207, 198, 186)"/>
<rect x="259" y="656" width="6" height="6" fill="rgb(208, 198, 187)"/>
<rect x="265" y="656" width="6" height="6" fill="rgb(209, 200, 188)"/>
<rect x="271" y="656" width="6" height="6" fill="rgb(211, 202, 191)"/>
<rect x="277" y="656" width="6" height="6" fill="rgb(215, 206, 194)"/>
<rect x="283" y="656" width="6" height="6" fill="rgb(219, 210, 199)"/>
<rect x="289" y="656" width="6" height="6" fill="rgb(222, 214, 203)"/>
<rect x="295" y="656" width="6" height="6" fill="rgb(225, 216, 205)"/>
<rect x="301" y="656" width="6" height="6" fill="rgb(226, 217, 207)"/>
<rect x="307" y="656" width="6" height="6" fill="rgb(226, 218, 207)"/>
<rect x="313" y="656" width="6" height="6" fill="rgb(226, 217, 206)"/>
<rect x="319" y="656" width="6" height="6" fill="rgb(225, 216, 205)"/>
<rect x="325" y="656" width="6" height="6" fill="rgb(224, 216, 204)"/>
<rect x="331" y="656" width="6" height="6" fill="rgb(224, 215, 203)"/>
<rect x="337" y="656" width="6" height="6" fill="rgb(224, 216, 202)"/>
<rect x="343" y="656" width="6" height="6" fill="rgb(225, 216, 202)"/>
<rect x="349" y="656" width="6" height="6" fill="rgb(226, 216, 202)"/>
<rect x="355" y="656" width="6" height="6" fill="rgb(226, 216, 202)"/>
<rect x="361" y="656" width="6" height="6" fill="rgb(226, 217, 202)"/>
<rect x="367" y="656" width="6" height="6" fill="rgb(226, 217, 202)"/>
<rect x="373" y="656" width="6" height="6" fill="rgb(226, 217, 201)"/>
<rect x="379" y="656" width="6" height="6" fill="rgb(226, 217, 201)"/>
<rect x="385" y="656" width="6" height="6" fill="rgb(226, 217, 201)"/>
<rect x="391" y="656" width="6" height="6" fill="rgb(226, 217, 201)"/>
<rect x="397" y="656" width="6" height="6" fill="rgb(226, 217, 201)"/>
<rect x="403" y="656" width="6" height="6" fill="rgb(226, 217, 201)"/>
<rect x="409" y="656" width="6" height="6" fill="rgb(226, 217, 201)"/>
<rect x="415" y="656" width="6" height="6" fill="rgb(226, 217, 201)"/>
<rect x="85" y="662" width="6" height="6" fill="rgb(142, 133, 121)"/>
<rect x="91" y="662" width="6" height="6" fill="rgb(139, 130, 118)"/>
<rect x="97" y="662" width="6" height="6" fill="rgb(137, 128, 116)"/>
<rect x="103" y="662" width="6" height="6" fill="rgb(137, 127, 115)"/>
<rect x="109" y="662" width="6" height="6" fill="rgb(138, 129, 117)"/>
<rect x="115" y="662" width="6" height="6" fill="rgb(143, 134, 122)"/>
<rect x="121" y="662" width="6" height="6" fill="rgb(151, 142, 130)"/>
<rect x="127" y="662" width="6" height="6" fill="rgb(159, 150, 139)"/>
<rect x="133" y="662" width="6" height="6" fill="rgb(163, 155, 144)"/>
<rect x="139" y="662" width="6" height="6" fill="rgb(165, 157, 146)"/>
<rect x="145" y="662" width="6" height="6" fill="rgb(165, 157, 146)"/>
<rect x="151" y="662" width="6" height="6" fill="rgb(165, 157, 146)"/>
<rect x="157" y="662" width="6" height="6" fill="rgb(166, 158, 147)"/>
<rect x="163" y="662" width="6" height="6" fill="rgb(169, 161, 151)"/>
<rect x="169" y="662" width="6" height="6" fill="rgb(174, 166, 156)"/>
<rect x="175" y="662" width="6" height="6" fill="rgb(179, 171, 161)"/>
<rect x="181" y="662" width="6" height="6" fill="rgb(184, 176, 165)"/>
<rect x="187" y="662" width="6" height="6" fill="rgb(188, 179, 169)"/>
<rect x="193" y="662" width="6" height="6" fill="rgb(191, 183, 173)"/>
<rect x="199" y="662" width="6" height="6" fill="rgb(195, 186, 176)"/>
<rect x="205" y="662" width="6" height="6" fill="rgb(199, 190, 179)"/>
<rect x="211" y="662" width="6" height="6" fill="rgb(202, 193, 182)"/>
<rect x="217" y="662" width="6" height="6" fill="rgb(205, 195, 185)"/>
<rect x="223" y="662" width="6" height="6" fill="rgb(206, 197, 186)"/>
<rect x="229" y="662" width="6" height="6" fill="rgb(207, 197, 187)"/>
<rect x="235" y="662" width="6" height="6" fill="rgb(207, 197, 186)"/>
<rect x="241" y="662" width="6" height="6" fill="rgb(206, 197, 185)"/>
<rect x="247" y="662" width="6" height="6" fill="rgb(206, 196, 185)"/>
<rect x="253" y="662" width="6" height="6" fill="rgb(206, 196, 184)"/>
<rect x="259" y="662" width="6" height="6" fill="rgb(206, 196, 184)"/>
<rect x="265" y="662" width="6" height="6" fill="rgb(207, 197, 185)"/>
<rect x="271" y="662" width="6" height="6" fill="rgb(209, 199, 187)"/>
<rect x="277" y="662" width="6" height="6" fill="rgb(212, 202, 191)"/>
<rect x="283" y="662" width="6" height="6" fill="rgb(215, 206, 194)"/>
<rect x="289" y="662" width="6" height="6" fill="rgb(219, 210, 198)"/>
<rect x="295" y="662" width="6" height="6" fill="rgb(221, 212, 201)"/>
<rect x="301" y="662" width="6" height="6" fill="rgb(223, 214, 203)"/>
<rect x="307" y="662" width="6" height="6" fill="rgb(223, 215, 203)"/>
<rect x="313" y="662" width="6" height="6" fill="rgb(223, 215, 203)"/>
<rect x="319" y="662" width="6" height="6" fill="rgb(223, 215, 202)"/>
<rect x="325" y="662" width="6" height="6" fill="rgb(223, 215, 202)"/>
<rect x="331" y="662" width="6" height="6" fill="rgb(224, 215, 201)"/>
<rect x="337" y="662" width="6" height="6" fill="rgb(224, 215, 201)"/>
<rect x="343" y="662" width="6" height="6" fill="rgb(225, 216, 201)"/>
<rect x="349" y="662" width="6" height="6" fill="rgb(226, 216, 201)"/>
<rect x="355" y="662" width="6" height="6" fill="rgb(227, 217, 201)"/>
<rect x="361" y="662" width="6" height="6" fill="rgb(227, 217, 201)"/>
<rect x="367" y="662" width="6" height="6" fill="rgb(227, 217, 201)"/>
<rect x="373" y="662" width="6" height="6" fill="rgb(227, 217, 201)"/>
<rect x="379" y="662" width="6" height="6" fill="rgb(227, 217, 201)"/>
<rect x="385" y="662" width="6" height="6" fill="rgb(227, 217, 200)"/>
<rect x="391" y="662" width="6" height="6" fill="rgb(227, 217, 200)"/>
<rect x="397" y="662" width="6" height="6" fill="rgb(227, 217, 200)"/>
<rect x="403" y="662" width="6" height="6" fill="rgb(227, 217, 200)"/>
<rect x="409" y="662" width="6" height="6" fill="rgb(226, 217, 200)"/>
<rect x="415" y="662" width="6" height="6" fill="rgb(226, 217, 200)"/>
<rect x="85" y="668" width="6" height="6" fill="rgb(137, 128, 115)"/>
<rect x="91" y="668" width="6" height="6" fill="rgb(134, 124, 112)"/>
<rect x="97" y="668" width="6" height="6" fill="rgb(131, 122, 109)"/>
<rect x="103" y="668" width="6" height="6" fill="rgb(130, 121, 108)"/>
<rect x="109" y="668" width="6" height="6" fill="rgb(131, 121, 109)"/>
<rect x="115" y="668" width="6" height="6" fill="rgb(135, 125, 113)"/>
<rect x="121" y="668" width="6" height="6" fill="rgb(143, 134, 122)"/>
<rect x="127" y="668" width="6" height="6" fill="rgb(153, 144, 133)"/>
<rect x="133" y="668" width="6" height="6" fill="rgb(160, 152, 141)"/>
<rect x="139" y="668" width="6" height="6" fill="rgb(164, 156, 145)"/>
<rect x="145" y="668" width="6" height="6" fill="rgb(165, 157, 146)"/>
<rect x="151" y="668" width="6" height="6" fill="rgb(165, 157, 146)"/>
<rect x="157" y="668" width="6" height="6" fill="rgb(167, 159, 148)"/>
<rect x="163" y="668" width="6" height="6" fill="rgb(169, 161, 150)"/>
<rect x="169" y="668" width="6" height="6" fill="rgb(173, 165, 154)"/>
<rect x="175" y="668" width="6" height="6" fill="rgb(177, 169, 158)"/>
<rect x="181" y="668" width="6" height="6" fill="rgb(181, 173, 162)"/>
<rect x="187" y="668" width="6" height="6" fill="rgb(185, 176, 165)"/>
<rect x="193" y="668" width="6" height="6" fill="rgb(188, 179, 168)"/>
<rect x="199" y="668" width="6" height="6" fill="rgb(192, 183, 172)"/>
<rect x="205" y="668" width="6" height="6" fill="rgb(196, 186, 176)"/>
<rect x="211" y="668" width="6" height="6" fill="rgb(199, 190, 179)"/>
<rect x="217" y="668" width="6" height="6" fill="rgb(202, 192, 182)"/>
<rect x="223" y="668" width="6" height="6" fill="rgb(204, 194, 183)"/>
<rect x="229" y="668" width="6" height="6" fill="rgb(205, 195, 184)"/>
<rect x="235" y="668" width="6" height="6" fill="rgb(205, 195, 184)"/>
<rect x="241" y="668" width="6" height="6" fill="rgb(205, 195, 183)"/>
<rect x="247" y="668" width="6" height="6" fill="rgb(205, 195, 183)"/>
<rect x="253" y="668" width="6" height="6" fill="rgb(205, 195, 183)"/>
<rect x="259" y="668" width="6" height="6" fill="rgb(205, 195, 183)"/>
<rect x="265" y="668" width="6" height="6" fill="rgb(206, 196, 184)"/>
<rect x="271" y="668" width="6" height="6" fill="rgb(207, 197, 185)"/>
<rect x="277" y="668" width="6" height="6" fill="rgb(209, 200, 187)"/>
<rect x="283" y="668" width="6" height="6" fill="rgb(212, 203, 190)"/>
<rect x="289" y="668" width="6" height="6" fill="rgb(215, 206, 193)"/>
<rect x="295" y="668" width="6" height="6" fill="rgb(218, 208, 196)"/>
<rect x="301" y="668" width="6" height="6" fill="rgb(219, 210, 198)"/>
<rect x="307" y="668" width="6" height="6" fill="rgb(220, 211, 199)"/>
<rect x="313" y="668" width="6" height="6" fill="rgb(221, 212, 199)"/>
<rect x="319" y="668" width="6" height="6" fill="rgb(222, 213, 200)"/>
<rect x="325" y="668" width="6" height="6" fill="rgb(222, 213, 200)"/>
<rect x="331" y="668" width="6" height="6" fill="rgb(223, 214, 200)"/>
<rect x="337" y="668" width="6" height="6" fill="rgb(225, 215, 200)"/>
<rect x="343" y="668" width="6" height="6" fill="rgb(226, 216, 201)"/>
<rect x="349" y="668" width="6" height="6" fill="rgb(227, 217, 201)"/>
<rect x="355" y="668" width="6" height="6" fill="rgb(227, 217, 201)"/>
<rect x="361" y="668" width="6" height="6" fill="rgb(227, 217, 201)"/>
<rect x="367" y="668" width="6" height="6" fill="rgb(227, 217, 201)"/>
<rect x="373" y="668" width="6" height="6" fill="rgb(227, 217, 201)"/>
<rect x="379" y="668" width="6" height="6" fill="rgb(227, 217, 200)"/>
<rect x="385" y="668" width="6" height="6" fill="rgb(227, 217, 200)"/>
<rect x="391" y="668" width="6" height="6" fill="rgb(227, 217, 200)"/>
<rect x="397" y="668" width="6" height="6" fill="rgb(227, 217, 200)"/>
<rect x="403" y="668" width="6" height="6" fill="rgb(227, 217, 200)"/>
<rect x="409" y="668" width="6" height="6" fill="rgb(227, 217, 200)"/>
<rect x="415" y="668" width="6" height="6" fill="rgb(226, 217, 200)"/>
<rect x="85" y="674" width="6" height="6" fill="rgb(134, 124, 112)"/>
<rect x="91" y="674" width="6" height="6" fill="rgb(131, 121, 108)"/>
<rect x="97" y="674" width="6" height="6" fill="rgb(129, 119, 106)"/>
<rect x="103" y="674" width="6" height="6" fill="rgb(128, 118, 105)"/>
<rect x="109" y="674" width="6" height="6" fill="rgb(128, 118, 106)"/>
<rect x="115" y="674" width="6" height="6" fill="rgb(131, 121, 108)"/>
<rect x="121" y="674" width="6" height="6" fill="rgb(137, 127, 115)"/>
<rect x="127" y="674" width="6" height="6" fill="rgb(147, 138, 126)"/>
<rect x="133" y="674" width="6" height="6" fill="rgb(156, 147, 136)"/>
<rect x="139" y="674" width="6" height="6" fill="rgb(161, 153, 142)"/>
<rect x="145" y="674" width="6" height="6" fill="rgb(164, 156, 145)"/>
<rect x="151" y="674" width="6" height="6" fill="rgb(165, 157, 146)"/>
<rect x="157" y="674" width="6" height="6" fill="rgb(167, 159, 148)"/>
<rect x="163" y="674" width="6" height="6" fill="rgb(170, 161, 150)"/>
<rect x="169" y="674" width="6" height="6" fill="rgb(173, 164, 153)"/>
<rect x="175" y="674" width="6" height="6" fill="rgb(176, 167, 155)"/>
<rect x="181" y="674" width="6" height="6" fill="rgb(178, 169, 158)"/>
<rect x="187" y="674" width="6" height="6" fill="rgb(181, 172, 160)"/>
<rect x="193" y="674" width="6" height="6" fill="rgb(184, 175, 163)"/>
<rect x="199" y="674" width="6" height="6" fill="rgb(188, 179, 167)"/>
<rect x="205" y="674" width="6" height="6" fill="rgb(192, 183, 171)"/>
<rect x="211" y="674" width="6" height="6" fill="rgb(196, 187, 175)"/>
<rect x="217" y="674" width="6" height="6" fill="rgb(199, 190, 178)"/>
<rect x="223" y="674" width="6" height="6" fill="rgb(201, 192, 180)"/>
<rect x="229" y="674" width="6" height="6" fill="rgb(203, 193, 182)"/>
<rect x="235" y="674" width="6" height="6" fill="rgb(204, 194, 182)"/>
<rect x="241" y="674" width="6" height="6" fill="rgb(204, 194, 182)"/>
<rect x="247" y="674" width="6" height="6" fill="rgb(204, 194, 182)"/>
<rect x="253" y="674" width="6" height="6" fill="rgb(205, 195, 183)"/>
<rect x="259" y="674" width="6" height="6" fill="rgb(205, 195, 183)"/>
<rect x="265" y="674" width="6" height="6" fill="rgb(205, 195, 183)"/>
<rect x="271" y="674" width="6" height="6" fill="rgb(206, 196, 184)"/>
<rect x="277" y="674" width="6" height="6" fill="rgb(208, 198, 185)"/>
<rect x="283" y="674" width="6" height="6" fill="rgb(210, 200, 187)"/>
<rect x="289" y="674" width="6" height="6" fill="rgb(213, 203, 190)"/>
<rect x="295" y="674" width="6" height="6" fill="rgb(215, 205, 192)"/>
<rect x="301" y="674" width="6" height="6" fill="rgb(216, 207, 194)"/>
<rect x="307" y="674" width="6" height="6" fill="rgb(218, 208, 195)"/>
<rect x="313" y="674" width="6" height="6" fill="rgb(219, 210, 196)"/>
<rect x="319" y="674" width="6" height="6" fill="rgb(220, 211, 197)"/>
<rect x="325" y="674" width="6" height="6" fill="rgb(221, 212, 198)"/>
<rect x="331" y="674" width="6" height="6" fill="rgb(223, 213, 198)"/>
<rect x="337" y="674" width="6" height="6" fill="rgb(224, 215, 200)"/>
<rect x="343" y="674" width="6" height="6" fill="rgb(226, 216, 201)"/>
<rect x="349" y="674" width="6" height="6" fill="rgb(227, 217, 201)"/>
<rect x="355" y="674" width="6" height="6" fill="rgb(227, 217, 201)"/>
<rect x="361" y="674" width="6" height="6" fill="rgb(227, 217, 201)"/>
<rect x="367" y="674" width="6" height="6" fill="rgb(227, 217, 201)"/>
<rect x="373" y="674" width="6" height="6" fill="rgb(227, 217, 201)"/>
<rect x="379" y="674" width="6" height="6" fill="rgb(227, 217, 200)"/>
<rect x="385" y="674" width="6" height="6" fill="rgb(227, 217, 200)"/>
<rect x="391" y="674" width="6" height="6" fill="rgb(227, 217, 200)"/>
<rect x="397" y="674" width="6" height="6" fill="rgb(227, 217, 200)"/>
<rect x="403" y="674" width="6" height="6" fill="rgb(227, 217, 200)"/>
<rect x="409" y="674" width="6" height="6" fill="rgb(227, 217, 200)"/>
<rect x="415" y="674" width="6" height="6" fill="rgb(226, 217, 200)"/>
<rect x="85" y="680" width="6" height="6" fill="rgb(132, 122, 110)"/>
<rect x="91" y="680" width="6" height="6" fill="rgb(130, 120, 107)"/>
<rect x="97" y="680" width="6" height="6" fill="rgb(128, 118, 105)"/>
<rect x="103" y="680" width="6" height="6" fill="rgb(128, 118, 105)"/>
<rect x="109" y="680" width="6" height="6" fill="rgb(128, 118, 105)"/>
<rect x="115" y="680" width="6" height="6" fill="rgb(129, 119, 107)"/>
<rect x="121" y="680" width="6" height="6" fill="rgb(134, 124, 112)"/>
<rect x="127" y="680" width="6" height="6" fill="rgb(142, 132, 120)"/>
<rect x="133" y="680" width="6" height="6" fill="rgb(150, 141, 130)"/>
<rect x="139" y="680" width="6" height="6" fill="rgb(157, 149, 137)"/>
<rect x="145" y="680" width="6" height="6" fill="rgb(162, 153, 142)"/>
<rect x="151" y="680" width="6" height="6" fill="rgb(165, 156, 145)"/>
<rect x="157" y="680" width="6" height="6" fill="rgb(167, 159, 147)"/>
<rect x="163" y="680" width="6" height="6" fill="rgb(170, 161, 149)"/>
<rect x="169" y="680" width="6" height="6" fill="rgb(172, 163, 151)"/>
<rect x="175" y="680" width="6" height="6" fill="rgb(174, 165, 152)"/>
<rect x="181" y="680" width="6" height="6" fill="rgb(175, 166, 153)"/>
<rect x="187" y="680" width="6" height="6" fill="rgb(177, 168, 155)"/>
<rect x="193" y="680" width="6" height="6" fill="rgb(180, 171, 158)"/>
<rect x="199" y="680" width="6" height="6" fill="rgb(184, 174, 162)"/>
<rect x="205" y="680" width="6" height="6" fill="rgb(188, 179, 167)"/>
<rect x="211" y="680" width="6" height="6" fill="rgb(193, 183, 171)"/>
<rect x="217" y="680" width="6" height="6" fill="rgb(197, 187, 175)"/>
<rect x="223" y="680" width="6" height="6" fill="rgb(199, 190, 178)"/>
<rect x="229" y="680" width="6" height="6" fill="rgb(201, 192, 180)"/>
<rect x="235" y="680" width="6" height="6" fill="rgb(203, 193, 181)"/>
<rect x="241" y="680" width="6" height="6" fill="rgb(204, 194, 182)"/>
<rect x="247" y="680" width="6" height="6" fill="rgb(204, 194, 182)"/>
<rect x="253" y="680" width="6" height="6" fill="rgb(204, 194, 182)"/>
<rect x="259" y="680" width="6" height="6" fill="rgb(204, 194, 182)"/>
<rect x="265" y="680" width="6" height="6" fill="rgb(205, 195, 182)"/>
<rect x="271" y="680" width="6" height="6" fill="rgb(205, 195, 183)"/>
<rect x="277" y="680" width="6" height="6" fill="rgb(207, 197, 184)"/>
<rect x="283" y="680" width="6" height="6" fill="rgb(209, 199, 185)"/>
<rect x="289" y="680" width="6" height="6" fill="rgb(211, 200, 187)"/>
<rect x="295" y="680" width="6" height="6" fill="rgb(213, 202, 188)"/>
<rect x="301" y="680" width="6" height="6" fill="rgb(214, 204, 190)"/>
<rect x="307" y="680" width="6" height="6" fill="rgb(216, 206, 192)"/>
<rect x="313" y="680" width="6" height="6" fill="rgb(217, 208, 193)"/>
<rect x="319" y="680" width="6" height="6" fill="rgb(219, 209, 194)"/>
<rect x="325" y="680" width="6" height="6" fill="rgb(220, 210, 195)"/>
<rect x="331" y="680" width="6" height="6" fill="rgb(222, 212, 197)"/>
<rect x="337" y="680" width="6" height="6" fill="rgb(224, 214, 198)"/>
<rect x="343" y="680" width="6" height="6" fill="rgb(226, 216, 200)"/>
<rect x="349" y="680" width="6" height="6" fill="rgb(227, 217, 201)"/>
<rect x="355" y="680" width="6" height="6" fill="rgb(227, 217, 201)"/>
<rect x="361" y="680" width="6" height="6" fill="rgb(227, 217, 201)"/>
<rect x="367" y="680" width="6" height="6" fill="rgb(227, 217, 201)"/>
<rect x="373" y="680" width="6" height="6" fill="rgb(227, 217, 200)"/>
<rect x="379" y="680" width="6" height="6" fill="rgb(227, 217, 200)"/>
<rect x="385" y="680" width="6" height="6" fill="rgb(227, 217, 200)"/>
<rect x="391" y="680" width="6" height="6" fill="rgb(227, 217, 200)"/>
<rect x="397" y="680" width="6" height="6" fill="rgb(227, 217, 199)"/>
<rect x="403" y="680" width="6" height="6" fill="rgb(227, 217, 199)"/>
<rect x="409" y="680" width="6" height="6" fill="rgb(227, 217, 199)"/>
<rect x="415" y="680" width="6" height="6" fill="rgb(226, 216, 199)"/>
<rect x="85" y="686" width="6" height="6" fill="rgb(131, 122, 109)"/>
<rect x="91" y="686" width="6" height="6" fill="rgb(129, 119, 107)"/>
<rect x="97" y="686" width="6" height="6" fill="rgb(128, 118, 105)"/>
<rect x="103" y="686" width="6" height="6" fill="rgb(128, 118, 105)"/>
<rect x="109" y="686" width="6" height="6" fill="rgb(128, 118, 105)"/>
<rect x="115" y="686" width="6" height="6" fill="rgb(129, 119, 106)"/>
<rect x="121" y="686" width="6" height="6" fill="rgb(132, 122, 110)"/>
<rect x="127" y="686" width="6" height="6" fill="rgb(138, 128, 116)"/>
<rect x="133" y="686" width="6" height="6" fill="rgb(146, 136, 125)"/>
<rect x="139" y="686" width="6" height="6" fill="rgb(153, 144, 133)"/>
<rect x="145" y="686" width="6" height="6" fill="rgb(159, 150, 139)"/>
<rect x="151" y="686" width="6" height="6" fill="rgb(163, 155, 143)"/>
<rect x="157" y="686" width="6" height="6" fill="rgb(167, 158, 146)"/>
<rect x="163" y="686" width="6" height="6" fill="rgb(169, 160, 148)"/>
<rect x="169" y="686" width="6" height="6" fill="rgb(171, 162, 148)"/>
<rect x="175" y="686" width="6" height="6" fill="rgb(172, 162, 149)"/>
<rect x="181" y="686" width="6" height="6" fill="rgb(172, 163, 149)"/>
<rect x="187" y="686" width="6" height="6" fill="rgb(174, 164, 150)"/>
<rect x="193" y="686" width="6" height="6" fill="rgb(176, 166, 153)"/>
<rect x="199" y="686" width="6" height="6" fill="rgb(180, 170, 157)"/>
<rect x="205" y="686" width="6" height="6" fill="rgb(184, 175, 162)"/>
<rect x="211" y="686" width="6" height="6" fill="rgb(190, 180, 168)"/>
<rect x="217" y="686" width="6" height="6" fill="rgb(194, 185, 173)"/>
<rect x="223" y="686" width="6" height="6" fill="rgb(198, 188, 176)"/>
<rect x="229" y="686" width="6" height="6" fill="rgb(200, 190, 178)"/>
<rect x="235" y="686" width="6" height="6" fill="rgb(202, 192, 179)"/>
<rect x="241" y="686" width="6" height="6" fill="rgb(203, 193, 181)"/>
<rect x="247" y="686" width="6" height="6" fill="rgb(204, 194, 181)"/>
<rect x="253" y="686" width="6" height="6" fill="rgb(204, 194, 182)"/>
<rect x="259" y="686" width="6" height="6" fill="rgb(204, 194, 182)"/>
<rect x="265" y="686" width="6" height="6" fill="rgb(204, 194, 182)"/>
<rect x="271" y="686" width="6" height="6" fill="rgb(205, 195, 182)"/>
<rect x="277" y="686" width="6" height="6" fill="rgb(207, 196, 183)"/>
<rect x="283" y="686" width="6" height="6" fill="rgb(208, 198, 183)"/>
<rect x="289" y="686" width="6" height="6" fill="rgb(210, 199, 184)"/>
<rect x="295" y="686" width="6" height="6" fill="rgb(211, 200, 186)"/>
<rect x="301" y="686" width="6" height="6" fill="rgb(213, 202, 188)"/>
<rect x="307" y="686" width="6" height="6" fill="rgb(215, 204, 190)"/>
<rect x="313" y="686" width="6" height="6" fill="rgb(216, 206, 192)"/>
<rect x="319" y="686" width="6" height="6" fill="rgb(218, 208, 193)"/>
<rect x="325" y="686" width="6" height="6" fill="rgb(219, 209, 194)"/>
<rect x="331" y="686" width="6" height="6" fill="rgb(220, 210, 195)"/>
<rect x="337" y="686" width="6" height="6" fill="rgb(222, 212, 197)"/>
<rect x="343" y="686" width="6" height="6" fill="rgb(225, 215, 199)"/>
<rect x="349" y="686" width="6" height="6" fill="rgb(226, 216, 201)"/>
<rect x="355" y="686" width="6" height="6" fill="rgb(227, 217, 201)"/>
<rect x="361" y="686" width="6" height="6" fill="rgb(227, 217, 201)"/>
<rect x="367" y="686" width="6" height="6" fill="rgb(227, 217, 201)"/>
<rect x="373" y="686" width="6" height="6" fill="rgb(227, 217, 200)"/>
<rect x="379" y="686" width="6" height="6" fill="rgb(227, 217, 200)"/>
<rect x="385" y="686" width="6" height="6" fill="rgb(227, 217, 199)"/>
<rect x="391" y="686" width="6" height="6" fill="rgb(227, 217, 199)"/>
<rect x="397" y="686" width="6" height="6" fill="rgb(227, 217, 199)"/>
<rect x="403" y="686" width="6" height="6" fill="rgb(227, 217, 199)"/>
<rect x="409" y="686" width="6" height="6" fill="rgb(226, 217, 199)"/>
<rect x="415" y="686" width="6" height="6" fill="rgb(226, 216, 199)"/>
<rect x="85" y="692" width="6" height="6" fill="rgb(130, 121, 108)"/>
<rect x="91" y="692" width="6" height="6" fill="rgb(128, 119, 106)"/>
<rect x="97" y="692" width="6" height="6" fill="rgb(127, 117, 105)"/>
<rect x="103" y="692" width="6" height="6" fill="rgb(126, 116, 104)"/>
<rect x="109" y="692" width="6" height="6" fill="rgb(126, 116, 104)"/>
<rect x="115" y="692" width="6" height="6" fill="rgb(127, 117, 104)"/>
<rect x="121" y="692" width="6" height="6" fill="rgb(129, 119, 107)"/>
<rect x="127" y="692" width="6" height="6" fill="rgb(134, 125, 112)"/>
<rect x="133" y="692" width="6" height="6" fill="rgb(141, 132, 120)"/>
<rect x="139" y="692" width="6" height="6" fill="rgb(149, 140, 128)"/>
<rect x="145" y="692" width="6" height="6" fill="rgb(157, 148, 136)"/>
<rect x="151" y="692" width="6" height="6" fill="rgb(162, 153, 141)"/>
<rect x="157" y="692" width="6" height="6" fill="rgb(166, 157, 145)"/>
<rect x="163" y="692" width="6" height="6" fill="rgb(169, 160, 146)"/>
<rect x="169" y="692" width="6" height="6" fill="rgb(170, 161, 147)"/>
<rect x="175" y="692" width="6" height="6" fill="rgb(170, 161, 146)"/>
<rect x="181" y="692" width="6" height="6" fill="rgb(171, 161, 146)"/>
<rect x="187" y="692" width="6" height="6" fill="rgb(171, 161, 147)"/>
<rect x="193" y="692" width="6" height="6" fill="rgb(173, 163, 149)"/>
<rect x="199" y="692" width="6" height="6" fill="rgb(176, 166, 153)"/>
<rect x="205" y="692" width="6" height="6" fill="rgb(181, 172, 158)"/>
<rect x="211" y="692" width="6" height="6" fill="rgb(187, 177, 165)"/>
<rect x="217" y="692" width="6" height="6" fill="rgb(192, 183, 170)"/>
<rect x="223" y="692" width="6" height="6" fill="rgb(196, 186, 174)"/>
<rect x="229" y="692" width="6" height="6" fill="rgb(198, 189, 176)"/>
<rect x="235" y="692" width="6" height="6" fill="rgb(200, 190, 177)"/>
<rect x="241" y="692" width="6" height="6" fill="rgb(200, 190, 178)"/>
<rect x="247" y="692" width="6" height="6" fill="rgb(201, 191, 178)"/>
<rect x="253" y="692" width="6" height="6" fill="rgb(202, 192, 179)"/>
<rect x="259" y="692" width="6" height="6" fill="rgb(202, 192, 180)"/>
<rect x="265" y="692" width="6" height="6" fill="rgb(203, 193, 180)"/>
<rect x="271" y="692" width="6" height="6" fill="rgb(205, 194, 181)"/>
<rect x="277" y="692" width="6" height="6" fill="rgb(207, 196, 182)"/>
<rect x="283" y="692" width="6" height="6" fill="rgb(209, 197, 182)"/>
<rect x="289" y="692" width="6" height="6" fill="rgb(209, 198, 183)"/>
<rect x="295" y="692" width="6" height="6" fill="rgb(210, 199, 184)"/>
<rect x="301" y="692" width="6" height="6" fill="rgb(212, 201, 186)"/>
<rect x="307" y="692" width="6" height="6" fill="rgb(214, 203, 188)"/>
<rect x="313" y="692" width="6" height="6" fill="rgb(216, 206, 190)"/>
<rect x="319" y="692" width="6" height="6" fill="rgb(217, 207, 192)"/>
<rect x="325" y="692" width="6" height="6" fill="rgb(218, 208, 192)"/>
<rect x="331" y="692" width="6" height="6" fill="rgb(219, 209, 193)"/>
<rect x="337" y="692" width="6" height="6" fill="rgb(220, 210, 194)"/>
<rect x="343" y="692" width="6" height="6" fill="rgb(223, 213, 197)"/>
<rect x="349" y="692" width="6" height="6" fill="rgb(225, 215, 199)"/>
<rect x="355" y="692" width="6" height="6" fill="rgb(226, 216, 200)"/>
<rect x="361" y="692" width="6" height="6" fill="rgb(227, 217, 201)"/>
<rect x="367" y="692" width="6" height="6" fill="rgb(226, 217, 200)"/>
<rect x="373" y="692" width="6" height="6" fill="rgb(226, 217, 200)"/>
<rect x="379" y="692" width="6" height="6" fill="rgb(227, 217, 199)"/>
<rect x="385" y="692" width="6" height="6" fill="rgb(227, 217, 199)"/>
<rect x="391" y="692" width="6" height="6" fill="rgb(227, 217, 199)"/>
<rect x="397" y="692" width="6" height="6" fill="rgb(227, 217, 199)"/>
<rect x="403" y="692" width="6" height="6" fill="rgb(226, 216, 198)"/>
<rect x="409" y="692" width="6" height="6" fill="rgb(226, 216, 198)"/>
<rect x="415" y="692" width="6" height="6" fill="rgb(226, 216, 198)"/>
<rect x="85" y="698" width="6" height="6" fill="rgb(129, 119, 107)"/>
<rect x="91" y="698" width="6" height="6" fill="rgb(126, 117, 104)"/>
<rect x="97" y="698" width="6" height="6" fill="rgb(124, 114, 102)"/>
<rect x="103" y="698" width="6" height="6" fill="rgb(122, 112, 100)"/>
<rect x="109" y="698" width="6" height="6" fill="rgb(122, 112, 100)"/>
<rect x="115" y="698" width="6" height="6" fill="rgb(122, 112, 100)"/>
<rect x="121" y="698" width="6" height="6" fill="rgb(125, 115, 103)"/>
<rect x="127" y="698" width="6" height="6" fill="rgb(130, 121, 109)"/>
<rect x="133" y="698" width="6" height="6" fill="rgb(138, 128, 116)"/>
<rect x="139" y="698" width="6" height="6" fill="rgb(146, 137, 125)"/>
<rect x="145" y="698" width="6" height="6" fill="rgb(155, 145, 133)"/>
<rect x="151" y="698" width="6" height="6" fill="rgb(161, 152, 140)"/>
<rect x="157" y="698" width="6" height="6" fill="rgb(166, 157, 144)"/>
<rect x="163" y="698" width="6" height="6" fill="rgb(169, 159, 145)"/>
<rect x="169" y="698" width="6" height="6" fill="rgb(170, 160, 145)"/>
<rect x="175" y="698" width="6" height="6" fill="rgb(170, 160, 145)"/>
<rect x="181" y="698" width="6" height="6" fill="rgb(170, 160, 145)"/>
<rect x="187" y="698" width="6" height="6" fill="rgb(170, 160, 145)"/>
<rect x="193" y="698" width="6" height="6" fill="rgb(171, 161, 147)"/>
<rect x="199" y="698" width="6" height="6" fill="rgb(174, 164, 150)"/>
<rect x="205" y="698" width="6" height="6" fill="rgb(179, 169, 155)"/>
<rect x="211" y="698" width="6" height="6" fill="rgb(185, 175, 162)"/>
<rect x="217" y="698" width="6" height="6" fill="rgb(191, 181, 168)"/>
<rect x="223" y="698" width="6" height="6" fill="rgb(195, 185, 172)"/>
<rect x="229" y="698" width="6" height="6" fill="rgb(197, 187, 174)"/>
<rect x="235" y="698" width="6" height="6" fill="rgb(198, 188, 175)"/>
<rect x="241" y="698" width="6" height="6" fill="rgb(197, 187, 175)"/>
<rect x="247" y="698" width="6" height="6" fill="rgb(197, 187, 174)"/>
<rect x="253" y="698" width="6" height="6" fill="rgb(197, 187, 174)"/>
<rect x="259" y="698" width="6" height="6" fill="rgb(198, 188, 175)"/>
<rect x="265" y="698" width="6" height="6" fill="rgb(201, 191, 177)"/>
<rect x="271" y="698" width="6" height="6" fill="rgb(205, 194, 180)"/>
<rect x="277" y="698" width="6" height="6" fill="rgb(208, 196, 181)"/>
<rect x="283" y="698" width="6" height="6" fill="rgb(209, 197, 182)"/>
<rect x="289" y="698" width="6" height="6" fill="rgb(209, 198, 182)"/>
<rect x="295" y="698" width="6" height="6" fill="rgb(210, 198, 182)"/>
<rect x="301" y="698" width="6" height="6" fill="rgb(211, 200, 184)"/>
<rect x="307" y="698" width="6" height="6" fill="rgb(214, 203, 187)"/>
<rect x="313" y="698" width="6" height="6" fill="rgb(216, 206, 190)"/>
<rect x="319" y="698" width="6" height="6" fill="rgb(217, 207, 191)"/>
<rect x="325" y="698" width="6" height="6" fill="rgb(218, 208, 192)"/>
<rect x="331" y="698" width="6" height="6" fill="rgb(218, 208, 192)"/>
<rect x="337" y="698" width="6" height="6" fill="rgb(218, 209, 193)"/>
<rect x="343" y="698" width="6" height="6" fill="rgb(220, 210, 195)"/>
<rect x="349" y="698" width="6" height="6" fill="rgb(223, 213, 197)"/>
<rect x="355" y="698" width="6" height="6" fill="rgb(224, 215, 199)"/>
<rect x="361" y="698" width="6" height="6" fill="rgb(225, 215, 199)"/>
<rect x="367" y="698" width="6" height="6" fill="rgb(226, 216, 199)"/>
<rect x="373" y="698" width="6" height="6" fill="rgb(226, 216, 199)"/>
<rect x="379" y="698" width="6" height="6" fill="rgb(226, 216, 199)"/>
<rect x="385" y="698" width="6" height="6" fill="rgb(226, 216, 199)"/>
<rect x="391" y="698" width="6" height="6" fill="rgb(226, 216, 198)"/>
<rect x="397" y="698" width="6" height="6" fill="rgb(226, 216, 198)"/>
<rect x="403" y="698" width="6" height="6" fill="rgb(226, 216, 198)"/>
<rect x="409" y="698" width="6" height="6" fill="rgb(226, 216, 198)"/>
<rect x="415" y="698" width="6" height="6" fill="rgb(226, 216, 198)"/>
<rect x="85" y="704" width="6" height="6" fill="rgb(128, 118, 106)"/>
<rect x="91" y="704" width="6" height="6" fill="rgb(125, 115, 103)"/>
<rect x="97" y="704" width="6" height="6" fill="rgb(122, 112, 100)"/>
<rect x="103" y="704" width="6" height="6" fill="rgb(120, 110, 98)"/>
<rect x="109" y="704" width="6" height="6" fill="rgb(120, 110, 98)"/>
<rect x="115" y="704" width="6" height="6" fill="rgb(120, 110, 98)"/>
<rect x="121" y="704" width="6" height="6" fill="rgb(123, 113, 101)"/>
<rect x="127" y="704" width="6" height="6" fill="rgb(128, 118, 106)"/>
<rect x="133" y="704" width="6" height="6" fill="rgb(135, 126, 113)"/>
<rect x="139" y="704" width="6" height="6" fill="rgb(144, 135, 123)"/>
<rect x="145" y="704" width="6" height="6" fill="rgb(153, 144, 131)"/>
<rect x="151" y="704" width="6" height="6" fill="rgb(161, 151, 139)"/>
<rect x="157" y="704" width="6" height="6" fill="rgb(166, 157, 143)"/>
<rect x="163" y="704" width="6" height="6" fill="rgb(169, 159, 145)"/>
<rect x="169" y="704" width="6" height="6" fill="rgb(170, 160, 145)"/>
<rect x="175" y="704" width="6" height="6" fill="rgb(170, 160, 145)"/>
<rect x="181" y="704" width="6" height="6" fill="rgb(170, 160, 145)"/>
<rect x="187" y="704" width="6" height="6" fill="rgb(170, 160, 145)"/>
<rect x="193" y="704" width="6" height="6" fill="rgb(170, 161, 146)"/>
<rect x="199" y="704" width="6" height="6" fill="rgb(173, 163, 149)"/>
<rect x="205" y="704" width="6" height="6" fill="rgb(177, 168, 154)"/>
<rect x="211" y="704" width="6" height="6" fill="rgb(183, 174, 160)"/>
<rect x="217" y="704" width="6" height="6" fill="rgb(189, 180, 167)"/>
<rect x="223" y="704" width="6" height="6" fill="rgb(194, 184, 171)"/>
<rect x="229" y="704" width="6" height="6" fill="rgb(196, 186, 173)"/>
<rect x="235" y="704" width="6" height="6" fill="rgb(196, 186, 173)"/>
<rect x="241" y="704" width="6" height="6" fill="rgb(196, 186, 173)"/>
<rect x="247" y="704" width="6" height="6" fill="rgb(195, 185, 172)"/>
<rect x="253" y="704" width="6" height="6" fill="rgb(195, 185, 172)"/>
<rect x="259" y="704" width="6" height="6" fill="rgb(196, 186, 173)"/>
<rect x="265" y="704" width="6" height="6" fill="rgb(199, 189, 175)"/>
<rect x="271" y="704" width="6" height="6" fill="rgb(204, 193, 179)"/>
<rect x="277" y="704" width="6" height="6" fill="rgb(208, 197, 181)"/>
<rect x="283" y="704" width="6" height="6" fill="rgb(209, 197, 182)"/>
<rect x="289" y="704" width="6" height="6" fill="rgb(209, 198, 182)"/>
<rect x="295" y="704" width="6" height="6" fill="rgb(210, 198, 182)"/>
<rect x="301" y="704" width="6" height="6" fill="rgb(211, 199, 184)"/>
<rect x="307" y="704" width="6" height="6" fill="rgb(213, 203, 187)"/>
<rect x="313" y="704" width="6" height="6" fill="rgb(216, 206, 190)"/>
<rect x="319" y="704" width="6" height="6" fill="rgb(217, 207, 191)"/>
<rect x="325" y="704" width="6" height="6" fill="rgb(217, 207, 192)"/>
<rect x="331" y="704" width="6" height="6" fill="rgb(218, 208, 192)"/>
<rect x="337" y="704" width="6" height="6" fill="rgb(218, 208, 192)"/>
<rect x="343" y="704" width="6" height="6" fill="rgb(219, 209, 193)"/>
<rect x="349" y="704" width="6" height="6" fill="rgb(221, 211, 195)"/>
<rect x="355" y="704" width="6" height="6" fill="rgb(223, 213, 197)"/>
<rect x="361" y="704" width="6" height="6" fill="rgb(224, 214, 198)"/>
<rect x="367" y="704" width="6" height="6" fill="rgb(225, 215, 199)"/>
<rect x="373" y="704" width="6" height="6" fill="rgb(225, 215, 199)"/>
<rect x="379" y="704" width="6" height="6" fill="rgb(226, 216, 198)"/>
<rect x="385" y="704" width="6" height="6" fill="rgb(226, 216, 198)"/>
<rect x="391" y="704" width="6" height="6" fill="rgb(226, 216, 198)"/>
<rect x="397" y="704" width="6" height="6" fill="rgb(226, 216, 198)"/>
<rect x="403" y="704" width="6" height="6" fill="rgb(226, 216, 198)"/>
<rect x="409" y="704" width="6" height="6" fill="rgb(226, 216, 198)"/>
<rect x="415" y="704" width="6" height="6" fill="rgb(226, 216, 198)"/>
<rect x="85" y="710" width="6" height="6" fill="rgb(127, 117, 105)"/>
<rect x="91" y="710" width="6" height="6" fill="rgb(124, 114, 102)"/>
<rect x="97" y="710" width="6" height="6" fill="rgb(122, 112, 100)"/>
<rect x="103" y="710" width="6" height="6" fill="rgb(120, 110, 98)"/>
<rect x="109" y="710" width="6" height="6" fill="rgb(120, 110, 98)"/>
<rect x="115" y="710" width="6" height="6" fill="rgb(120, 110, 98)"/>
<rect x="121" y="710" width="6" height="6" fill="rgb(122, 112, 100)"/>
<rect x="127" y="710" width="6" height="6" fill="rgb(127, 117, 105)"/>
<rect x="133" y="710" width="6" height="6" fill="rgb(134, 124, 112)"/>
<rect x="139" y="710" width="6" height="6" fill="rgb(143, 134, 121)"/>
<rect x="145" y="710" width="6" height="6" fill="rgb(152, 143, 130)"/>
<rect x="151" y="710" width="6" height="6" fill="rgb(160, 151, 138)"/>
<rect x="157" y="710" width="6" height="6" fill="rgb(166, 156, 143)"/>
<rect x="163" y="710" width="6" height="6" fill="rgb(169, 159, 145)"/>
<rect x="169" y="710" width="6" height="6" fill="rgb(170, 160, 145)"/>
<rect x="175" y="710" width="6" height="6" fill="rgb(170, 160, 145)"/>
<rect x="181" y="710" width="6" height="6" fill="rgb(170, 160, 145)"/>
<rect x="187" y="710" width="6" height="6" fill="rgb(170, 160, 145)"/>
<rect x="193" y="710" width="6" height="6" fill="rgb(171, 161, 146)"/>
<rect x="199" y="710" width="6" height="6" fill="rgb(173, 163, 148)"/>
<rect x="205" y="710" width="6" height="6" fill="rgb(177, 167, 153)"/>
<rect x="211" y="710" width="6" height="6" fill="rgb(183, 173, 160)"/>
<rect x="217" y="710" width="6" height="6" fill="rgb(189, 179, 166)"/>
<rect x="223" y="710" width="6" height="6" fill="rgb(193, 183, 170)"/>
<rect x="229" y="710" width="6" height="6" fill="rgb(195, 185, 172)"/>
<rect x="235" y="710" width="6" height="6" fill="rgb(196, 186, 173)"/>
<rect x="241" y="710" width="6" height="6" fill="rgb(195, 185, 172)"/>
<rect x="247" y="710" width="6" height="6" fill="rgb(195, 185, 172)"/>
<rect x="253" y="710" width="6" height="6" fill="rgb(195, 185, 172)"/>
<rect x="259" y="710" width="6" height="6" fill="rgb(195, 185, 172)"/>
<rect x="265" y="710" width="6" height="6" fill="rgb(198, 188, 174)"/>
<rect x="271" y="710" width="6" height="6" fill="rgb(204, 193, 178)"/>
<rect x="277" y="710" width="6" height="6" fill="rgb(208, 197, 181)"/>
<rect x="283" y="710" width="6" height="6" fill="rgb(209, 197, 181)"/>
<rect x="289" y="710" width="6" height="6" fill="rgb(209, 198, 182)"/>
<rect x="295" y="710" width="6" height="6" fill="rgb(210, 198, 182)"/>
<rect x="301" y="710" width="6" height="6" fill="rgb(211, 199, 183)"/>
<rect x="307" y="710" width="6" height="6" fill="rgb(213, 203, 187)"/>
<rect x="313" y="710" width="6" height="6" fill="rgb(216, 206, 190)"/>
<rect x="319" y="710" width="6" height="6" fill="rgb(217, 207, 191)"/>
<rect x="325" y="710" width="6" height="6" fill="rgb(217, 207, 191)"/>
<rect x="331" y="710" width="6" height="6" fill="rgb(218, 208, 192)"/>
<rect x="337" y="710" width="6" height="6" fill="rgb(218, 208, 192)"/>
<rect x="343" y="710" width="6" height="6" fill="rgb(218, 208, 193)"/>
<rect x="349" y="710" width="6" height="6" fill="rgb(220, 210, 194)"/>
<rect x="355" y="710" width="6" height="6" fill="rgb(222, 212, 196)"/>
<rect x="361" y="710" width="6" height="6" fill="rgb(223, 213, 197)"/>
<rect x="367" y="710" width="6" height="6" fill="rgb(224, 214, 198)"/>
<rect x="373" y="710" width="6" height="6" fill="rgb(225, 215, 198)"/>
<rect x="379" y="710" width="6" height="6" fill="rgb(225, 215, 198)"/>
<rect x="385" y="710" width="6" height="6" fill="rgb(225, 215, 198)"/>
<rect x="391" y="710" width="6" height="6" fill="rgb(225, 216, 198)"/>
<rect x="397" y="710" width="6" height="6" fill="rgb(226, 216, 198)"/>
<rect x="403" y="710" width="6" height="6" fill="rgb(225, 216, 198)"/>
<rect x="409" y="710" width="6" height="6" fill="rgb(225, 216, 198)"/>
<rect x="415" y="710" width="6" height="6" fill="rgb(225, 215, 198)"/>
<rect x="85" y="716" width="6" height="6" fill="rgb(128, 118, 106)"/>
<rect x="91" y="716" width="6" height="6" fill="rgb(125, 115, 103)"/>
<rect x="97" y="716" width="6" height="6" fill="rgb(122, 112, 100)"/>
<rect x="103" y="716" width="6" height="6" fill="rgb(121, 111, 99)"/>
<rect x="109" y="716" width="6" height="6" fill="rgb(121, 111, 99)"/>
<rect x="115" y="716" width="6" height="6" fill="rgb(121, 111, 99)"/>
<rect x="121" y="716" width="6" height="6" fill="rgb(123, 113, 101)"/>
<rect x="127" y="716" width="6" height="6" fill="rgb(128, 118, 106)"/>
<rect x="133" y="716" width="6" height="6" fill="rgb(135, 125, 113)"/>
<rect x="139" y="716" width="6" height="6" fill="rgb(143, 134, 122)"/>
<rect x="145" y="716" width="6" height="6" fill="rgb(152, 143, 130)"/>
<rect x="151" y="716" width="6" height="6" fill="rgb(160, 151, 138)"/>
<rect x="157" y="716" width="6" height="6" fill="rgb(166, 156, 142)"/>
<rect x="163" y="716" width="6" height="6" fill="rgb(169, 159, 145)"/>
<rect x="169" y="716" width="6" height="6" fill="rgb(170, 160, 145)"/>
<rect x="175" y="716" width="6" height="6" fill="rgb(170, 160, 145)"/>
<rect x="181" y="716" width="6" height="6" fill="rgb(170, 160, 145)"/>
<rect x="187" y="716" width="6" height="6" fill="rgb(170, 160, 145)"/>
<rect x="193" y="716" width="6" height="6" fill="rgb(171, 161, 147)"/>
<rect x="199" y="716" width="6" height="6" fill="rgb(174, 164, 149)"/>
<rect x="205" y="716" width="6" height="6" fill="rgb(178, 168, 154)"/>
<rect x="211" y="716" width="6" height="6" fill="rgb(183, 173, 160)"/>
<rect x="217" y="716" width="6" height="6" fill="rgb(189, 179, 166)"/>
<rect x="223" y="716" width="6" height="6" fill="rgb(193, 183, 170)"/>
<rect x="229" y="716" width="6" height="6" fill="rgb(195, 185, 172)"/>
<rect x="235" y="716" width="6" height="6" fill="rgb(196, 186, 173)"/>
<rect x="241" y="716" width="6" height="6" fill="rgb(195, 185, 172)"/>
<rect x="247" y="716" width="6" height="6" fill="rgb(195, 185, 172)"/>
<rect x="253" y="716" width="6" height="6" fill="rgb(195, 185, 172)"/>
<rect x="259" y="716" width="6" height="6" fill="rgb(196, 186, 173)"/>
<rect x="265" y="716" width="6" height="6" fill="rgb(199, 188, 175)"/>
<rect x="271" y="716" width="6" height="6" fill="rgb(204, 193, 178)"/>
<rect x="277" y="716" width="6" height="6" fill="rgb(208, 196, 181)"/>
<rect x="283" y="716" width="6" height="6" fill="rgb(209, 197, 181)"/>
<rect x="289" y="716" width="6" height="6" fill="rgb(209, 198, 182)"/>
<rect x="295" y="716" width="6" height="6" fill="rgb(210, 198, 182)"/>
<rect x="301" y="716" width="6" height="6" fill="rgb(211, 199, 184)"/>
<rect x="307" y="716" width="6" height="6" fill="rgb(213, 202, 187)"/>
<rect x="313" y="716" width="6" height="6" fill="rgb(216, 205, 190)"/>
<rect x="319" y="716" width="6" height="6" fill="rgb(217, 207, 191)"/>
<rect x="325" y="716" width="6" height="6" fill="rgb(217, 207, 191)"/>
<rect x="331" y="716" width="6" height="6" fill="rgb(217, 207, 192)"/>
<rect x="337" y="716" width="6" height="6" fill="rgb(218, 208, 192)"/>
<rect x="343" y="716" width="6" height="6" fill="rgb(218, 208, 192)"/>
<rect x="349" y="716" width="6" height="6" fill="rgb(219, 209, 194)"/>
<rect x="355" y="716" width="6" height="6" fill="rgb(221, 211, 195)"/>
<rect x="361" y="716" width="6" height="6" fill="rgb(222, 212, 196)"/>
<rect x="367" y="716" width="6" height="6" fill="rgb(223, 213, 197)"/>
<rect x="373" y="716" width="6" height="6" fill="rgb(224, 214, 198)"/>
<rect x="379" y="716" width="6" height="6" fill="rgb(225, 215, 198)"/>
<rect x="385" y="716" width="6" height="6" fill="rgb(225, 215, 198)"/>
<rect x="391" y="716" width="6" height="6" fill="rgb(225, 215, 198)"/>
<rect x="397" y="716" width="6" height="6" fill="rgb(225, 215, 198)"/>
<rect x="403" y="716" width="6" height="6" fill="rgb(225, 215, 198)"/>
<rect x="409" y="716" width="6" height="6" fill="rgb(225, 215, 198)"/>
<rect x="415" y="716" width="6" height="6" fill="rgb(225, 215, 198)"/>
<rect x="85" y="722" width="6" height="6" fill="rgb(129, 119, 107)"/>
<rect x="91" y="722" width="6" height="6" fill="rgb(126, 116, 104)"/>
<rect x="97" y="722" width="6" height="6" fill="rgb(124, 114, 102)"/>
<rect x="103" y="722" width="6" height="6" fill="rgb(123, 113, 101)"/>
<rect x="109" y="722" width="6" height="6" fill="rgb(122, 112, 100)"/>
<rect x="115" y="722" width="6" height="6" fill="rgb(123, 113, 101)"/>
<rect x="121" y="722" width="6" height="6" fill="rgb(126, 116, 104)"/>
<rect x="127" y="722" width="6" height="6" fill="rgb(130, 120, 108)"/>
<rect x="133" y="722" width="6" height="6" fill="rgb(137, 127, 115)"/>
<rect x="139" y="722" width="6" height="6" fill="rgb(144, 135, 123)"/>
<rect x="145" y="722" width="6" height="6" fill="rgb(153, 143, 131)"/>
<rect x="151" y="722" width="6" height="6" fill="rgb(160, 150, 137)"/>
<rect x="157" y="722" width="6" height="6" fill="rgb(165, 156, 142)"/>
<rect x="163" y="722" width="6" height="6" fill="rgb(168, 159, 145)"/>
<rect x="169" y="722" width="6" height="6" fill="rgb(170, 160, 146)"/>
<rect x="175" y="722" width="6" height="6" fill="rgb(170, 160, 146)"/>
<rect x="181" y="722" width="6" height="6" fill="rgb(171, 161, 146)"/>
<rect x="187" y="722" width="6" height="6" fill="rgb(171, 161, 147)"/>
<rect x="193" y="722" width="6" height="6" fill="rgb(173, 163, 148)"/>
<rect x="199" y="722" width="6" height="6" fill="rgb(175, 165, 151)"/>
<rect x="205" y="722" width="6" height="6" fill="rgb(179, 169, 155)"/>
<rect x="211" y="722" width="6" height="6" fill="rgb(184, 174, 161)"/>
<rect x="217" y="722" width="6" height="6" fill="rgb(189, 179, 166)"/>
<rect x="223" y="722" width="6" height="6" fill="rgb(192, 183, 170)"/>
<rect x="229" y="722" width="6" height="6" fill="rgb(195, 185, 172)"/>
<rect x="235" y="722" width="6" height="6" fill="rgb(196, 186, 173)"/>
<rect x="241" y="722" width="6" height="6" fill="rgb(196, 186, 173)"/>
<rect x="247" y="722" width="6" height="6" fill="rgb(196, 186, 173)"/>
<rect x="253" y="722" width="6" height="6" fill="rgb(196, 186, 173)"/>
<rect x="259" y="722" width="6" height="6" fill="rgb(197, 187, 173)"/>
<rect x="265" y="722" width="6" height="6" fill="rgb(199, 189, 175)"/>
<rect x="271" y="722" width="6" height="6" fill="rgb(203, 192, 178)"/>
<rect x="277" y="722" width="6" height="6" fill="rgb(207, 195, 180)"/>
<rect x="283" y="722" width="6" height="6" fill="rgb(208, 197, 181)"/>
<rect x="289" y="722" width="6" height="6" fill="rgb(209, 198, 182)"/>
<rect x="295" y="722" width="6" height="6" fill="rgb(210, 198, 183)"/>
<rect x="301" y="722" width="6" height="6" fill="rgb(211, 200, 184)"/>
<rect x="307" y="722" width="6" height="6" fill="rgb(213, 202, 187)"/>
<rect x="313" y="722" width="6" height="6" fill="rgb(215, 205, 189)"/>
<rect x="319" y="722" width="6" height="6" fill="rgb(217, 206, 191)"/>
<rect x="325" y="722" width="6" height="6" fill="rgb(217, 207, 191)"/>
<rect x="331" y="722" width="6" height="6" fill="rgb(217, 207, 192)"/>
<rect x="337" y="722" width="6" height="6" fill="rgb(218, 208, 192)"/>
<rect x="343" y="722" width="6" height="6" fill="rgb(218, 208, 192)"/>
<rect x="349" y="722" width="6" height="6" fill="rgb(219, 209, 193)"/>
<rect x="355" y="722" width="6" height="6" fill="rgb(220, 210, 195)"/>
<rect x="361" y="722" width="6" height="6" fill="rgb(222, 212, 196)"/>
<rect x="367" y="722" width="6" height="6" fill="rgb(223, 213, 197)"/>
<rect x="373" y="722" width="6" height="6" fill="rgb(224, 214, 197)"/>
<rect x="379" y="722" width="6" height="6" fill="rgb(225, 215, 197)"/>
<rect x="385" y="722" width="6" height="6" fill="rgb(225, 215, 198)"/>
<rect x="391" y="722" width="6" height="6" fill="rgb(225, 215, 198)"/>
<rect x="397" y="722" width="6" height="6" fill="rgb(225, 215, 198)"/>
<rect x="403" y="722" width="6" height="6" fill="rgb(225, 215, 198)"/>
<rect x="409" y="722" width="6" height="6" fill="rgb(225, 215, 198)"/>
<rect x="415" y="722" width="6" height="6" fill="rgb(225, 215, 198)"/>
</g>
<rect x="97" y="542" width="312" height="174" fill="url(#stripes)" opacity="0.22"/>
<ellipse cx="122.7" cy="558.8" rx="9.65" ry="9.65" fill="#7c8090" opacity="0.32" filter="url(#sh)"/>
<ellipse cx="124.7" cy="568.5699999999999" rx="6.372" ry="7.77" fill="#d6b08c" opacity="0.42" filter="url(#sh)"/>
<ellipse cx="139.9" cy="555.0" rx="7.8" ry="7.9" fill="#7c8090" opacity="0.32" filter="url(#sh)"/>
<ellipse cx="141.9" cy="563.3" rx="5.04" ry="6.3" fill="#d6b08c" opacity="0.42" filter="url(#sh)"/>
<ellipse cx="155.7" cy="557.6" rx="8.8" ry="7.9" fill="#7c8090" opacity="0.32" filter="url(#sh)"/>
<ellipse cx="157.7" cy="565.9" rx="5.76" ry="6.3" fill="#d6b08c" opacity="0.42" filter="url(#sh)"/>
<ellipse cx="171.5" cy="556.8" rx="6.8" ry="6.9" fill="#7c8090" opacity="0.32" filter="url(#sh)"/>
<ellipse cx="173.5" cy="564.26" rx="4.32" ry="5.46" fill="#d6b08c" opacity="0.42" filter="url(#sh)"/>
<ellipse cx="187.6" cy="554.0" rx="8.3" ry="8.9" fill="#7c8090" opacity="0.32" filter="url(#sh)"/>
<ellipse cx="189.6" cy="563.14" rx="5.3999999999999995" ry="7.14" fill="#d6b08c" opacity="0.42" filter="url(#sh)"/>
<ellipse cx="203.0" cy="559.5" rx="7.8" ry="7.9" fill="#7c8090" opacity="0.32" filter="url(#sh)"/>
<ellipse cx="205" cy="567.8" rx="5.04" ry="6.3" fill="#d6b08c" opacity="0.42" filter="url(#sh)"/>
<ellipse cx="218.8" cy="560.3" rx="8.3" ry="7.9" fill="#7c8090" opacity="0.32" filter="url(#sh)"/>
<ellipse cx="220.8" cy="568.5999999999999" rx="5.3999999999999995" ry="6.3" fill="#d6b08c" opacity="0.42" filter="url(#sh)"/>
<ellipse cx="235.3" cy="560.3" rx="6.8" ry="7.4" fill="#7c8090" opacity="0.32" filter="url(#sh)"/>
<ellipse cx="237.3" cy="568.18" rx="4.32" ry="5.88" fill="#d6b08c" opacity="0.42" filter="url(#sh)"/>
<ellipse cx="278.4" cy="563.0" rx="9.3" ry="8.9" fill="#7c8090" opacity="0.32" filter="url(#sh)"/>
<ellipse cx="280.4" cy="572.14" rx="6.12" ry="7.14" fill="#d6b08c" opacity="0.42" filter="url(#sh)"/>
<ellipse cx="299.5" cy="560.7" rx="9.3" ry="8.4" fill="#7c8090" opacity="0.32" filter="url(#sh)"/>
<ellipse cx="301.5" cy="569.4200000000001" rx="6.12" ry="6.72" fill="#d6b08c" opacity="0.42" filter="url(#sh)"/>
<ellipse cx="319.5" cy="561.0" rx="8.3" ry="8.9" fill="#7c8090" opacity="0.32" filter="url(#sh)"/>
<ellipse cx="321.5" cy="570.14" rx="5.3999999999999995" ry="7.14" fill="#d6b08c" opacity="0.42" filter="url(#sh)"/>
<ellipse cx="335.9" cy="562.0" rx="8.3" ry="7.9" fill="#7c8090" opacity="0.32" filter="url(#sh)"/>
<ellipse cx="337.9" cy="570.3" rx="5.3999999999999995" ry="6.3" fill="#d6b08c" opacity="0.42" filter="url(#sh)"/>
<ellipse cx="352.7" cy="563.0" rx="8.8" ry="6.9" fill="#7c8090" opacity="0.32" filter="url(#sh)"/>
<ellipse cx="354.7" cy="570.46" rx="5.76" ry="5.46" fill="#d6b08c" opacity="0.42" filter="url(#sh)"/>
<ellipse cx="368.5" cy="562.0" rx="6.8" ry="7.9" fill="#7c8090" opacity="0.32" filter="url(#sh)"/>
<ellipse cx="370.5" cy="570.3" rx="4.32" ry="6.3" fill="#d6b08c" opacity="0.42" filter="url(#sh)"/>
<ellipse cx="380.5" cy="564.0" rx="6.8" ry="8.9" fill="#7c8090" opacity="0.32" filter="url(#sh)"/>
<ellipse cx="382.5" cy="573.14" rx="4.32" ry="7.14" fill="#d6b08c" opacity="0.42" filter="url(#sh)"/>
<ellipse cx="393.5" cy="563.0" rx="6.8" ry="6.9" fill="#7c8090" opacity="0.32" filter="url(#sh)"/>
<ellipse cx="395.5" cy="570.46" rx="4.32" ry="5.46" fill="#d6b08c" opacity="0.42" filter="url(#sh)"/>
<ellipse cx="122.7" cy="598.4" rx="7.3" ry="6.9" fill="#7c8090" opacity="0.32" filter="url(#sh)"/>
<ellipse cx="124.7" cy="605.86" rx="4.68" ry="5.46" fill="#d6b08c" opacity="0.42" filter="url(#sh)"/>
<ellipse cx="138.4" cy="599.2" rx="8.3" ry="6.9" fill="#7c8090" opacity="0.32" filter="url(#sh)"/>
<ellipse cx="140.4" cy="606.6600000000001" rx="5.3999999999999995" ry="5.46" fill="#d6b08c" opacity="0.42" filter="url(#sh)"/>
<ellipse cx="154.5" cy="599.2" rx="6.8" ry="6.9" fill="#7c8090" opacity="0.32" filter="url(#sh)"/>
<ellipse cx="156.5" cy="606.6600000000001" rx="4.32" ry="5.46" fill="#d6b08c" opacity="0.42" filter="url(#sh)"/>
<ellipse cx="165.7" cy="598.4" rx="7.3" ry="7.9" fill="#7c8090" opacity="0.32" filter="url(#sh)"/>
<ellipse cx="167.7" cy="606.6999999999999" rx="4.68" ry="6.3" fill="#d6b08c" opacity="0.42" filter="url(#sh)"/>
<ellipse cx="183.8" cy="598.4" rx="7.8" ry="7.9" fill="#7c8090" opacity="0.32" filter="url(#sh)"/>
<ellipse cx="185.8" cy="606.6999999999999" rx="5.04" ry="6.3" fill="#d6b08c" opacity="0.42" filter="url(#sh)"/>
<ellipse cx="201.4" cy="598.0" rx="6.3" ry="9.4" fill="#7c8090" opacity="0.32" filter="url(#sh)"/>
<ellipse cx="203.4" cy="607.56" rx="3.96" ry="7.56" fill="#d6b08c" opacity="0.42" filter="url(#sh)"/>
<ellipse cx="218.0" cy="597.6" rx="6.8" ry="6.9" fill="#7c8090" opacity="0.32" filter="url(#sh)"/>
<ellipse cx="220" cy="605.0600000000001" rx="4.32" ry="5.46" fill="#d6b08c" opacity="0.42" filter="url(#sh)"/>
<ellipse cx="232.7" cy="595.3" rx="7.3" ry="7.9" fill="#7c8090" opacity="0.32" filter="url(#sh)"/>
<ellipse cx="234.7" cy="603.5999999999999" rx="4.68" ry="6.3" fill="#d6b08c" opacity="0.42" filter="url(#sh)"/>
<ellipse cx="281.8" cy="596.0" rx="7.3" ry="6.9" fill="#7c8090" opacity="0.32" filter="url(#sh)"/>
<ellipse cx="283.8" cy="603.46" rx="4.68" ry="5.46" fill="#d6b08c" opacity="0.42" filter="url(#sh)"/>
<ellipse cx="300.7" cy="599.7" rx="6.3" ry="5.9" fill="#7c8090" opacity="0.32" filter="url(#sh)"/>
<ellipse cx="302.7" cy="606.32" rx="3.96" ry="4.62" fill="#d6b08c" opacity="0.42" filter="url(#sh)"/>
<ellipse cx="316.8" cy="599.0" rx="5.3" ry="6.9" fill="#7c8090" opacity="0.32" filter="url(#sh)"/>
<ellipse cx="318.8" cy="606.46" rx="3.2399999999999998" ry="5.46" fill="#d6b08c" opacity="0.42" filter="url(#sh)"/>
<ellipse cx="332.7" cy="600.3" rx="6.3" ry="5.4" fill="#7c8090" opacity="0.32" filter="url(#sh)"/>
<ellipse cx="334.7" cy="606.5" rx="3.96" ry="4.2" fill="#d6b08c" opacity="0.42" filter="url(#sh)"/>
<ellipse cx="350.3" cy="600.8" rx="5.8" ry="5.9" fill="#7c8090" opacity="0.32" filter="url(#sh)"/>
<ellipse cx="352.3" cy="607.42" rx="3.5999999999999996" ry="4.62" fill="#d6b08c" opacity="0.42" filter="url(#sh)"/>
<ellipse cx="365.8" cy="598.2" rx="4.8" ry="4.9" fill="#7c8090" opacity="0.32" filter="url(#sh)"/>
<ellipse cx="367.8" cy="603.98" rx="2.88" ry="3.78" fill="#d6b08c" opacity="0.42" filter="url(#sh)"/>
<ellipse cx="379.0" cy="599.3" rx="6.3" ry="4.9" fill="#7c8090" opacity="0.32" filter="url(#sh)"/>
<ellipse cx="381" cy="605.0799999999999" rx="3.96" ry="3.78" fill="#d6b08c" opacity="0.42" filter="url(#sh)"/>
<ellipse cx="395.6" cy="600.0" rx="5.3" ry="4.4" fill="#7c8090" opacity="0.32" filter="url(#sh)"/>
<ellipse cx="397.6" cy="605.36" rx="3.2399999999999998" ry="3.36" fill="#d6b08c" opacity="0.42" filter="url(#sh)"/>
<ellipse cx="110.3" cy="656.8" rx="8.3" ry="10.9" fill="#7c8090" opacity="0.32" filter="url(#sh)"/>
<ellipse cx="112.3" cy="667.62" rx="5.3999999999999995" ry="8.82" fill="#c8a070" opacity="0.42" filter="url(#sh)"/>
<ellipse cx="126.5" cy="658.4" rx="8.8" ry="9.9" fill="#7c8090" opacity="0.32" filter="url(#sh)"/>
<ellipse cx="128.5" cy="668.38" rx="5.76" ry="7.9799999999999995" fill="#c8a070" opacity="0.42" filter="url(#sh)"/>
<ellipse cx="146.0" cy="658.4" rx="8.3" ry="11.4" fill="#7c8090" opacity="0.32" filter="url(#sh)"/>
<ellipse cx="148" cy="669.64" rx="5.3999999999999995" ry="9.24" fill="#c8a070" opacity="0.42" filter="url(#sh)"/>
<ellipse cx="161.0" cy="655.7" rx="8.3" ry="10.9" fill="#7c8090" opacity="0.32" filter="url(#sh)"/>
<ellipse cx="163" cy="666.5200000000001" rx="5.3999999999999995" ry="8.82" fill="#c8a070" opacity="0.42" filter="url(#sh)"/>
<ellipse cx="178.4" cy="655.7" rx="7.3" ry="10.4" fill="#7c8090" opacity="0.32" filter="url(#sh)"/>
<ellipse cx="180.4" cy="666.1" rx="4.68" ry="8.4" fill="#c8a070" opacity="0.42" filter="url(#sh)"/>
<ellipse cx="197.6" cy="656.8" rx="7.3" ry="13.9" fill="#7c8090" opacity="0.32" filter="url(#sh)"/>
<ellipse cx="199.6" cy="670.14" rx="4.68" ry="11.34" fill="#c8a070" opacity="0.42" filter="url(#sh)"/>
<ellipse cx="220.0" cy="659.5" rx="7.3" ry="11.9" fill="#7c8090" opacity="0.32" filter="url(#sh)"/>
<ellipse cx="222" cy="671.16" rx="4.68" ry="9.66" fill="#c8a070" opacity="0.42" filter="url(#sh)"/>
<ellipse cx="239.5" cy="658.0" rx="6.8" ry="7.4" fill="#7c8090" opacity="0.32" filter="url(#sh)"/>
<ellipse cx="241.5" cy="665.88" rx="4.32" ry="5.88" fill="#c8a070" opacity="0.42" filter="url(#sh)"/>
<ellipse cx="278.4" cy="655.7" rx="8.3" ry="6.4" fill="#7c8090" opacity="0.32" filter="url(#sh)"/>
<ellipse cx="280.4" cy="662.74" rx="5.3999999999999995" ry="5.04" fill="#c8a070" opacity="0.42" filter="url(#sh)"/>
<ellipse cx="297.6" cy="658.0" rx="7.8" ry="7.4" fill="#7c8090" opacity="0.32" filter="url(#sh)"/>
<ellipse cx="299.6" cy="665.88" rx="5.04" ry="5.88" fill="#c8a070" opacity="0.42" filter="url(#sh)"/>
<ellipse cx="315.0" cy="654.2" rx="6.8" ry="8.9" fill="#7c8090" opacity="0.32" filter="url(#sh)"/>
<ellipse cx="317" cy="663.34" rx="4.32" ry="7.14" fill="#c8a070" opacity="0.42" filter="url(#sh)"/>
<ellipse cx="335.2" cy="655.3" rx="8.3" ry="12.9" fill="#7c8090" opacity="0.32" filter="url(#sh)"/>
<ellipse cx="337.2" cy="667.8" rx="5.3999999999999995" ry="10.5" fill="#c8a070" opacity="0.42" filter="url(#sh)"/>
<ellipse cx="350.3" cy="655.0" rx="6.8" ry="12.9" fill="#7c8090" opacity="0.32" filter="url(#sh)"/>
<ellipse cx="352.3" cy="667.5" rx="4.32" ry="10.5" fill="#c8a070" opacity="0.42" filter="url(#sh)"/>
<ellipse cx="367.0" cy="656.0" rx="6.3" ry="12.9" fill="#7c8090" opacity="0.32" filter="url(#sh)"/>
<ellipse cx="369" cy="668.5" rx="3.96" ry="10.5" fill="#c8a070" opacity="0.42" filter="url(#sh)"/>
<ellipse cx="383.5" cy="656.6" rx="9.8" ry="7.9" fill="#7c8090" opacity="0.32" filter="url(#sh)"/>
<ellipse cx="385.5" cy="664.9" rx="6.4799999999999995" ry="6.3" fill="#c8a070" opacity="0.42" filter="url(#sh)"/>
<ellipse cx="398.5" cy="655.0" rx="6.8" ry="8.4" fill="#7c8090" opacity="0.32" filter="url(#sh)"/>
<ellipse cx="400.5" cy="663.72" rx="4.32" ry="6.72" fill="#c8a070" opacity="0.42" filter="url(#sh)"/>
<ellipse cx="107.6" cy="697.2" rx="8.3" ry="7.9" fill="#7c8090" opacity="0.32" filter="url(#sh)"/>
<ellipse cx="109.6" cy="705.5" rx="5.3999999999999995" ry="6.3" fill="#c8a070" opacity="0.42" filter="url(#sh)"/>
<ellipse cx="128.0" cy="696.8" rx="6.8" ry="9.4" fill="#7c8090" opacity="0.32" filter="url(#sh)"/>
<ellipse cx="130" cy="706.3599999999999" rx="4.32" ry="7.56" fill="#c8a070" opacity="0.42" filter="url(#sh)"/>
<ellipse cx="145.7" cy="695.7" rx="8.3" ry="7.4" fill="#7c8090" opacity="0.32" filter="url(#sh)"/>
<ellipse cx="147.7" cy="703.58" rx="5.3999999999999995" ry="5.88" fill="#c8a070" opacity="0.42" filter="url(#sh)"/>
<ellipse cx="165.3" cy="696.0" rx="6.8" ry="8.4" fill="#7c8090" opacity="0.32" filter="url(#sh)"/>
<ellipse cx="167.3" cy="704.72" rx="4.32" ry="6.72" fill="#c8a070" opacity="0.42" filter="url(#sh)"/>
<ellipse cx="181.8" cy="695.0" rx="8.3" ry="5.9" fill="#7c8090" opacity="0.32" filter="url(#sh)"/>
<ellipse cx="183.8" cy="701.62" rx="5.3999999999999995" ry="4.62" fill="#c8a070" opacity="0.42" filter="url(#sh)"/>
<ellipse cx="201.5" cy="694.0" rx="8.8" ry="5.9" fill="#7c8090" opacity="0.32" filter="url(#sh)"/>
<ellipse cx="203.5" cy="700.62" rx="5.76" ry="4.62" fill="#c8a070" opacity="0.42" filter="url(#sh)"/>
<ellipse cx="221.0" cy="692.0" rx="6.3" ry="9.4" fill="#7c8090" opacity="0.32" filter="url(#sh)"/>
<ellipse cx="223" cy="701.56" rx="3.96" ry="7.56" fill="#c8a070" opacity="0.42" filter="url(#sh)"/>
<ellipse cx="238.8" cy="693.5" rx="7.8" ry="7.4" fill="#7c8090" opacity="0.32" filter="url(#sh)"/>
<ellipse cx="240.8" cy="701.38" rx="5.04" ry="5.88" fill="#c8a070" opacity="0.42" filter="url(#sh)"/>
<ellipse cx="276.3" cy="692.3" rx="6.3" ry="7.4" fill="#7c8090" opacity="0.32" filter="url(#sh)"/>
<ellipse cx="278.3" cy="700.18" rx="3.96" ry="5.88" fill="#c8a070" opacity="0.42" filter="url(#sh)"/>
<ellipse cx="297.0" cy="693.0" rx="6.3" ry="7.4" fill="#7c8090" opacity="0.32" filter="url(#sh)"/>
<ellipse cx="299" cy="700.88" rx="3.96" ry="5.88" fill="#c8a070" opacity="0.42" filter="url(#sh)"/>
<ellipse cx="318.0" cy="694.7" rx="6.8" ry="6.9" fill="#7c8090" opacity="0.32" filter="url(#sh)"/>
<ellipse cx="320" cy="702.1600000000001" rx="4.32" ry="5.46" fill="#c8a070" opacity="0.42" filter="url(#sh)"/>
<ellipse cx="333.0" cy="694.4" rx="6.8" ry="6.9" fill="#7c8090" opacity="0.32" filter="url(#sh)"/>
<ellipse cx="335" cy="701.86" rx="4.32" ry="5.46" fill="#c8a070" opacity="0.42" filter="url(#sh)"/>
<ellipse cx="352.5" cy="692.5" rx="8.8" ry="6.9" fill="#7c8090" opacity="0.32" filter="url(#sh)"/>
<ellipse cx="354.5" cy="699.96" rx="5.76" ry="5.46" fill="#c8a070" opacity="0.42" filter="url(#sh)"/>
<ellipse cx="368.2" cy="691.8" rx="6.8" ry="6.9" fill="#7c8090" opacity="0.32" filter="url(#sh)"/>
<ellipse cx="370.2" cy="699.26" rx="4.32" ry="5.46" fill="#c8a070" opacity="0.42" filter="url(#sh)"/>
<ellipse cx="382.8" cy="693.0" rx="5.8" ry="5.9" fill="#7c8090" opacity="0.32" filter="url(#sh)"/>
<ellipse cx="384.8" cy="699.62" rx="3.5999999999999996" ry="4.62" fill="#c8a070" opacity="0.42" filter="url(#sh)"/>
<ellipse cx="398.2" cy="692.2" rx="5.3" ry="4.9" fill="#7c8090" opacity="0.32" filter="url(#sh)"/>
<ellipse cx="400.2" cy="697.98" rx="3.2399999999999998" ry="3.78" fill="#c8a070" opacity="0.42" filter="url(#sh)"/>
<path d="M133.8,560.1 C133.9,561.5 133.5,563.0 132.9,564.2 C132.3,565.4 131.4,566.4 130.5,567.3 C129.5,568.2 128.4,569.0 127.2,569.4 C126.1,569.8 124.7,569.9 123.4,569.7 C122.2,569.6 121.0,569.0 119.8,568.3 C118.6,567.7 117.2,566.9 116.4,565.8 C115.6,564.7 114.9,562.9 115.0,561.5 C115.1,560.2 116.3,558.8 117.0,557.6 C117.8,556.5 118.5,555.7 119.3,554.7 C120.1,553.8 120.9,552.4 122.1,551.9 C123.2,551.4 124.7,551.3 126.0,551.5 C127.3,551.7 128.6,552.4 129.7,553.1 C130.8,553.9 132.0,554.9 132.7,556.0 C133.3,557.2 133.8,558.8 133.8,560.1Z" fill="url(#gPink)" filter="url(#tb)"/>
<ellipse cx="122.9" cy="558.6" rx="3.9" ry="3.3" fill="#fff4e8" opacity="0.22" filter="url(#tb)"/>
<ellipse cx="124.0" cy="555.8" rx="1.4" ry="2.3" fill="#a04838" opacity="0.35" filter="url(#tb)"/>
<ellipse cx="120.5" cy="557.6" rx="2.9" ry="3.9" fill="#a04838" opacity="0.35" filter="url(#tb)"/>
<ellipse cx="125.6" cy="555.6" rx="1.8" ry="2.7" fill="#b86450" opacity="0.35" filter="url(#tb)"/>
<ellipse cx="122.4" cy="556.7" rx="1.5" ry="2.0" fill="#b86450" opacity="0.35" filter="url(#tb)"/>
<path d="M148.7,555.9 C148.8,556.9 148.4,558.0 148.1,559.0 C147.8,560.0 147.4,560.8 146.9,561.8 C146.4,562.8 145.9,564.4 145.1,565.0 C144.2,565.6 142.6,565.8 141.5,565.5 C140.5,565.1 139.6,563.7 138.8,563.0 C138.1,562.2 137.4,561.6 136.8,560.8 C136.2,560.0 135.6,559.1 135.4,558.1 C135.1,557.1 135.1,556.0 135.2,554.9 C135.3,553.7 135.5,552.3 136.1,551.4 C136.7,550.5 138.0,549.9 139.0,549.6 C140.0,549.3 141.2,549.7 142.2,549.8 C143.2,550.0 144.3,550.2 145.2,550.6 C146.1,551.1 147.0,551.8 147.6,552.7 C148.2,553.6 148.7,554.8 148.7,555.9Z" fill="url(#gPink)" filter="url(#tb)"/>
<ellipse cx="140.5" cy="555.2" rx="3.1" ry="2.7" fill="#fff4e8" opacity="0.22" filter="url(#tb)"/>
<ellipse cx="144.3" cy="556.7" rx="3.0" ry="1.8" fill="#b86450" opacity="0.35" filter="url(#tb)"/>
<ellipse cx="144.5" cy="558.9" rx="1.7" ry="2.3" fill="#a04838" opacity="0.35" filter="url(#tb)"/>
<ellipse cx="141.9" cy="555.5" rx="2.1" ry="2.4" fill="#a85040" opacity="0.35" filter="url(#tb)"/>
<ellipse cx="138.6" cy="556.2" rx="2.6" ry="1.4" fill="#f0d8c0" opacity="0.5" filter="url(#tb)"/>
<path d="M166.6,559.3 C166.7,560.5 166.3,561.9 165.7,562.9 C165.0,563.8 163.6,564.4 162.6,565.0 C161.6,565.5 160.6,565.9 159.5,566.2 C158.5,566.5 157.3,566.8 156.2,566.7 C155.1,566.6 153.9,566.2 152.9,565.6 C151.9,565.1 151.0,564.1 150.5,563.2 C149.9,562.2 149.8,561.0 149.7,559.9 C149.6,558.7 149.4,557.4 149.8,556.3 C150.1,555.2 151.0,553.9 152.0,553.3 C153.0,552.8 154.7,553.1 155.9,553.1 C157.1,553.1 157.9,553.2 159.0,553.3 C160.1,553.4 161.4,553.2 162.4,553.7 C163.4,554.1 164.4,555.0 165.1,556.0 C165.8,556.9 166.5,558.2 166.6,559.3Z" fill="url(#gPink)" filter="url(#tb)"/>
<ellipse cx="156.1" cy="557.8" rx="3.5" ry="2.7" fill="#fff4e8" opacity="0.22" filter="url(#tb)"/>
<ellipse cx="160.7" cy="555.6" rx="1.4" ry="1.6" fill="#a85040" opacity="0.35" filter="url(#tb)"/>
<ellipse cx="153.3" cy="561.5" rx="2.7" ry="3.3" fill="#f0d8c0" opacity="0.5" filter="url(#tb)"/>
<ellipse cx="155.5" cy="558.5" rx="2.8" ry="1.1" fill="#f0d8c0" opacity="0.5" filter="url(#tb)"/>
<ellipse cx="156.3" cy="560.6" rx="2.4" ry="1.5" fill="#f2dcc8" opacity="0.5" filter="url(#tb)"/>
<path d="M179.5,557.9 C179.6,558.8 179.0,559.7 178.7,560.5 C178.4,561.4 178.1,562.1 177.7,562.9 C177.2,563.7 176.7,564.7 175.9,565.2 C175.2,565.6 174.0,565.7 173.1,565.6 C172.3,565.4 171.3,564.9 170.6,564.4 C169.9,563.9 169.3,563.1 168.7,562.3 C168.1,561.6 167.4,560.7 167.2,559.8 C167.0,558.8 166.9,557.5 167.3,556.7 C167.7,555.9 169.0,555.6 169.7,555.0 C170.4,554.5 170.8,554.1 171.5,553.5 C172.2,552.9 173.0,551.7 173.9,551.6 C174.7,551.5 175.9,552.1 176.7,552.7 C177.4,553.3 178.1,554.2 178.5,555.1 C179.0,555.9 179.5,556.9 179.5,557.9Z" fill="url(#gPink)" filter="url(#tb)"/>
<ellipse cx="172.3" cy="557.2" rx="2.6" ry="2.3" fill="#fff4e8" opacity="0.22" filter="url(#tb)"/>
<ellipse cx="176.2" cy="557.0" rx="1.8" ry="1.7" fill="#f0d8c0" opacity="0.5" filter="url(#tb)"/>
<ellipse cx="176.9" cy="556.0" rx="1.5" ry="1.4" fill="#b86450" opacity="0.35" filter="url(#tb)"/>
<ellipse cx="169.8" cy="561.5" rx="1.5" ry="1.5" fill="#b86450" opacity="0.35" filter="url(#tb)"/>
<ellipse cx="172.9" cy="557.7" rx="2.0" ry="2.8" fill="#a04838" opacity="0.35" filter="url(#tb)"/>
<path d="M196.4,557.3 C196.4,558.5 196.6,560.2 196.2,561.4 C195.7,562.6 194.5,564.0 193.4,564.5 C192.4,565.1 190.8,565.0 189.7,564.7 C188.6,564.5 187.7,563.7 186.7,563.1 C185.7,562.6 184.6,562.3 183.9,561.5 C183.1,560.8 182.2,559.5 182.1,558.4 C182.0,557.3 182.7,555.9 183.0,554.7 C183.3,553.6 183.5,552.5 184.0,551.4 C184.4,550.2 185.0,548.5 185.9,547.8 C186.8,547.0 188.3,546.7 189.5,546.7 C190.7,546.7 192.0,547.1 193.0,547.8 C193.9,548.4 194.7,549.6 195.1,550.6 C195.6,551.7 195.4,553.0 195.6,554.1 C195.8,555.2 196.3,556.1 196.4,557.3Z" fill="url(#gRed)" filter="url(#tb)"/>
<ellipse cx="188.1" cy="554.0" rx="3.3" ry="3.1" fill="#fff4e8" opacity="0.22" filter="url(#tb)"/>
<ellipse cx="188.6" cy="555.8" rx="2.1" ry="1.5" fill="#b86450" opacity="0.35" filter="url(#tb)"/>
<ellipse cx="189.0" cy="551.9" rx="2.5" ry="1.3" fill="#a04838" opacity="0.35" filter="url(#tb)"/>
<ellipse cx="186.3" cy="551.8" rx="2.0" ry="1.1" fill="#b86450" opacity="0.35" filter="url(#tb)"/>
<ellipse cx="190.7" cy="552.3" rx="1.7" ry="2.0" fill="#f2dcc8" opacity="0.5" filter="url(#tb)"/>
<path d="M212.1,561.4 C212.1,562.5 211.8,563.7 211.3,564.7 C210.9,565.6 210.0,566.4 209.2,567.1 C208.4,567.7 207.5,568.3 206.6,568.6 C205.6,568.9 204.4,569.2 203.5,569.0 C202.5,568.7 201.8,567.8 200.9,567.1 C200.1,566.4 199.3,565.8 198.6,564.9 C198.0,564.0 196.9,562.7 196.9,561.6 C196.9,560.5 198.0,559.2 198.7,558.4 C199.4,557.5 200.4,557.1 201.2,556.5 C201.9,555.8 202.5,554.8 203.4,554.4 C204.3,554.0 205.5,553.9 206.5,554.1 C207.5,554.3 208.6,554.8 209.4,555.4 C210.3,556.1 211.1,557.0 211.6,558.0 C212.0,559.0 212.2,560.3 212.1,561.4Z" fill="url(#gPink)" filter="url(#tb)"/>
<ellipse cx="203.6" cy="559.7" rx="3.1" ry="2.7" fill="#fff4e8" opacity="0.22" filter="url(#tb)"/>
<ellipse cx="204.8" cy="563.3" rx="2.2" ry="1.5" fill="#a04838" opacity="0.35" filter="url(#tb)"/>
<ellipse cx="203.8" cy="563.3" rx="2.9" ry="2.8" fill="#f2dcc8" opacity="0.5" filter="url(#tb)"/>
<ellipse cx="209.2" cy="564.9" rx="2.5" ry="1.6" fill="#f2dcc8" opacity="0.5" filter="url(#tb)"/>
<ellipse cx="208.6" cy="560.1" rx="1.6" ry="2.3" fill="#a04838" opacity="0.35" filter="url(#tb)"/>
<path d="M229.1,561.7 C229.2,562.8 228.6,564.3 228.0,565.1 C227.3,566.0 226.0,566.4 225.2,567.0 C224.3,567.6 223.7,568.4 222.8,568.8 C221.9,569.3 220.7,569.8 219.6,569.8 C218.5,569.8 217.2,569.6 216.2,569.0 C215.1,568.5 213.8,567.6 213.3,566.6 C212.8,565.6 212.9,563.9 213.2,562.8 C213.4,561.7 214.4,560.9 214.9,560.0 C215.4,559.1 215.7,558.3 216.3,557.5 C216.9,556.6 217.6,555.4 218.5,554.8 C219.5,554.3 221.0,553.9 222.1,554.1 C223.1,554.3 224.1,555.4 225.0,556.2 C225.8,557.0 226.4,557.8 227.1,558.7 C227.8,559.6 228.9,560.6 229.1,561.7Z" fill="url(#gPink)" filter="url(#tb)"/>
<ellipse cx="219.3" cy="560.5" rx="3.3" ry="2.7" fill="#fff4e8" opacity="0.22" filter="url(#tb)"/>
<ellipse cx="221.0" cy="560.9" rx="1.3" ry="1.1" fill="#f2dcc8" opacity="0.5" filter="url(#tb)"/>
<ellipse cx="220.5" cy="559.4" rx="2.5" ry="1.8" fill="#f2dcc8" opacity="0.5" filter="url(#tb)"/>
<ellipse cx="225.1" cy="561.0" rx="1.7" ry="1.5" fill="#b86450" opacity="0.35" filter="url(#tb)"/>
<ellipse cx="219.3" cy="562.1" rx="3.3" ry="2.4" fill="#a85040" opacity="0.35" filter="url(#tb)"/>
<path d="M243.3,562.2 C243.6,563.2 243.6,564.6 243.3,565.6 C243.0,566.6 242.0,567.4 241.3,568.0 C240.5,568.7 239.6,569.2 238.8,569.4 C237.9,569.6 236.8,569.5 236.0,569.1 C235.2,568.8 234.6,568.0 233.9,567.4 C233.2,566.8 232.3,566.2 231.9,565.4 C231.5,564.6 231.3,563.3 231.4,562.4 C231.5,561.4 232.2,560.6 232.5,559.7 C232.8,558.7 232.7,557.4 233.3,556.5 C233.8,555.6 234.7,554.3 235.6,554.1 C236.5,553.8 237.8,554.5 238.6,555.1 C239.4,555.7 239.9,556.8 240.5,557.6 C241.0,558.4 241.3,558.9 241.8,559.7 C242.3,560.5 243.1,561.3 243.3,562.2Z" fill="url(#gRed)" filter="url(#tb)"/>
<ellipse cx="236.1" cy="560.6" rx="2.6" ry="2.5" fill="#fff4e8" opacity="0.22" filter="url(#tb)"/>
<ellipse cx="234.9" cy="564.8" rx="1.7" ry="2.7" fill="#f0d8c0" opacity="0.5" filter="url(#tb)"/>
<ellipse cx="237.0" cy="564.4" rx="1.3" ry="1.3" fill="#b86450" opacity="0.35" filter="url(#tb)"/>
<ellipse cx="233.8" cy="563.1" rx="1.9" ry="2.4" fill="#a04838" opacity="0.35" filter="url(#tb)"/>
<ellipse cx="239.7" cy="566.5" rx="2.2" ry="1.7" fill="#a04838" opacity="0.35" filter="url(#tb)"/>
<path d="M289.7,565.2 C289.9,566.5 289.6,568.3 288.9,569.3 C288.2,570.4 286.6,571.1 285.4,571.5 C284.2,572.0 283.0,571.8 281.8,572.0 C280.7,572.2 279.7,572.7 278.5,572.7 C277.3,572.7 275.6,572.6 274.6,572.0 C273.6,571.3 272.9,569.9 272.4,568.7 C271.9,567.5 271.5,566.1 271.5,564.8 C271.5,563.5 271.5,561.9 272.2,560.9 C272.9,559.8 274.4,559.2 275.5,558.6 C276.6,558.1 277.7,557.8 278.9,557.5 C280.0,557.2 281.3,556.5 282.5,556.7 C283.6,556.8 284.9,557.7 285.8,558.6 C286.7,559.4 287.2,560.5 287.9,561.6 C288.6,562.7 289.6,563.9 289.7,565.2Z" fill="url(#gRed)" filter="url(#tb)"/>
<ellipse cx="278.7" cy="563.0" rx="3.7" ry="3.1" fill="#fff4e8" opacity="0.22" filter="url(#tb)"/>
<ellipse cx="284.4" cy="560.0" rx="1.7" ry="2.4" fill="#a04838" opacity="0.35" filter="url(#tb)"/>
<ellipse cx="278.6" cy="565.5" rx="3.4" ry="1.2" fill="#f2dcc8" opacity="0.5" filter="url(#tb)"/>
<ellipse cx="284.6" cy="566.7" rx="3.3" ry="2.4" fill="#a04838" opacity="0.35" filter="url(#tb)"/>
<ellipse cx="276.5" cy="561.3" rx="2.5" ry="3.4" fill="#b86450" opacity="0.35" filter="url(#tb)"/>
<path d="M310.3,563.1 C310.2,564.3 309.6,565.5 309.0,566.5 C308.3,567.5 307.4,568.3 306.4,569.1 C305.4,569.8 304.3,570.8 303.1,571.0 C301.9,571.3 300.3,571.1 299.2,570.6 C298.1,570.1 297.3,568.9 296.5,568.1 C295.6,567.3 294.5,566.7 293.9,565.7 C293.3,564.8 292.7,563.4 292.7,562.3 C292.7,561.2 293.5,560.0 294.1,558.9 C294.7,557.8 295.2,556.5 296.1,555.8 C297.1,555.0 298.6,554.4 299.9,554.4 C301.1,554.4 302.4,555.3 303.5,555.7 C304.7,556.2 305.7,556.5 306.7,557.1 C307.7,557.7 309.0,558.5 309.6,559.5 C310.2,560.5 310.4,561.9 310.3,563.1Z" fill="url(#gPink)" filter="url(#tb)"/>
<ellipse cx="299.8" cy="560.8" rx="3.7" ry="2.9" fill="#fff4e8" opacity="0.22" filter="url(#tb)"/>
<ellipse cx="301.3" cy="565.5" rx="3.5" ry="1.1" fill="#b86450" opacity="0.35" filter="url(#tb)"/>
<ellipse cx="299.1" cy="565.4" rx="2.5" ry="2.4" fill="#a85040" opacity="0.35" filter="url(#tb)"/>
<ellipse cx="300.9" cy="563.8" rx="2.5" ry="2.3" fill="#f2dcc8" opacity="0.5" filter="url(#tb)"/>
<ellipse cx="301.0" cy="563.0" rx="2.4" ry="3.4" fill="#a04838" opacity="0.35" filter="url(#tb)"/>
<path d="M329.5,564.3 C329.3,565.5 328.6,566.9 327.9,567.9 C327.1,568.9 326.1,569.7 325.1,570.3 C324.1,570.9 322.9,571.2 321.8,571.2 C320.8,571.2 319.7,570.7 318.8,570.3 C317.8,569.8 316.9,569.3 316.1,568.5 C315.3,567.8 314.6,566.7 314.2,565.6 C313.8,564.5 313.7,563.1 313.8,561.8 C313.9,560.5 313.9,558.7 314.6,557.7 C315.2,556.6 316.6,555.6 317.7,555.3 C318.8,555.0 320.1,555.6 321.2,555.7 C322.3,555.8 323.1,555.7 324.1,555.9 C325.1,556.2 326.3,556.5 327.1,557.2 C328.0,557.9 328.7,559.1 329.0,560.3 C329.4,561.5 329.7,563.0 329.5,564.3Z" fill="url(#gPink)" filter="url(#tb)"/>
<ellipse cx="320.0" cy="561.0" rx="3.3" ry="3.1" fill="#fff4e8" opacity="0.22" filter="url(#tb)"/>
<ellipse cx="317.5" cy="560.2" rx="1.4" ry="2.9" fill="#a85040" opacity="0.35" filter="url(#tb)"/>
<ellipse cx="325.2" cy="559.3" rx="2.7" ry="2.8" fill="#b86450" opacity="0.35" filter="url(#tb)"/>
<ellipse cx="319.2" cy="559.1" rx="2.2" ry="3.1" fill="#a85040" opacity="0.35" filter="url(#tb)"/>
<ellipse cx="320.5" cy="562.9" rx="3.3" ry="3.3" fill="#b86450" opacity="0.35" filter="url(#tb)"/>
<path d="M345.0,564.6 C344.7,565.7 344.6,566.7 344.1,567.7 C343.7,568.7 343.2,570.1 342.4,570.7 C341.5,571.3 340.0,571.4 338.9,571.4 C337.8,571.4 336.8,571.1 335.7,570.7 C334.7,570.4 333.7,569.9 332.9,569.3 C332.1,568.6 331.4,567.6 330.9,566.7 C330.4,565.7 329.9,564.4 329.9,563.3 C329.9,562.2 330.4,560.8 331.0,559.9 C331.7,559.0 332.9,558.4 333.8,557.9 C334.8,557.4 335.9,557.2 336.9,557.1 C338.0,557.0 339.0,557.1 340.0,557.3 C341.1,557.5 342.4,557.7 343.3,558.3 C344.2,558.9 345.3,560.1 345.5,561.1 C345.8,562.2 345.2,563.5 345.0,564.6Z" fill="url(#gPink)" filter="url(#tb)"/>
<ellipse cx="336.4" cy="562.2" rx="3.3" ry="2.7" fill="#fff4e8" opacity="0.22" filter="url(#tb)"/>
<ellipse cx="339.8" cy="562.9" rx="2.3" ry="1.7" fill="#a85040" opacity="0.35" filter="url(#tb)"/>
<ellipse cx="334.3" cy="567.9" rx="1.7" ry="3.0" fill="#a85040" opacity="0.35" filter="url(#tb)"/>
<ellipse cx="335.7" cy="559.7" rx="2.9" ry="1.6" fill="#b86450" opacity="0.35" filter="url(#tb)"/>
<ellipse cx="340.9" cy="567.3" rx="2.6" ry="3.2" fill="#f0d8c0" opacity="0.5" filter="url(#tb)"/>
<path d="M362.3,563.9 C362.6,564.8 363.0,565.9 362.8,566.9 C362.5,567.8 361.8,569.0 360.9,569.7 C360.0,570.3 358.5,570.6 357.3,570.8 C356.2,571.0 355.1,570.9 353.9,570.9 C352.8,570.8 351.7,570.9 350.7,570.5 C349.6,570.2 348.6,569.7 347.8,568.9 C347.1,568.2 346.4,567.2 346.2,566.3 C346.0,565.3 346.1,564.0 346.7,563.2 C347.2,562.3 348.5,561.7 349.5,561.0 C350.4,560.4 351.2,560.0 352.2,559.5 C353.2,559.0 354.5,558.1 355.6,558.0 C356.7,557.9 358.2,558.4 359.1,559.0 C359.9,559.6 360.4,560.6 360.9,561.4 C361.5,562.3 362.0,563.0 362.3,563.9Z" fill="url(#gPink)" filter="url(#tb)"/>
<ellipse cx="353.1" cy="563.4" rx="3.5" ry="2.3" fill="#fff4e8" opacity="0.22" filter="url(#tb)"/>
<ellipse cx="359.1" cy="566.1" rx="3.1" ry="1.2" fill="#b86450" opacity="0.35" filter="url(#tb)"/>
<ellipse cx="350.4" cy="567.9" rx="2.3" ry="1.6" fill="#a04838" opacity="0.35" filter="url(#tb)"/>
<ellipse cx="353.9" cy="568.4" rx="2.7" ry="1.1" fill="#b86450" opacity="0.35" filter="url(#tb)"/>
<ellipse cx="359.1" cy="568.8" rx="1.8" ry="1.3" fill="#f2dcc8" opacity="0.5" filter="url(#tb)"/>
<path d="M376.0,564.3 C375.8,565.4 375.6,566.2 375.2,567.2 C374.9,568.2 374.6,569.3 374.0,570.1 C373.3,570.9 372.4,571.7 371.5,571.9 C370.6,572.2 369.5,572.2 368.6,571.8 C367.8,571.4 366.9,570.6 366.4,569.7 C365.8,568.9 365.6,567.7 365.4,566.7 C365.2,565.7 365.3,564.8 365.2,563.7 C365.2,562.7 364.9,561.5 365.1,560.3 C365.3,559.2 365.8,557.6 366.6,557.1 C367.3,556.5 368.7,556.7 369.6,556.8 C370.5,556.9 371.2,557.3 372.1,557.5 C372.9,557.7 374.1,557.4 374.8,557.9 C375.6,558.5 376.3,559.8 376.5,560.8 C376.7,561.9 376.2,563.2 376.0,564.3Z" fill="url(#gPink)" filter="url(#tb)"/>
<ellipse cx="369.3" cy="562.2" rx="2.6" ry="2.7" fill="#fff4e8" opacity="0.22" filter="url(#tb)"/>
<ellipse cx="366.9" cy="564.1" rx="2.6" ry="2.2" fill="#b86450" opacity="0.35" filter="url(#tb)"/>
<ellipse cx="373.8" cy="560.3" rx="2.4" ry="2.0" fill="#f0d8c0" opacity="0.5" filter="url(#tb)"/>
<ellipse cx="370.8" cy="567.6" rx="2.6" ry="1.7" fill="#b86450" opacity="0.35" filter="url(#tb)"/>
<ellipse cx="374.1" cy="562.5" rx="2.4" ry="2.6" fill="#b86450" opacity="0.35" filter="url(#tb)"/>
<path d="M388.7,565.8 C388.5,567.0 387.8,568.0 387.4,569.0 C386.9,570.1 386.6,570.9 386.1,571.8 C385.5,572.7 385.0,573.9 384.2,574.5 C383.4,575.0 382.3,575.3 381.4,575.1 C380.5,574.9 379.4,574.3 378.7,573.4 C378.0,572.6 377.4,571.2 377.2,570.0 C376.9,568.8 377.0,567.4 377.0,566.2 C377.1,565.0 377.2,563.9 377.4,562.8 C377.7,561.7 378.0,560.5 378.6,559.6 C379.1,558.7 379.9,557.8 380.8,557.4 C381.6,557.0 382.7,557.0 383.5,557.3 C384.4,557.6 385.3,558.4 386.0,559.1 C386.8,559.9 387.6,560.8 388.1,561.9 C388.5,563.0 388.8,564.6 388.7,565.8Z" fill="url(#gPink)" filter="url(#tb)"/>
<ellipse cx="381.3" cy="564.0" rx="2.6" ry="3.1" fill="#fff4e8" opacity="0.22" filter="url(#tb)"/>
<ellipse cx="385.1" cy="569.9" rx="2.2" ry="1.8" fill="#b86450" opacity="0.35" filter="url(#tb)"/>
<ellipse cx="383.9" cy="561.2" rx="1.5" ry="1.7" fill="#a85040" opacity="0.35" filter="url(#tb)"/>
<ellipse cx="380.7" cy="570.9" rx="2.6" ry="2.5" fill="#b86450" opacity="0.35" filter="url(#tb)"/>
<ellipse cx="379.0" cy="570.1" rx="1.5" ry="1.5" fill="#f2dcc8" opacity="0.5" filter="url(#tb)"/>
<path d="M400.9,564.7 C400.9,565.7 401.0,566.5 400.8,567.4 C400.6,568.4 400.3,569.5 399.7,570.2 C399.1,570.8 398.1,571.4 397.2,571.6 C396.4,571.8 395.3,571.7 394.5,571.4 C393.6,571.2 392.9,570.5 392.2,570.0 C391.5,569.4 390.7,568.9 390.2,568.1 C389.7,567.3 389.2,566.2 389.2,565.3 C389.2,564.4 389.8,563.4 390.2,562.6 C390.6,561.7 391.1,561.0 391.7,560.3 C392.3,559.6 393.0,558.8 393.8,558.5 C394.6,558.2 395.7,558.3 396.5,558.4 C397.4,558.6 398.4,558.9 399.1,559.5 C399.9,560.1 400.5,561.0 400.8,561.9 C401.1,562.8 400.9,563.8 400.9,564.7Z" fill="url(#gPink)" filter="url(#tb)"/>
<ellipse cx="394.3" cy="563.4" rx="2.6" ry="2.3" fill="#fff4e8" opacity="0.22" filter="url(#tb)"/>
<ellipse cx="392.1" cy="561.1" rx="1.6" ry="1.4" fill="#a04838" opacity="0.35" filter="url(#tb)"/>
<ellipse cx="398.9" cy="567.9" rx="1.4" ry="2.7" fill="#a04838" opacity="0.35" filter="url(#tb)"/>
<ellipse cx="394.7" cy="563.6" rx="2.6" ry="1.3" fill="#a04838" opacity="0.35" filter="url(#tb)"/>
<ellipse cx="396.6" cy="561.3" rx="2.4" ry="2.7" fill="#f0d8c0" opacity="0.5" filter="url(#tb)"/>
<path d="M131.2,601.0 C131.1,602.0 131.1,603.2 130.6,604.0 C130.2,604.9 129.2,605.7 128.4,606.1 C127.5,606.5 126.5,606.5 125.5,606.6 C124.5,606.7 123.5,607.0 122.6,606.7 C121.7,606.4 120.8,605.7 120.3,605.0 C119.7,604.2 119.7,603.2 119.4,602.3 C119.1,601.5 118.7,600.8 118.5,599.8 C118.4,598.8 118.1,597.5 118.4,596.6 C118.7,595.6 119.6,594.3 120.5,593.9 C121.4,593.5 122.9,593.9 123.9,594.1 C124.9,594.4 125.5,595.2 126.3,595.5 C127.2,595.8 128.2,595.6 129.0,596.0 C129.8,596.4 130.8,597.2 131.1,598.0 C131.5,598.9 131.3,600.0 131.2,601.0Z" fill="url(#gPink)" filter="url(#tb)"/>
<ellipse cx="123.4" cy="598.8" rx="2.9" ry="2.3" fill="#fff4e8" opacity="0.22" filter="url(#tb)"/>
<ellipse cx="127.9" cy="601.9" rx="2.4" ry="1.4" fill="#a85040" opacity="0.35" filter="url(#tb)"/>
<ellipse cx="121.0" cy="601.5" rx="2.8" ry="1.7" fill="#f0d8c0" opacity="0.5" filter="url(#tb)"/>
<ellipse cx="125.2" cy="601.4" rx="2.3" ry="2.3" fill="#f0d8c0" opacity="0.5" filter="url(#tb)"/>
<ellipse cx="122.8" cy="600.1" rx="1.3" ry="2.8" fill="#a04838" opacity="0.35" filter="url(#tb)"/>
<path d="M146.8,600.1 C147.1,601.0 147.7,601.9 147.6,602.9 C147.6,603.8 147.1,605.0 146.3,605.8 C145.6,606.5 144.3,607.1 143.2,607.4 C142.1,607.7 141.0,607.7 139.8,607.7 C138.7,607.7 137.4,607.7 136.5,607.3 C135.5,606.9 134.5,606.0 134.1,605.2 C133.7,604.4 134.1,603.2 134.1,602.3 C134.0,601.4 133.9,600.7 133.9,599.7 C134.0,598.8 133.9,597.5 134.5,596.7 C135.1,595.8 136.4,595.2 137.5,594.7 C138.5,594.3 139.9,594.1 141.0,594.2 C142.1,594.3 143.5,594.6 144.3,595.1 C145.1,595.7 145.5,596.9 145.9,597.7 C146.3,598.5 146.5,599.2 146.8,600.1Z" fill="url(#gPink)" filter="url(#tb)"/>
<ellipse cx="138.9" cy="599.6" rx="3.3" ry="2.3" fill="#fff4e8" opacity="0.22" filter="url(#tb)"/>
<ellipse cx="141.8" cy="600.9" rx="3.0" ry="1.1" fill="#f2dcc8" opacity="0.5" filter="url(#tb)"/>
<ellipse cx="142.9" cy="602.2" rx="2.6" ry="1.1" fill="#b86450" opacity="0.35" filter="url(#tb)"/>
<ellipse cx="138.8" cy="602.4" rx="2.7" ry="2.2" fill="#b86450" opacity="0.35" filter="url(#tb)"/>
<ellipse cx="135.8" cy="597.6" rx="1.8" ry="2.3" fill="#b86450" opacity="0.35" filter="url(#tb)"/>
<path d="M161.5,601.6 C161.4,602.5 161.8,603.4 161.5,604.3 C161.3,605.2 160.9,606.5 160.2,607.1 C159.5,607.6 158.3,607.5 157.4,607.6 C156.5,607.6 155.6,607.5 154.8,607.2 C153.9,607.0 153.2,606.5 152.5,605.9 C151.8,605.3 151.1,604.6 150.7,603.7 C150.3,602.8 149.8,601.6 149.9,600.7 C150.1,599.8 150.9,598.8 151.5,598.1 C152.1,597.4 152.8,597.0 153.5,596.5 C154.2,595.9 154.9,595.3 155.7,595.0 C156.5,594.7 157.4,594.6 158.4,594.7 C159.3,594.9 160.5,595.1 161.2,595.7 C161.8,596.4 162.2,597.7 162.3,598.7 C162.3,599.7 161.6,600.6 161.5,601.6Z" fill="url(#gPink)" filter="url(#tb)"/>
<ellipse cx="155.3" cy="599.6" rx="2.6" ry="2.3" fill="#fff4e8" opacity="0.22" filter="url(#tb)"/>
<ellipse cx="159.8" cy="597.3" rx="1.9" ry="2.5" fill="#f0d8c0" opacity="0.5" filter="url(#tb)"/>
<ellipse cx="160.2" cy="600.3" rx="2.5" ry="2.8" fill="#a85040" opacity="0.35" filter="url(#tb)"/>
<ellipse cx="157.1" cy="598.3" rx="2.0" ry="2.8" fill="#b86450" opacity="0.35" filter="url(#tb)"/>
<ellipse cx="157.3" cy="602.3" rx="1.6" ry="1.2" fill="#f2dcc8" opacity="0.5" filter="url(#tb)"/>
<path d="M174.4,599.6 C174.6,600.7 174.3,602.0 174.0,603.0 C173.7,604.1 173.3,605.2 172.6,606.0 C172.0,606.8 171.0,607.7 170.1,607.9 C169.2,608.0 168.0,607.4 167.1,607.1 C166.3,606.8 165.6,606.3 164.8,605.9 C163.9,605.4 162.9,605.1 162.1,604.4 C161.4,603.6 160.6,602.3 160.4,601.2 C160.2,600.1 160.5,598.6 161.0,597.6 C161.5,596.6 162.5,595.9 163.2,595.3 C164.0,594.6 164.7,594.1 165.6,593.7 C166.4,593.4 167.4,592.9 168.3,593.0 C169.2,593.1 170.2,593.7 171.0,594.3 C171.8,594.9 172.5,595.7 173.1,596.6 C173.6,597.5 174.2,598.6 174.4,599.6Z" fill="url(#gRed)" filter="url(#tb)"/>
<ellipse cx="166.4" cy="598.6" rx="2.9" ry="2.7" fill="#fff4e8" opacity="0.22" filter="url(#tb)"/>
<ellipse cx="166.4" cy="598.7" rx="2.6" ry="1.0" fill="#f2dcc8" opacity="0.5" filter="url(#tb)"/>
<ellipse cx="170.5" cy="596.8" rx="2.8" ry="2.7" fill="#f2dcc8" opacity="0.5" filter="url(#tb)"/>
<ellipse cx="165.7" cy="596.3" rx="1.9" ry="3.0" fill="#a85040" opacity="0.35" filter="url(#tb)"/>
<ellipse cx="166.6" cy="599.7" rx="1.7" ry="1.1" fill="#a85040" opacity="0.35" filter="url(#tb)"/>
<path d="M192.7,599.1 C192.9,600.1 192.7,601.3 192.5,602.4 C192.4,603.5 192.2,604.8 191.6,605.8 C191.0,606.7 190.1,607.9 189.1,608.2 C188.1,608.4 186.7,607.5 185.6,607.2 C184.6,606.9 183.9,606.7 182.9,606.3 C182.0,605.9 180.6,605.7 180.0,605.0 C179.3,604.2 179.0,602.8 178.9,601.7 C178.8,600.6 179.0,599.5 179.3,598.5 C179.5,597.4 179.8,596.3 180.3,595.4 C180.9,594.5 181.7,593.5 182.7,593.0 C183.6,592.5 185.0,592.2 186.0,592.4 C187.0,592.6 187.9,593.6 188.8,594.3 C189.6,595.0 190.2,595.7 190.8,596.5 C191.5,597.3 192.4,598.1 192.7,599.1Z" fill="url(#gRed)" filter="url(#tb)"/>
<ellipse cx="184.4" cy="598.6" rx="3.1" ry="2.7" fill="#fff4e8" opacity="0.22" filter="url(#tb)"/>
<ellipse cx="185.2" cy="596.0" rx="2.7" ry="1.9" fill="#a04838" opacity="0.35" filter="url(#tb)"/>
<ellipse cx="186.2" cy="602.5" rx="1.3" ry="2.7" fill="#f0d8c0" opacity="0.5" filter="url(#tb)"/>
<ellipse cx="186.8" cy="597.0" rx="2.9" ry="2.1" fill="#a04838" opacity="0.35" filter="url(#tb)"/>
<ellipse cx="182.5" cy="600.1" rx="1.9" ry="1.7" fill="#f2dcc8" opacity="0.5" filter="url(#tb)"/>
<path d="M208.8,599.8 C208.7,601.1 208.5,602.3 208.2,603.5 C207.9,604.6 207.6,605.9 207.0,606.7 C206.5,607.5 205.7,608.1 204.9,608.4 C204.2,608.7 203.4,608.8 202.5,608.7 C201.7,608.6 200.6,608.6 199.9,607.9 C199.3,607.1 198.8,605.5 198.4,604.2 C198.1,603.0 198.0,601.6 197.9,600.2 C197.9,598.9 197.8,597.2 198.2,596.2 C198.5,595.1 199.5,594.6 200.1,593.9 C200.8,593.3 201.3,592.9 202.0,592.3 C202.7,591.7 203.5,590.4 204.4,590.4 C205.2,590.3 206.2,591.2 206.9,592.1 C207.6,593.0 208.0,594.5 208.3,595.8 C208.7,597.1 208.8,598.5 208.8,599.8Z" fill="url(#gPink)" filter="url(#tb)"/>
<ellipse cx="202.3" cy="597.8" rx="2.4" ry="3.2" fill="#fff4e8" opacity="0.22" filter="url(#tb)"/>
<ellipse cx="203.7" cy="599.5" rx="1.6" ry="3.3" fill="#f0d8c0" opacity="0.5" filter="url(#tb)"/>
<ellipse cx="200.9" cy="596.5" rx="1.3" ry="2.0" fill="#a85040" opacity="0.35" filter="url(#tb)"/>
<ellipse cx="202.2" cy="598.5" rx="2.2" ry="1.6" fill="#a85040" opacity="0.35" filter="url(#tb)"/>
<ellipse cx="205.1" cy="599.0" rx="1.7" ry="2.6" fill="#f0d8c0" opacity="0.5" filter="url(#tb)"/>
<path d="M225.2,599.1 C225.4,600.0 226.1,601.0 226.1,602.1 C226.0,603.1 225.7,604.6 225.1,605.2 C224.4,605.9 222.9,605.7 221.9,605.8 C221.0,605.8 220.2,605.7 219.3,605.5 C218.5,605.4 217.6,605.2 217.0,604.7 C216.3,604.2 215.9,603.4 215.4,602.6 C214.8,601.9 214.0,601.1 213.8,600.2 C213.5,599.3 213.4,597.9 213.7,597.0 C214.0,596.1 215.0,595.4 215.7,594.8 C216.5,594.2 217.3,593.8 218.1,593.6 C218.9,593.3 219.8,593.2 220.7,593.2 C221.6,593.3 222.6,593.6 223.3,594.1 C224.0,594.6 224.5,595.6 224.8,596.4 C225.2,597.3 225.0,598.2 225.2,599.1Z" fill="url(#gPink)" filter="url(#tb)"/>
<ellipse cx="218.8" cy="598.0" rx="2.6" ry="2.3" fill="#fff4e8" opacity="0.22" filter="url(#tb)"/>
<ellipse cx="216.9" cy="602.8" rx="1.8" ry="2.2" fill="#f0d8c0" opacity="0.5" filter="url(#tb)"/>
<ellipse cx="223.4" cy="602.4" rx="2.5" ry="1.0" fill="#a85040" opacity="0.35" filter="url(#tb)"/>
<ellipse cx="219.4" cy="601.7" rx="2.4" ry="2.8" fill="#f0d8c0" opacity="0.5" filter="url(#tb)"/>
<ellipse cx="216.3" cy="598.7" rx="2.6" ry="2.6" fill="#f0d8c0" opacity="0.5" filter="url(#tb)"/>
<path d="M241.5,598.7 C241.0,599.7 239.9,600.4 239.2,601.1 C238.4,601.8 237.8,602.1 237.0,602.7 C236.3,603.3 235.6,604.3 234.7,604.7 C233.7,605.1 232.3,605.5 231.4,605.2 C230.5,604.8 229.8,603.5 229.2,602.6 C228.7,601.6 228.4,600.4 228.3,599.3 C228.2,598.3 228.1,597.0 228.4,596.0 C228.7,595.0 229.5,594.2 230.0,593.3 C230.6,592.4 231.1,591.3 231.9,590.7 C232.6,590.1 233.8,589.5 234.7,589.6 C235.6,589.6 236.4,590.7 237.3,591.1 C238.1,591.6 239.0,591.7 239.8,592.3 C240.7,593.0 242.0,593.8 242.3,594.9 C242.5,595.9 242.1,597.6 241.5,598.7Z" fill="url(#gPink)" filter="url(#tb)"/>
<ellipse cx="233.4" cy="595.5" rx="2.9" ry="2.7" fill="#fff4e8" opacity="0.22" filter="url(#tb)"/>
<ellipse cx="236.9" cy="596.9" rx="2.1" ry="1.1" fill="#b86450" opacity="0.35" filter="url(#tb)"/>
<ellipse cx="232.5" cy="601.2" rx="2.3" ry="1.7" fill="#b86450" opacity="0.35" filter="url(#tb)"/>
<ellipse cx="235.7" cy="597.6" rx="1.9" ry="2.8" fill="#a85040" opacity="0.35" filter="url(#tb)"/>
<ellipse cx="231.2" cy="597.5" rx="2.2" ry="1.9" fill="#b86450" opacity="0.35" filter="url(#tb)"/>
<path d="M290.2,598.8 C290.1,599.7 289.8,600.7 289.3,601.5 C288.9,602.4 288.3,603.5 287.5,604.0 C286.7,604.4 285.4,604.5 284.5,604.4 C283.5,604.3 282.6,603.8 281.8,603.5 C281.0,603.1 280.3,602.7 279.5,602.2 C278.8,601.6 277.9,601.0 277.4,600.2 C276.8,599.3 276.1,598.0 276.2,597.1 C276.4,596.1 277.3,595.0 278.1,594.3 C278.9,593.7 280.1,593.7 280.9,593.3 C281.8,592.9 282.3,592.2 283.2,591.9 C284.0,591.6 285.2,591.3 286.1,591.6 C287.0,591.8 287.8,592.7 288.5,593.4 C289.1,594.1 289.7,595.0 290.0,595.9 C290.3,596.8 290.3,597.8 290.2,598.8Z" fill="url(#gRed)" filter="url(#tb)"/>
<ellipse cx="282.5" cy="596.4" rx="2.9" ry="2.3" fill="#fff4e8" opacity="0.22" filter="url(#tb)"/>
<ellipse cx="284.2" cy="594.2" rx="1.9" ry="2.2" fill="#a85040" opacity="0.35" filter="url(#tb)"/>
<ellipse cx="279.9" cy="598.0" rx="2.3" ry="1.8" fill="#f2dcc8" opacity="0.5" filter="url(#tb)"/>
<ellipse cx="281.6" cy="597.4" rx="1.8" ry="1.9" fill="#f2dcc8" opacity="0.5" filter="url(#tb)"/>
<ellipse cx="285.6" cy="596.9" rx="1.9" ry="1.0" fill="#f2dcc8" opacity="0.5" filter="url(#tb)"/>
<path d="M307.8,602.2 C307.7,603.0 307.2,603.6 306.9,604.3 C306.5,604.9 306.2,605.7 305.7,606.3 C305.1,606.9 304.3,607.5 303.4,607.7 C302.6,607.9 301.5,608.0 300.7,607.6 C299.9,607.3 299.2,606.4 298.8,605.7 C298.4,605.0 298.5,604.1 298.3,603.3 C298.1,602.6 297.6,601.9 297.6,601.2 C297.5,600.4 297.6,599.5 298.0,598.8 C298.4,598.1 299.1,597.6 299.7,597.1 C300.4,596.6 301.2,595.9 302.0,595.7 C302.8,595.6 303.8,595.8 304.6,596.2 C305.3,596.5 305.9,597.3 306.4,597.9 C307.0,598.5 307.7,599.1 307.9,599.8 C308.2,600.5 308.0,601.5 307.8,602.2Z" fill="url(#gPink)" filter="url(#tb)"/>
<ellipse cx="301.6" cy="600.4" rx="2.4" ry="2.0" fill="#fff4e8" opacity="0.22" filter="url(#tb)"/>
<ellipse cx="301.3" cy="604.8" rx="1.8" ry="1.3" fill="#b86450" opacity="0.35" filter="url(#tb)"/>
<ellipse cx="302.6" cy="604.5" rx="1.3" ry="1.9" fill="#f0d8c0" opacity="0.5" filter="url(#tb)"/>
<path d="M323.0,600.2 C323.2,601.2 323.6,602.2 323.5,603.1 C323.5,604.0 323.2,605.2 322.8,605.8 C322.3,606.4 321.5,606.7 320.9,606.8 C320.2,606.9 319.6,606.7 319.0,606.6 C318.3,606.5 317.7,606.6 317.0,606.4 C316.4,606.1 315.4,605.7 314.9,605.0 C314.4,604.2 314.2,602.9 314.1,601.9 C314.0,600.9 314.3,599.9 314.4,599.1 C314.6,598.2 314.8,597.2 315.1,596.6 C315.5,595.9 316.2,595.6 316.8,595.3 C317.3,595.0 317.9,594.8 318.6,594.8 C319.3,594.8 320.1,594.6 320.7,595.1 C321.4,595.5 321.9,596.6 322.3,597.5 C322.7,598.3 322.8,599.3 323.0,600.2Z" fill="url(#gRed)" filter="url(#tb)"/>
<ellipse cx="317.9" cy="599.4" rx="2.0" ry="2.3" fill="#fff4e8" opacity="0.22" filter="url(#tb)"/>
<ellipse cx="316.6" cy="597.6" rx="1.3" ry="1.4" fill="#a04838" opacity="0.35" filter="url(#tb)"/>
<ellipse cx="320.2" cy="597.2" rx="1.7" ry="1.7" fill="#f2dcc8" opacity="0.5" filter="url(#tb)"/>
<path d="M340.5,603.5 C340.2,604.1 339.0,604.5 338.5,605.0 C337.9,605.4 337.6,605.8 337.0,606.3 C336.4,606.8 335.7,607.6 334.9,607.8 C334.1,608.0 333.0,607.8 332.2,607.4 C331.5,607.0 330.7,606.3 330.3,605.6 C329.9,604.9 329.9,604.1 329.8,603.3 C329.7,602.6 329.9,602.0 330.0,601.3 C330.0,600.6 330.0,599.8 330.3,599.2 C330.7,598.6 331.3,597.9 332.0,597.6 C332.7,597.2 333.7,597.0 334.5,597.0 C335.3,597.0 336.2,597.3 336.9,597.7 C337.6,598.1 338.0,598.8 338.6,599.4 C339.1,599.9 340.0,600.4 340.3,601.1 C340.6,601.8 340.8,602.9 340.5,603.5Z" fill="url(#gPink)" filter="url(#tb)"/>
<ellipse cx="333.6" cy="601.1" rx="2.4" ry="1.8" fill="#fff4e8" opacity="0.22" filter="url(#tb)"/>
<ellipse cx="333.9" cy="604.0" rx="1.6" ry="2.0" fill="#a85040" opacity="0.35" filter="url(#tb)"/>
<ellipse cx="331.6" cy="602.1" rx="1.7" ry="2.1" fill="#b86450" opacity="0.35" filter="url(#tb)"/>
<path d="M356.9,602.5 C357.0,603.2 357.3,604.1 357.2,604.9 C357.1,605.8 356.8,606.9 356.3,607.5 C355.7,608.0 354.6,608.2 353.9,608.3 C353.1,608.3 352.3,608.1 351.6,607.9 C350.9,607.7 350.2,607.4 349.7,607.0 C349.2,606.6 348.8,605.9 348.4,605.3 C348.0,604.6 347.4,604.0 347.2,603.2 C346.9,602.4 346.8,601.2 347.0,600.5 C347.3,599.8 348.2,599.2 348.8,598.7 C349.5,598.2 350.1,597.9 350.8,597.7 C351.5,597.4 352.3,597.2 353.0,597.3 C353.7,597.4 354.5,597.8 355.1,598.3 C355.6,598.8 356.0,599.6 356.3,600.3 C356.6,601.0 356.7,601.7 356.9,602.5Z" fill="url(#gPink)" filter="url(#tb)"/>
<ellipse cx="351.3" cy="601.5" rx="2.2" ry="2.0" fill="#fff4e8" opacity="0.22" filter="url(#tb)"/>
<ellipse cx="354.2" cy="599.8" rx="1.4" ry="1.1" fill="#a04838" opacity="0.35" filter="url(#tb)"/>
<ellipse cx="351.3" cy="601.2" rx="2.2" ry="1.9" fill="#f2dcc8" opacity="0.5" filter="url(#tb)"/>
<path d="M371.9,600.6 C371.9,601.3 371.7,602.1 371.4,602.6 C371.0,603.2 370.5,603.8 370.0,604.1 C369.5,604.5 368.8,604.7 368.2,604.7 C367.7,604.7 367.1,604.5 366.5,604.3 C366.0,604.1 365.4,603.9 364.9,603.5 C364.5,603.0 364.0,602.4 363.9,601.8 C363.8,601.2 364.2,600.5 364.3,599.8 C364.4,599.2 364.5,598.8 364.7,598.1 C364.9,597.4 364.9,596.3 365.3,595.8 C365.7,595.3 366.7,594.9 367.3,595.0 C367.9,595.1 368.5,595.9 369.0,596.3 C369.5,596.7 369.8,597.0 370.2,597.4 C370.6,597.8 371.2,598.2 371.4,598.7 C371.7,599.2 371.9,600.0 371.9,600.6Z" fill="url(#gPink)" filter="url(#tb)"/>
<ellipse cx="367.0" cy="599.1" rx="1.8" ry="1.6" fill="#fff4e8" opacity="0.22" filter="url(#tb)"/>
<ellipse cx="369.4" cy="598.0" rx="1.6" ry="1.5" fill="#f0d8c0" opacity="0.5" filter="url(#tb)"/>
<ellipse cx="369.2" cy="602.5" rx="1.7" ry="1.1" fill="#f0d8c0" opacity="0.5" filter="url(#tb)"/>
<path d="M386.6,600.5 C387.0,601.2 387.3,602.1 387.0,602.8 C386.7,603.4 385.7,604.0 385.0,604.5 C384.3,604.9 383.5,605.2 382.7,605.4 C382.0,605.5 381.1,605.6 380.4,605.6 C379.7,605.5 379.0,605.2 378.3,605.0 C377.6,604.7 376.8,604.4 376.3,603.9 C375.8,603.4 375.4,602.7 375.3,602.1 C375.2,601.4 375.4,600.6 375.7,600.0 C376.0,599.3 376.4,598.7 377.0,598.2 C377.6,597.7 378.4,597.3 379.2,597.0 C379.9,596.8 380.9,596.6 381.6,596.7 C382.4,596.8 383.2,597.2 383.7,597.6 C384.3,598.0 384.5,598.6 385.0,599.1 C385.5,599.6 386.3,599.9 386.6,600.5Z" fill="url(#gPink)" filter="url(#tb)"/>
<ellipse cx="379.9" cy="600.2" rx="2.4" ry="1.6" fill="#fff4e8" opacity="0.22" filter="url(#tb)"/>
<ellipse cx="382.9" cy="598.9" rx="1.4" ry="1.8" fill="#b86450" opacity="0.35" filter="url(#tb)"/>
<ellipse cx="380.4" cy="602.1" rx="1.8" ry="1.5" fill="#b86450" opacity="0.35" filter="url(#tb)"/>
<path d="M402.5,603.0 C402.3,603.6 401.6,604.0 401.2,604.5 C400.7,604.9 400.3,605.4 399.7,605.6 C399.1,605.9 398.4,606.0 397.8,606.0 C397.2,605.9 396.6,605.6 396.0,605.4 C395.3,605.2 394.6,605.0 394.1,604.6 C393.6,604.2 393.2,603.5 393.1,602.9 C393.0,602.4 393.3,601.7 393.5,601.2 C393.6,600.6 393.7,600.0 394.0,599.5 C394.3,599.0 394.7,598.3 395.3,598.0 C395.8,597.8 396.7,597.7 397.4,597.8 C398.0,597.9 398.7,598.4 399.2,598.7 C399.7,599.0 400.1,599.4 400.6,599.8 C401.0,600.2 401.8,600.5 402.1,601.1 C402.5,601.6 402.6,602.4 402.5,603.0Z" fill="url(#gPink)" filter="url(#tb)"/>
<ellipse cx="396.7" cy="601.0" rx="2.0" ry="1.4" fill="#fff4e8" opacity="0.22" filter="url(#tb)"/>
<ellipse cx="396.1" cy="601.6" rx="1.7" ry="1.5" fill="#a04838" opacity="0.35" filter="url(#tb)"/>
<ellipse cx="399.6" cy="602.8" rx="1.3" ry="1.7" fill="#f2dcc8" opacity="0.5" filter="url(#tb)"/>
<path d="M119.5,658.1 C119.3,659.7 119.0,661.0 118.7,662.3 C118.4,663.7 118.2,665.3 117.6,666.4 C117.0,667.5 115.9,668.3 114.9,668.9 C113.9,669.5 112.6,670.0 111.5,669.8 C110.4,669.5 109.2,668.5 108.3,667.5 C107.4,666.6 106.7,665.2 106.1,663.9 C105.5,662.5 104.7,661.0 104.6,659.5 C104.5,658.0 105.0,656.4 105.4,655.0 C105.8,653.6 106.3,652.3 107.0,651.3 C107.8,650.2 108.7,649.0 109.7,648.7 C110.7,648.3 111.9,648.9 113.0,649.1 C114.1,649.3 115.3,649.2 116.4,649.8 C117.5,650.4 119.0,651.5 119.5,652.9 C120.0,654.3 119.6,656.6 119.5,658.1Z" fill="url(#gYel)" filter="url(#tb)"/>
<ellipse cx="110.8" cy="656.3" rx="3.3" ry="3.8" fill="#fff4e8" opacity="0.22" filter="url(#tb)"/>
<ellipse cx="109.6" cy="653.6" rx="2.1" ry="1.9" fill="#f6e8cc" opacity="0.45" filter="url(#tb)"/>
<ellipse cx="112.5" cy="660.6" rx="1.7" ry="2.6" fill="#f6e8cc" opacity="0.45" filter="url(#tb)"/>
<ellipse cx="108.3" cy="652.9" rx="3.5" ry="1.9" fill="#f6e8cc" opacity="0.45" filter="url(#tb)"/>
<ellipse cx="116.4" cy="651.9" rx="1.1" ry="0.7" fill="#a04424" opacity="0.42" filter="url(#tb2)"/>
<ellipse cx="109.2" cy="665.9" rx="1.4" ry="1.3" fill="#a04424" opacity="0.42" filter="url(#tb2)"/>
<ellipse cx="111.0" cy="664.3" rx="1.2" ry="0.8" fill="#a04424" opacity="0.42" filter="url(#tb2)"/>
<ellipse cx="115.1" cy="665.5" rx="0.9" ry="1.0" fill="#a04424" opacity="0.42" filter="url(#tb2)"/>
<ellipse cx="113.5" cy="654.6" rx="1.2" ry="0.7" fill="#a04424" opacity="0.42" filter="url(#tb2)"/>
<ellipse cx="109.3" cy="655.1" rx="1.4" ry="1.1" fill="#a04424" opacity="0.42" filter="url(#tb2)"/>
<path d="M136.6,659.4 C136.7,660.8 136.6,662.3 136.2,663.6 C135.9,664.9 135.3,666.3 134.4,667.2 C133.6,668.1 132.3,668.5 131.3,668.9 C130.2,669.3 129.0,669.6 127.9,669.6 C126.8,669.5 125.3,669.3 124.4,668.6 C123.4,667.8 122.9,666.3 122.2,665.1 C121.5,663.9 120.7,662.8 120.3,661.4 C119.8,660.0 119.3,658.0 119.7,656.7 C120.1,655.5 121.8,654.6 122.9,653.9 C123.9,653.2 125.0,653.1 126.0,652.7 C127.0,652.2 128.0,651.3 129.1,651.2 C130.2,651.1 131.6,651.4 132.7,652.1 C133.7,652.8 134.8,654.0 135.4,655.2 C136.1,656.4 136.5,658.0 136.6,659.4Z" fill="url(#gYel)" filter="url(#tb)"/>
<ellipse cx="126.9" cy="658.1" rx="3.5" ry="3.4" fill="#fff4e8" opacity="0.22" filter="url(#tb)"/>
<ellipse cx="124.5" cy="656.1" rx="2.5" ry="2.6" fill="#f6e8cc" opacity="0.45" filter="url(#tb)"/>
<ellipse cx="129.8" cy="656.0" rx="1.9" ry="3.0" fill="#f6e8cc" opacity="0.45" filter="url(#tb)"/>
<ellipse cx="127.7" cy="658.0" rx="2.3" ry="3.7" fill="#f6e8cc" opacity="0.45" filter="url(#tb)"/>
<ellipse cx="131.1" cy="665.6" rx="1.2" ry="0.6" fill="#a04424" opacity="0.42" filter="url(#tb2)"/>
<ellipse cx="131.3" cy="664.5" rx="1.4" ry="0.9" fill="#a04424" opacity="0.42" filter="url(#tb2)"/>
<ellipse cx="127.5" cy="666.4" rx="1.2" ry="0.7" fill="#a04424" opacity="0.42" filter="url(#tb2)"/>
<ellipse cx="124.4" cy="654.8" rx="1.4" ry="0.9" fill="#a04424" opacity="0.42" filter="url(#tb2)"/>
<ellipse cx="131.4" cy="655.4" rx="0.9" ry="0.7" fill="#a04424" opacity="0.42" filter="url(#tb2)"/>
<path d="M154.8,656.9 C154.8,657.8 154.5,659.0 154.0,659.8 C153.4,660.6 152.5,661.3 151.6,661.8 C150.7,662.2 149.6,662.4 148.5,662.6 C147.5,662.7 146.3,662.8 145.3,662.5 C144.2,662.3 143.0,661.6 142.4,660.8 C141.8,660.1 141.8,658.8 141.6,657.9 C141.5,656.9 141.5,656.1 141.5,655.2 C141.6,654.3 141.4,653.2 141.8,652.3 C142.2,651.5 143.0,650.6 143.9,650.0 C144.7,649.5 145.9,649.0 147.0,648.9 C148.1,648.8 149.4,648.9 150.3,649.4 C151.3,649.9 151.9,651.0 152.5,651.7 C153.1,652.5 153.5,653.3 153.9,654.2 C154.3,655.0 154.8,656.0 154.8,656.9Z" fill="url(#gYel)" filter="url(#tb)"/>
<path d="M155.0,665.7 C155.3,666.7 155.3,668.2 154.8,669.1 C154.2,669.9 152.9,670.6 151.8,671.0 C150.8,671.3 149.6,671.1 148.5,671.1 C147.4,671.1 146.3,671.2 145.4,670.9 C144.5,670.6 143.5,669.9 143.0,669.1 C142.4,668.4 142.4,667.4 142.0,666.5 C141.6,665.7 140.7,664.8 140.5,663.9 C140.4,662.9 140.5,661.5 141.1,660.7 C141.6,659.9 143.0,659.5 143.9,659.0 C144.9,658.5 145.9,657.9 147.0,657.8 C148.0,657.7 149.4,657.8 150.3,658.4 C151.1,658.9 151.6,660.1 152.1,660.9 C152.6,661.7 152.9,662.3 153.4,663.1 C153.9,663.9 154.8,664.7 155.0,665.7Z" fill="url(#gYel)" filter="url(#tb)"/>
<ellipse cx="146.5" cy="657.8" rx="3.3" ry="4.0" fill="#fff4e8" opacity="0.22" filter="url(#tb)"/>
<ellipse cx="148.9" cy="662.1" rx="1.7" ry="3.5" fill="#f6e8cc" opacity="0.45" filter="url(#tb)"/>
<ellipse cx="149.6" cy="665.3" rx="2.9" ry="3.9" fill="#f6e8cc" opacity="0.45" filter="url(#tb)"/>
<ellipse cx="149.0" cy="661.8" rx="1.9" ry="2.7" fill="#f6e8cc" opacity="0.45" filter="url(#tb)"/>
<ellipse cx="143.4" cy="667.3" rx="1.0" ry="0.9" fill="#a04424" opacity="0.42" filter="url(#tb2)"/>
<ellipse cx="144.5" cy="667.8" rx="1.6" ry="0.7" fill="#a04424" opacity="0.42" filter="url(#tb2)"/>
<ellipse cx="151.8" cy="665.8" rx="1.5" ry="1.1" fill="#a04424" opacity="0.42" filter="url(#tb2)"/>
<ellipse cx="146.2" cy="658.7" rx="1.3" ry="1.2" fill="#a04424" opacity="0.42" filter="url(#tb2)"/>
<path d="M170.0,658.5 C169.7,660.0 169.2,661.2 168.7,662.6 C168.2,664.0 167.8,665.9 166.9,667.0 C166.1,668.1 164.7,669.1 163.5,669.3 C162.4,669.5 161.0,668.7 160.1,668.0 C159.1,667.2 158.5,665.8 157.9,664.6 C157.3,663.5 156.9,662.4 156.5,661.1 C156.1,659.8 155.6,658.3 155.6,656.8 C155.6,655.3 155.9,653.5 156.5,652.1 C157.1,650.7 158.1,649.3 159.1,648.5 C160.1,647.7 161.4,647.2 162.5,647.1 C163.6,647.1 164.7,647.7 165.7,648.2 C166.7,648.7 167.8,649.2 168.6,650.1 C169.4,651.1 170.3,652.4 170.5,653.8 C170.7,655.2 170.3,657.1 170.0,658.5Z" fill="url(#gYel)" filter="url(#tb)"/>
<ellipse cx="161.5" cy="655.2" rx="3.3" ry="3.8" fill="#fff4e8" opacity="0.22" filter="url(#tb)"/>
<ellipse cx="167.2" cy="657.3" rx="2.5" ry="3.1" fill="#f6e8cc" opacity="0.45" filter="url(#tb)"/>
<ellipse cx="165.7" cy="661.7" rx="3.3" ry="2.4" fill="#f6e8cc" opacity="0.45" filter="url(#tb)"/>
<ellipse cx="159.3" cy="656.0" rx="2.3" ry="3.6" fill="#f6e8cc" opacity="0.45" filter="url(#tb)"/>
<ellipse cx="158.4" cy="652.2" rx="1.7" ry="0.8" fill="#a04424" opacity="0.42" filter="url(#tb2)"/>
<ellipse cx="165.2" cy="651.4" rx="1.6" ry="1.2" fill="#a04424" opacity="0.42" filter="url(#tb2)"/>
<ellipse cx="164.5" cy="662.0" rx="0.8" ry="0.6" fill="#a04424" opacity="0.42" filter="url(#tb2)"/>
<path d="M188.1,654.0 C187.8,655.0 186.6,655.8 185.9,656.4 C185.2,657.0 184.4,657.2 183.7,657.6 C183.0,658.1 182.5,658.5 181.8,658.9 C181.0,659.4 179.9,660.1 179.0,660.1 C178.1,660.0 176.9,659.3 176.4,658.6 C175.8,657.9 175.8,656.7 175.5,655.9 C175.1,655.0 174.4,654.3 174.2,653.4 C174.1,652.5 174.2,651.2 174.8,650.5 C175.3,649.8 176.6,649.6 177.5,649.2 C178.3,648.9 179.0,648.5 179.8,648.4 C180.6,648.2 181.5,648.2 182.3,648.4 C183.1,648.6 183.8,649.0 184.7,649.4 C185.6,649.8 186.9,650.2 187.5,650.9 C188.1,651.7 188.3,653.1 188.1,654.0Z" fill="url(#gYel)" filter="url(#tb)"/>
<path d="M185.7,662.0 C185.8,662.9 186.0,663.9 185.7,664.8 C185.5,665.7 185.0,667.1 184.2,667.6 C183.4,668.1 181.9,667.9 180.9,667.7 C180.0,667.4 179.3,666.6 178.5,666.2 C177.8,665.9 177.1,665.9 176.3,665.6 C175.5,665.3 174.3,664.9 173.7,664.2 C173.1,663.5 172.7,662.3 172.8,661.4 C172.9,660.5 173.8,659.5 174.4,658.8 C175.0,658.1 175.7,657.6 176.4,657.1 C177.1,656.5 177.8,655.7 178.7,655.5 C179.5,655.3 180.7,655.6 181.5,655.9 C182.3,656.2 183.0,656.9 183.6,657.5 C184.2,658.1 184.9,658.8 185.2,659.5 C185.6,660.2 185.6,661.1 185.7,662.0Z" fill="url(#gYel)" filter="url(#tb)"/>
<ellipse cx="179.1" cy="655.3" rx="2.9" ry="3.6" fill="#fff4e8" opacity="0.22" filter="url(#tb)"/>
<ellipse cx="183.8" cy="657.5" rx="2.5" ry="2.9" fill="#f6e8cc" opacity="0.45" filter="url(#tb)"/>
<ellipse cx="178.4" cy="656.2" rx="1.8" ry="2.3" fill="#f6e8cc" opacity="0.45" filter="url(#tb)"/>
<ellipse cx="181.4" cy="655.2" rx="2.1" ry="2.3" fill="#f6e8cc" opacity="0.45" filter="url(#tb)"/>
<ellipse cx="177.1" cy="658.1" rx="1.4" ry="0.9" fill="#a04424" opacity="0.42" filter="url(#tb2)"/>
<ellipse cx="183.6" cy="658.5" rx="1.4" ry="1.2" fill="#a04424" opacity="0.42" filter="url(#tb2)"/>
<ellipse cx="177.0" cy="664.7" rx="1.4" ry="0.9" fill="#a04424" opacity="0.42" filter="url(#tb2)"/>
<ellipse cx="183.0" cy="654.3" rx="1.8" ry="1.0" fill="#a04424" opacity="0.42" filter="url(#tb2)"/>
<ellipse cx="179.2" cy="661.5" rx="1.2" ry="0.7" fill="#a04424" opacity="0.42" filter="url(#tb2)"/>
<path d="M205.0,654.0 C204.9,655.2 204.5,656.5 204.0,657.5 C203.5,658.6 202.8,659.6 202.0,660.3 C201.2,661.0 200.2,661.7 199.3,661.8 C198.4,661.9 197.3,661.6 196.5,661.1 C195.7,660.6 195.1,659.6 194.6,658.8 C194.1,657.9 194.0,656.9 193.6,655.9 C193.3,654.9 192.8,654.0 192.6,652.8 C192.4,651.5 192.0,649.6 192.4,648.5 C192.8,647.3 194.2,646.3 195.1,645.9 C196.1,645.6 197.3,646.3 198.2,646.4 C199.1,646.5 199.8,646.4 200.6,646.6 C201.4,646.8 202.4,646.9 203.1,647.5 C203.8,648.2 204.4,649.3 204.7,650.4 C205.0,651.5 205.1,652.9 205.0,654.0Z" fill="url(#gYel)" filter="url(#tb)"/>
<path d="M204.6,664.8 C204.4,666.0 204.4,667.3 203.9,668.3 C203.4,669.3 202.6,670.3 201.8,670.8 C201.0,671.2 200.0,671.0 199.2,671.1 C198.3,671.2 197.5,671.5 196.6,671.4 C195.8,671.3 194.7,671.1 193.9,670.5 C193.1,669.8 192.2,668.7 191.9,667.6 C191.6,666.4 191.5,664.7 191.9,663.5 C192.2,662.3 193.3,661.3 193.9,660.5 C194.6,659.6 195.2,658.9 195.9,658.3 C196.6,657.7 197.3,657.0 198.1,656.8 C199.0,656.5 199.8,656.6 200.8,656.8 C201.7,656.9 202.9,656.9 203.7,657.6 C204.4,658.3 205.1,659.7 205.2,660.9 C205.4,662.1 204.8,663.6 204.6,664.8Z" fill="url(#gYel)" filter="url(#tb)"/>
<ellipse cx="198.3" cy="655.6" rx="2.9" ry="4.9" fill="#fff4e8" opacity="0.22" filter="url(#tb)"/>
<ellipse cx="196.1" cy="651.1" rx="2.1" ry="1.6" fill="#f6e8cc" opacity="0.45" filter="url(#tb)"/>
<ellipse cx="198.5" cy="654.5" rx="2.5" ry="3.7" fill="#f6e8cc" opacity="0.45" filter="url(#tb)"/>
<ellipse cx="197.4" cy="660.7" rx="2.3" ry="1.8" fill="#f6e8cc" opacity="0.45" filter="url(#tb)"/>
<ellipse cx="201.4" cy="657.9" rx="0.9" ry="0.7" fill="#a04424" opacity="0.42" filter="url(#tb2)"/>
<ellipse cx="201.0" cy="654.4" rx="1.6" ry="1.3" fill="#a04424" opacity="0.42" filter="url(#tb2)"/>
<ellipse cx="195.8" cy="665.0" rx="1.7" ry="1.0" fill="#a04424" opacity="0.42" filter="url(#tb2)"/>
<ellipse cx="200.3" cy="660.8" rx="1.3" ry="0.9" fill="#a04424" opacity="0.42" filter="url(#tb2)"/>
<path d="M228.3,655.9 C228.2,656.9 227.1,658.1 226.6,659.0 C226.1,659.9 225.8,660.7 225.2,661.3 C224.6,662.0 223.9,662.6 223.1,662.9 C222.4,663.1 221.5,663.0 220.6,663.1 C219.7,663.1 218.7,663.4 217.8,663.1 C216.9,662.7 215.9,661.9 215.3,661.1 C214.8,660.2 214.6,658.9 214.5,657.8 C214.5,656.8 214.6,655.6 215.0,654.7 C215.3,653.8 216.0,653.0 216.6,652.3 C217.3,651.7 218.0,651.0 218.8,650.7 C219.6,650.5 220.5,650.6 221.4,650.7 C222.2,650.9 222.8,651.3 223.8,651.6 C224.7,651.9 226.2,651.8 227.0,652.5 C227.7,653.2 228.3,654.8 228.3,655.9Z" fill="url(#gYel)" filter="url(#tb)"/>
<path d="M226.4,665.4 C226.5,666.3 227.2,667.3 227.2,668.2 C227.2,669.2 226.8,670.4 226.2,671.2 C225.7,671.9 224.7,672.5 223.8,672.8 C222.9,673.1 221.9,673.3 221.0,673.2 C220.1,673.1 219.1,672.6 218.3,672.0 C217.6,671.4 216.8,670.7 216.3,669.8 C215.8,669.0 215.4,667.9 215.2,667.0 C215.1,666.0 215.3,664.9 215.7,664.0 C216.0,663.1 216.6,662.4 217.2,661.7 C217.8,661.0 218.4,660.5 219.2,660.0 C220.0,659.4 220.9,658.5 221.9,658.4 C222.8,658.2 224.3,658.4 225.0,659.2 C225.7,659.9 225.9,661.6 226.1,662.6 C226.3,663.7 226.2,664.5 226.4,665.4Z" fill="url(#gYel)" filter="url(#tb)"/>
<ellipse cx="220.7" cy="658.7" rx="2.9" ry="4.1" fill="#fff4e8" opacity="0.22" filter="url(#tb)"/>
<ellipse cx="222.9" cy="668.0" rx="2.8" ry="2.8" fill="#f6e8cc" opacity="0.45" filter="url(#tb)"/>
<ellipse cx="222.3" cy="659.9" rx="2.3" ry="4.3" fill="#f6e8cc" opacity="0.45" filter="url(#tb)"/>
<ellipse cx="218.9" cy="663.5" rx="1.8" ry="4.6" fill="#f6e8cc" opacity="0.45" filter="url(#tb)"/>
<ellipse cx="219.7" cy="653.9" rx="1.1" ry="1.1" fill="#a04424" opacity="0.42" filter="url(#tb2)"/>
<ellipse cx="223.7" cy="667.2" rx="1.5" ry="0.8" fill="#a04424" opacity="0.42" filter="url(#tb2)"/>
<ellipse cx="222.5" cy="660.4" rx="1.6" ry="1.0" fill="#a04424" opacity="0.42" filter="url(#tb2)"/>
<ellipse cx="220.0" cy="663.8" rx="1.8" ry="0.8" fill="#a04424" opacity="0.42" filter="url(#tb2)"/>
<ellipse cx="225.3" cy="653.5" rx="1.1" ry="0.8" fill="#a04424" opacity="0.42" filter="url(#tb2)"/>
<path d="M247.7,660.6 C247.7,661.7 247.3,662.8 246.8,663.8 C246.3,664.7 245.6,665.6 244.8,666.1 C244.0,666.6 243.0,666.9 242.1,666.8 C241.3,666.7 240.6,665.9 239.8,665.6 C239.0,665.3 238.1,665.4 237.3,664.9 C236.5,664.5 235.3,663.8 235.0,662.8 C234.7,661.9 235.2,660.4 235.5,659.4 C235.8,658.3 236.2,657.5 236.7,656.6 C237.1,655.7 237.5,654.4 238.2,653.9 C238.9,653.3 240.0,653.1 240.9,653.1 C241.7,653.1 242.6,653.4 243.4,653.7 C244.2,654.1 245.0,654.5 245.6,655.1 C246.3,655.7 246.8,656.6 247.2,657.5 C247.5,658.5 247.8,659.6 247.7,660.6Z" fill="url(#gYel)" filter="url(#tb)"/>
<ellipse cx="240.3" cy="658.3" rx="2.6" ry="2.5" fill="#fff4e8" opacity="0.22" filter="url(#tb)"/>
<ellipse cx="242.8" cy="661.3" rx="3.0" ry="2.0" fill="#f6e8cc" opacity="0.45" filter="url(#tb)"/>
<ellipse cx="243.8" cy="661.6" rx="2.8" ry="1.9" fill="#f6e8cc" opacity="0.45" filter="url(#tb)"/>
<ellipse cx="243.0" cy="660.6" rx="2.0" ry="1.5" fill="#f6e8cc" opacity="0.45" filter="url(#tb)"/>
<ellipse cx="242.0" cy="656.7" rx="0.8" ry="0.7" fill="#a04424" opacity="0.42" filter="url(#tb2)"/>
<ellipse cx="242.5" cy="656.6" rx="1.8" ry="1.1" fill="#a04424" opacity="0.42" filter="url(#tb2)"/>
<ellipse cx="237.7" cy="656.4" rx="1.4" ry="0.6" fill="#a04424" opacity="0.42" filter="url(#tb2)"/>
<path d="M288.9,656.1 C289.1,657.0 288.8,658.3 288.3,659.2 C287.7,660.0 286.5,660.8 285.6,661.3 C284.6,661.7 283.5,661.7 282.6,662.1 C281.6,662.4 280.9,663.0 279.9,663.3 C278.8,663.6 277.2,664.1 276.2,663.8 C275.2,663.5 274.5,662.5 273.9,661.7 C273.3,660.9 272.9,660.0 272.7,659.1 C272.5,658.2 272.5,657.1 272.9,656.3 C273.4,655.5 274.6,654.9 275.4,654.3 C276.3,653.6 276.9,653.0 277.9,652.6 C278.8,652.1 280.0,651.6 281.0,651.6 C282.0,651.6 282.9,652.3 283.9,652.6 C284.8,653.0 285.8,653.3 286.7,653.9 C287.5,654.5 288.6,655.3 288.9,656.1Z" fill="url(#gPale)" filter="url(#tb)"/>
<ellipse cx="278.9" cy="656.3" rx="3.3" ry="2.2" fill="#fff4e8" opacity="0.22" filter="url(#tb)"/>
<ellipse cx="282.6" cy="659.1" rx="2.4" ry="1.5" fill="#f6e8cc" opacity="0.45" filter="url(#tb)"/>
<ellipse cx="277.9" cy="654.5" rx="3.6" ry="2.3" fill="#f6e8cc" opacity="0.45" filter="url(#tb)"/>
<ellipse cx="282.6" cy="654.9" rx="3.2" ry="2.0" fill="#f6e8cc" opacity="0.45" filter="url(#tb)"/>
<ellipse cx="276.4" cy="654.3" rx="1.6" ry="0.7" fill="#a04424" opacity="0.42" filter="url(#tb2)"/>
<ellipse cx="278.6" cy="657.0" rx="0.8" ry="0.8" fill="#a04424" opacity="0.42" filter="url(#tb2)"/>
<ellipse cx="278.2" cy="659.5" rx="1.2" ry="0.8" fill="#a04424" opacity="0.42" filter="url(#tb2)"/>
<ellipse cx="285.0" cy="657.7" rx="1.7" ry="1.0" fill="#a04424" opacity="0.42" filter="url(#tb2)"/>
<ellipse cx="275.7" cy="657.0" rx="1.2" ry="1.1" fill="#a04424" opacity="0.42" filter="url(#tb2)"/>
<ellipse cx="278.9" cy="659.5" rx="1.3" ry="0.8" fill="#a04424" opacity="0.42" filter="url(#tb2)"/>
<path d="M307.3,661.2 C307.2,662.2 306.2,663.3 305.5,664.0 C304.8,664.8 303.9,665.4 303.0,665.9 C302.1,666.3 301.0,666.6 300.1,666.6 C299.1,666.6 298.2,666.2 297.3,665.9 C296.3,665.6 295.2,665.5 294.3,664.9 C293.4,664.3 292.1,663.4 291.8,662.4 C291.6,661.4 292.1,659.9 292.6,658.9 C293.0,658.0 293.9,657.3 294.6,656.5 C295.2,655.7 295.5,654.8 296.2,654.1 C297.0,653.4 298.1,652.5 299.0,652.4 C300.0,652.3 301.3,652.9 302.2,653.5 C303.0,654.0 303.5,655.0 304.2,655.7 C304.9,656.5 305.9,657.0 306.4,657.9 C306.9,658.8 307.4,660.2 307.3,661.2Z" fill="url(#gYel)" filter="url(#tb)"/>
<ellipse cx="298.2" cy="658.3" rx="3.1" ry="2.5" fill="#fff4e8" opacity="0.22" filter="url(#tb)"/>
<ellipse cx="299.5" cy="659.9" rx="3.1" ry="1.5" fill="#f6e8cc" opacity="0.45" filter="url(#tb)"/>
<ellipse cx="299.6" cy="658.8" rx="3.2" ry="1.6" fill="#f6e8cc" opacity="0.45" filter="url(#tb)"/>
<ellipse cx="303.2" cy="658.3" rx="1.9" ry="2.3" fill="#f6e8cc" opacity="0.45" filter="url(#tb)"/>
<ellipse cx="296.5" cy="664.4" rx="1.6" ry="0.9" fill="#a04424" opacity="0.42" filter="url(#tb2)"/>
<ellipse cx="304.2" cy="660.6" rx="0.9" ry="0.8" fill="#a04424" opacity="0.42" filter="url(#tb2)"/>
<ellipse cx="295.8" cy="664.3" rx="1.7" ry="1.1" fill="#a04424" opacity="0.42" filter="url(#tb2)"/>
<ellipse cx="298.9" cy="661.5" rx="1.2" ry="0.8" fill="#a04424" opacity="0.42" filter="url(#tb2)"/>
<ellipse cx="298.9" cy="660.4" rx="1.0" ry="1.3" fill="#a04424" opacity="0.42" filter="url(#tb2)"/>
<ellipse cx="300.8" cy="664.4" rx="0.9" ry="1.0" fill="#a04424" opacity="0.42" filter="url(#tb2)"/>
<path d="M322.6,656.6 C322.6,657.9 322.7,659.4 322.3,660.5 C321.9,661.6 321.1,662.7 320.3,663.4 C319.5,664.1 318.6,664.3 317.7,664.6 C316.8,664.9 315.7,665.5 314.8,665.2 C314.0,664.9 313.0,663.8 312.6,662.8 C312.1,661.8 312.2,660.2 312.1,659.0 C312.0,657.8 311.9,657.0 311.9,655.8 C311.9,654.6 311.6,653.3 311.8,652.1 C312.1,650.8 312.6,649.1 313.3,648.2 C314.0,647.4 315.3,647.0 316.3,647.0 C317.2,647.1 318.1,647.8 318.9,648.3 C319.7,648.8 320.5,649.3 321.1,650.1 C321.7,650.9 322.1,652.1 322.3,653.2 C322.6,654.2 322.6,655.4 322.6,656.6Z" fill="url(#gYel)" filter="url(#tb)"/>
<ellipse cx="315.8" cy="654.2" rx="2.6" ry="3.1" fill="#fff4e8" opacity="0.22" filter="url(#tb)"/>
<ellipse cx="316.7" cy="658.0" rx="1.9" ry="1.7" fill="#f6e8cc" opacity="0.45" filter="url(#tb)"/>
<ellipse cx="315.9" cy="657.6" rx="2.5" ry="2.3" fill="#f6e8cc" opacity="0.45" filter="url(#tb)"/>
<ellipse cx="315.4" cy="658.7" rx="2.7" ry="2.6" fill="#f6e8cc" opacity="0.45" filter="url(#tb)"/>
<ellipse cx="320.8" cy="658.9" rx="1.4" ry="0.8" fill="#a04424" opacity="0.42" filter="url(#tb2)"/>
<ellipse cx="314.9" cy="661.7" rx="1.1" ry="1.3" fill="#a04424" opacity="0.42" filter="url(#tb2)"/>
<ellipse cx="321.0" cy="652.1" rx="1.5" ry="0.7" fill="#a04424" opacity="0.42" filter="url(#tb2)"/>
<ellipse cx="314.2" cy="651.9" rx="1.1" ry="0.8" fill="#a04424" opacity="0.42" filter="url(#tb2)"/>
<path d="M343.7,651.6 C343.6,652.7 343.3,653.8 342.8,654.8 C342.4,655.8 341.8,656.6 341.2,657.5 C340.5,658.3 339.8,659.3 338.8,659.8 C337.9,660.3 336.4,660.7 335.4,660.4 C334.5,660.1 333.7,658.7 333.0,657.9 C332.3,657.1 332.0,656.4 331.2,655.6 C330.5,654.8 329.0,654.1 328.6,653.0 C328.1,652.0 328.2,650.3 328.7,649.3 C329.2,648.2 330.6,647.5 331.5,646.9 C332.4,646.4 333.4,646.1 334.4,645.9 C335.3,645.6 336.2,645.5 337.2,645.5 C338.2,645.5 339.4,645.5 340.4,645.9 C341.3,646.4 342.5,647.2 343.0,648.1 C343.6,649.1 343.7,650.5 343.7,651.6Z" fill="url(#gYel)" filter="url(#tb)"/>
<path d="M345.5,661.6 C345.5,662.7 344.9,663.8 344.5,664.8 C344.0,665.7 343.3,666.4 342.7,667.2 C342.0,668.0 341.4,669.2 340.5,669.6 C339.6,670.1 338.3,670.1 337.2,670.0 C336.2,669.8 335.2,669.3 334.2,668.7 C333.3,668.1 332.0,667.5 331.5,666.5 C331.1,665.5 331.4,664.0 331.5,662.9 C331.7,661.8 332.1,661.1 332.3,660.0 C332.6,658.9 332.2,657.3 332.7,656.4 C333.3,655.5 334.7,654.9 335.8,654.8 C336.8,654.6 337.9,655.3 339.0,655.5 C340.0,655.7 341.1,655.6 342.0,656.0 C343.0,656.5 344.1,657.2 344.7,658.2 C345.3,659.1 345.6,660.5 345.5,661.6Z" fill="url(#gYel)" filter="url(#tb)"/>
<ellipse cx="335.7" cy="654.3" rx="3.3" ry="4.5" fill="#fff4e8" opacity="0.22" filter="url(#tb)"/>
<ellipse cx="337.9" cy="659.4" rx="3.4" ry="3.7" fill="#f6e8cc" opacity="0.45" filter="url(#tb)"/>
<ellipse cx="338.5" cy="662.7" rx="2.9" ry="3.4" fill="#f6e8cc" opacity="0.45" filter="url(#tb)"/>
<ellipse cx="334.9" cy="652.8" rx="1.8" ry="2.8" fill="#f6e8cc" opacity="0.45" filter="url(#tb)"/>
<ellipse cx="338.5" cy="650.1" rx="1.2" ry="1.1" fill="#a04424" opacity="0.42" filter="url(#tb2)"/>
<ellipse cx="339.3" cy="659.6" rx="1.1" ry="0.9" fill="#a04424" opacity="0.42" filter="url(#tb2)"/>
<ellipse cx="336.8" cy="659.5" rx="1.2" ry="1.1" fill="#a04424" opacity="0.42" filter="url(#tb2)"/>
<ellipse cx="341.5" cy="651.6" rx="1.5" ry="1.1" fill="#a04424" opacity="0.42" filter="url(#tb2)"/>
<ellipse cx="336.1" cy="657.1" rx="1.8" ry="0.6" fill="#a04424" opacity="0.42" filter="url(#tb2)"/>
<path d="M357.7,652.1 C357.8,653.2 357.6,654.7 357.3,655.7 C356.9,656.8 356.1,657.9 355.4,658.4 C354.6,658.9 353.5,658.7 352.7,658.8 C351.8,658.8 351.2,658.7 350.3,658.6 C349.5,658.6 348.3,658.8 347.7,658.2 C347.1,657.6 346.8,656.1 346.6,655.1 C346.4,654.0 346.8,653.0 346.7,651.9 C346.7,650.8 346.0,649.5 346.1,648.4 C346.3,647.3 346.9,645.7 347.6,645.1 C348.3,644.4 349.6,644.4 350.4,644.4 C351.3,644.4 352.2,644.8 352.9,645.3 C353.6,645.7 354.2,646.4 354.8,647.0 C355.4,647.6 356.0,648.2 356.5,649.0 C357.0,649.9 357.5,651.0 357.7,652.1Z" fill="url(#gYel)" filter="url(#tb)"/>
<path d="M357.9,662.1 C358.0,663.2 358.0,664.3 357.7,665.4 C357.5,666.5 357.2,668.1 356.5,668.8 C355.9,669.6 354.7,670.1 353.8,669.9 C353.0,669.8 352.2,668.4 351.4,668.0 C350.7,667.5 350.1,667.6 349.3,667.1 C348.6,666.7 347.4,666.3 347.0,665.4 C346.5,664.5 346.6,663.0 346.6,661.9 C346.7,660.7 346.8,659.4 347.2,658.4 C347.6,657.5 348.4,656.5 349.1,656.0 C349.8,655.5 350.7,655.6 351.6,655.4 C352.4,655.1 353.2,654.5 354.0,654.6 C354.8,654.7 355.9,655.2 356.4,655.9 C357.0,656.6 357.2,658.0 357.5,659.0 C357.7,660.1 357.9,661.0 357.9,662.1Z" fill="url(#gYel)" filter="url(#tb)"/>
<ellipse cx="351.1" cy="654.0" rx="2.6" ry="4.5" fill="#fff4e8" opacity="0.22" filter="url(#tb)"/>
<ellipse cx="349.7" cy="663.9" rx="2.0" ry="1.4" fill="#f6e8cc" opacity="0.45" filter="url(#tb)"/>
<ellipse cx="350.8" cy="655.6" rx="1.5" ry="2.8" fill="#f6e8cc" opacity="0.45" filter="url(#tb)"/>
<ellipse cx="351.8" cy="659.8" rx="2.0" ry="2.2" fill="#f6e8cc" opacity="0.45" filter="url(#tb)"/>
<ellipse cx="350.7" cy="655.2" rx="1.8" ry="1.3" fill="#a04424" opacity="0.42" filter="url(#tb2)"/>
<ellipse cx="356.3" cy="665.2" rx="1.3" ry="0.7" fill="#a04424" opacity="0.42" filter="url(#tb2)"/>
<ellipse cx="355.7" cy="649.3" rx="1.6" ry="0.7" fill="#a04424" opacity="0.42" filter="url(#tb2)"/>
<ellipse cx="353.4" cy="660.9" rx="1.6" ry="0.7" fill="#a04424" opacity="0.42" filter="url(#tb2)"/>
<path d="M374.8,653.4 C374.8,654.4 374.6,655.7 374.3,656.7 C373.9,657.7 373.3,658.6 372.7,659.4 C372.0,660.2 371.2,661.4 370.4,661.5 C369.6,661.6 368.6,660.7 368.0,660.0 C367.5,659.3 367.5,657.8 367.0,657.1 C366.5,656.4 365.6,656.5 365.0,655.7 C364.5,655.0 363.7,653.7 363.6,652.6 C363.6,651.5 364.2,650.0 364.7,649.0 C365.2,648.0 366.0,647.3 366.8,646.8 C367.5,646.3 368.3,646.3 369.1,646.2 C369.8,646.0 370.6,645.8 371.3,646.0 C372.0,646.2 372.9,646.6 373.4,647.3 C373.9,648.0 374.0,649.3 374.3,650.3 C374.5,651.3 374.8,652.3 374.8,653.4Z" fill="url(#gYel)" filter="url(#tb)"/>
<path d="M373.6,663.4 C373.8,664.4 373.9,666.1 373.6,667.1 C373.2,668.1 372.3,668.9 371.5,669.5 C370.8,670.1 369.9,670.6 369.1,670.6 C368.4,670.7 367.5,670.3 366.9,669.9 C366.2,669.4 365.9,668.5 365.3,667.8 C364.7,667.2 363.9,666.9 363.4,666.0 C363.0,665.1 362.6,663.7 362.8,662.6 C362.9,661.6 363.8,660.6 364.3,659.7 C364.8,658.8 365.2,658.0 365.7,657.2 C366.3,656.3 367.0,655.0 367.7,654.6 C368.5,654.3 369.6,654.4 370.3,655.0 C371.0,655.5 371.4,657.0 371.8,657.9 C372.1,658.9 372.1,659.8 372.4,660.7 C372.7,661.6 373.4,662.3 373.6,663.4Z" fill="url(#gYel)" filter="url(#tb)"/>
<ellipse cx="367.9" cy="655.0" rx="2.4" ry="4.5" fill="#fff4e8" opacity="0.22" filter="url(#tb)"/>
<ellipse cx="370.0" cy="655.4" rx="2.1" ry="3.6" fill="#f6e8cc" opacity="0.45" filter="url(#tb)"/>
<ellipse cx="366.4" cy="663.7" rx="1.7" ry="2.4" fill="#f6e8cc" opacity="0.45" filter="url(#tb)"/>
<ellipse cx="368.3" cy="652.1" rx="2.2" ry="2.4" fill="#f6e8cc" opacity="0.45" filter="url(#tb)"/>
<ellipse cx="369.2" cy="655.2" rx="1.4" ry="1.1" fill="#a04424" opacity="0.42" filter="url(#tb2)"/>
<ellipse cx="366.9" cy="650.4" rx="1.1" ry="1.0" fill="#a04424" opacity="0.42" filter="url(#tb2)"/>
<ellipse cx="369.6" cy="664.3" rx="1.0" ry="0.9" fill="#a04424" opacity="0.42" filter="url(#tb2)"/>
<ellipse cx="371.1" cy="652.8" rx="1.2" ry="1.0" fill="#a04424" opacity="0.42" filter="url(#tb2)"/>
<path d="M395.3,659.1 C395.4,660.1 394.5,661.4 393.7,662.4 C393.0,663.3 391.8,663.9 390.7,664.5 C389.6,665.2 388.5,666.1 387.2,666.4 C386.0,666.6 384.4,666.4 383.1,666.0 C381.9,665.6 380.7,664.8 379.8,664.1 C378.8,663.3 378.0,662.3 377.6,661.4 C377.1,660.4 377.3,659.3 377.4,658.2 C377.4,657.2 377.3,656.1 377.7,655.0 C378.0,653.9 378.5,652.4 379.5,651.7 C380.5,650.9 382.3,650.4 383.7,650.4 C385.0,650.4 386.6,651.0 387.8,651.6 C388.9,652.1 389.6,653.1 390.5,653.8 C391.4,654.6 392.3,655.1 393.1,655.9 C393.9,656.8 395.2,658.0 395.3,659.1Z" fill="url(#gYel)" filter="url(#tb)"/>
<ellipse cx="383.7" cy="656.8" rx="4.0" ry="2.7" fill="#fff4e8" opacity="0.22" filter="url(#tb)"/>
<ellipse cx="382.5" cy="655.0" rx="4.0" ry="2.4" fill="#f6e8cc" opacity="0.45" filter="url(#tb)"/>
<ellipse cx="381.6" cy="655.3" rx="2.8" ry="2.7" fill="#f6e8cc" opacity="0.45" filter="url(#tb)"/>
<ellipse cx="385.2" cy="659.1" rx="3.0" ry="2.8" fill="#f6e8cc" opacity="0.45" filter="url(#tb)"/>
<ellipse cx="382.5" cy="655.0" rx="1.4" ry="1.1" fill="#a04424" opacity="0.42" filter="url(#tb2)"/>
<ellipse cx="381.4" cy="656.7" rx="1.5" ry="0.9" fill="#a04424" opacity="0.42" filter="url(#tb2)"/>
<ellipse cx="383.1" cy="658.2" rx="1.2" ry="1.3" fill="#a04424" opacity="0.42" filter="url(#tb2)"/>
<ellipse cx="387.6" cy="655.2" rx="1.2" ry="1.1" fill="#a04424" opacity="0.42" filter="url(#tb2)"/>
<ellipse cx="379.7" cy="653.7" rx="1.5" ry="1.3" fill="#a04424" opacity="0.42" filter="url(#tb2)"/>
<ellipse cx="389.2" cy="654.2" rx="1.3" ry="1.1" fill="#a04424" opacity="0.42" filter="url(#tb2)"/>
<path d="M406.6,656.1 C406.5,657.2 405.7,658.2 405.5,659.2 C405.2,660.3 405.3,661.4 404.9,662.3 C404.5,663.3 403.9,664.6 403.1,665.0 C402.4,665.4 401.2,664.9 400.3,664.7 C399.4,664.5 398.6,664.2 397.8,663.7 C396.9,663.1 395.9,662.5 395.3,661.6 C394.7,660.6 394.2,659.1 394.1,658.0 C394.0,656.8 394.4,655.4 394.8,654.4 C395.2,653.5 395.9,652.9 396.5,652.1 C397.0,651.4 397.5,650.5 398.2,649.9 C398.9,649.4 399.8,648.7 400.7,648.7 C401.5,648.7 402.6,649.3 403.4,649.9 C404.3,650.5 405.3,651.3 405.9,652.3 C406.4,653.3 406.7,654.9 406.6,656.1Z" fill="url(#gYel)" filter="url(#tb)"/>
<ellipse cx="399.3" cy="655.1" rx="2.6" ry="2.9" fill="#fff4e8" opacity="0.22" filter="url(#tb)"/>
<ellipse cx="403.3" cy="655.0" rx="2.0" ry="1.7" fill="#f6e8cc" opacity="0.45" filter="url(#tb)"/>
<ellipse cx="397.4" cy="655.1" rx="2.0" ry="2.2" fill="#f6e8cc" opacity="0.45" filter="url(#tb)"/>
<ellipse cx="399.4" cy="661.4" rx="2.8" ry="1.9" fill="#f6e8cc" opacity="0.45" filter="url(#tb)"/>
<ellipse cx="401.7" cy="660.3" rx="1.1" ry="0.8" fill="#a04424" opacity="0.42" filter="url(#tb2)"/>
<ellipse cx="398.9" cy="658.0" rx="1.4" ry="1.1" fill="#a04424" opacity="0.42" filter="url(#tb2)"/>
<ellipse cx="396.8" cy="659.5" rx="1.7" ry="1.0" fill="#a04424" opacity="0.42" filter="url(#tb2)"/>
<ellipse cx="396.9" cy="654.7" rx="0.8" ry="0.7" fill="#a04424" opacity="0.42" filter="url(#tb2)"/>
<path d="M116.5,700.4 C116.7,701.5 116.7,703.0 116.2,704.0 C115.7,704.9 114.5,705.7 113.4,706.3 C112.4,706.8 111.1,707.1 110.0,707.1 C108.9,707.0 107.7,706.5 106.7,706.0 C105.8,705.5 104.9,704.7 104.2,703.9 C103.5,703.1 102.8,702.2 102.5,701.2 C102.2,700.2 102.3,699.0 102.5,697.9 C102.6,696.9 103.0,695.7 103.6,694.8 C104.2,694.0 105.1,693.2 106.1,692.7 C107.0,692.1 108.1,691.7 109.2,691.4 C110.4,691.2 112.0,690.7 113.0,691.2 C114.0,691.7 114.8,693.2 115.2,694.3 C115.6,695.3 115.1,696.6 115.3,697.6 C115.5,698.6 116.4,699.4 116.5,700.4Z" fill="url(#gYel)" filter="url(#tb)"/>
<ellipse cx="108.1" cy="697.4" rx="3.3" ry="2.7" fill="#fff4e8" opacity="0.22" filter="url(#tb)"/>
<ellipse cx="110.4" cy="700.8" rx="2.0" ry="2.4" fill="#f6e8cc" opacity="0.45" filter="url(#tb)"/>
<ellipse cx="109.2" cy="701.5" rx="1.7" ry="1.5" fill="#f6e8cc" opacity="0.45" filter="url(#tb)"/>
<ellipse cx="105.6" cy="701.6" rx="3.6" ry="2.4" fill="#f6e8cc" opacity="0.45" filter="url(#tb)"/>
<ellipse cx="113.3" cy="695.3" rx="1.1" ry="1.1" fill="#a04424" opacity="0.42" filter="url(#tb2)"/>
<ellipse cx="113.2" cy="695.8" rx="0.8" ry="0.6" fill="#a04424" opacity="0.42" filter="url(#tb2)"/>
<ellipse cx="110.3" cy="700.0" rx="1.7" ry="0.9" fill="#a04424" opacity="0.42" filter="url(#tb2)"/>
<ellipse cx="109.8" cy="702.7" rx="1.6" ry="0.9" fill="#a04424" opacity="0.42" filter="url(#tb2)"/>
<ellipse cx="111.6" cy="698.2" rx="0.9" ry="1.1" fill="#a04424" opacity="0.42" filter="url(#tb2)"/>
<path d="M136.6,695.4 C136.7,696.2 136.7,697.2 136.3,697.9 C135.9,698.5 134.9,698.9 134.2,699.3 C133.4,699.7 132.8,700.1 132.0,700.4 C131.2,700.8 130.0,701.5 129.3,701.3 C128.5,701.1 127.7,699.9 127.3,699.2 C126.9,698.5 127.1,697.6 126.8,696.9 C126.5,696.2 125.6,695.7 125.4,695.0 C125.2,694.2 125.1,693.1 125.4,692.4 C125.8,691.7 126.6,690.9 127.4,690.5 C128.1,690.1 129.1,690.0 129.9,689.9 C130.8,689.9 131.6,690.0 132.4,690.2 C133.2,690.4 134.1,690.6 134.7,691.1 C135.3,691.6 135.8,692.4 136.1,693.1 C136.4,693.8 136.6,694.6 136.6,695.4Z" fill="url(#gYel)" filter="url(#tb)"/>
<path d="M136.1,702.6 C136.1,703.4 135.7,704.5 135.2,705.1 C134.7,705.8 133.8,706.2 133.1,706.6 C132.4,707.0 131.7,707.5 130.9,707.6 C130.1,707.7 129.2,707.5 128.5,707.3 C127.7,707.0 127.1,706.6 126.4,706.2 C125.7,705.8 124.6,705.4 124.2,704.7 C123.7,704.1 123.4,703.0 123.5,702.2 C123.7,701.3 124.4,700.5 124.9,699.9 C125.4,699.3 126.1,698.8 126.7,698.4 C127.4,697.9 128.0,697.5 128.8,697.2 C129.6,697.0 130.6,696.8 131.4,697.0 C132.2,697.2 132.9,697.9 133.5,698.4 C134.0,699.0 134.4,699.7 134.8,700.4 C135.3,701.1 136.0,701.9 136.1,702.6Z" fill="url(#gYel)" filter="url(#tb)"/>
<ellipse cx="128.8" cy="696.6" rx="2.6" ry="3.2" fill="#fff4e8" opacity="0.22" filter="url(#tb)"/>
<ellipse cx="130.5" cy="698.3" rx="2.6" ry="3.4" fill="#f6e8cc" opacity="0.45" filter="url(#tb)"/>
<ellipse cx="129.1" cy="701.3" rx="2.5" ry="1.5" fill="#f6e8cc" opacity="0.45" filter="url(#tb)"/>
<ellipse cx="131.8" cy="696.7" rx="2.3" ry="2.4" fill="#f6e8cc" opacity="0.45" filter="url(#tb)"/>
<ellipse cx="133.3" cy="693.0" rx="0.8" ry="0.6" fill="#a04424" opacity="0.42" filter="url(#tb2)"/>
<ellipse cx="133.1" cy="701.2" rx="1.4" ry="0.9" fill="#a04424" opacity="0.42" filter="url(#tb2)"/>
<ellipse cx="128.5" cy="700.1" rx="1.8" ry="1.2" fill="#a04424" opacity="0.42" filter="url(#tb2)"/>
<ellipse cx="130.9" cy="696.4" rx="1.7" ry="1.1" fill="#a04424" opacity="0.42" filter="url(#tb2)"/>
<ellipse cx="129.8" cy="694.5" rx="1.8" ry="0.7" fill="#a04424" opacity="0.42" filter="url(#tb2)"/>
<path d="M155.1,699.1 C154.9,700.2 154.7,701.4 154.0,702.2 C153.4,702.9 152.2,703.5 151.2,703.8 C150.2,704.1 149.0,704.0 148.0,703.9 C147.0,703.9 146.0,703.9 145.0,703.7 C143.9,703.5 142.4,703.3 141.5,702.6 C140.6,702.0 139.6,700.7 139.5,699.6 C139.3,698.6 140.2,697.3 140.6,696.3 C141.0,695.4 141.5,694.6 142.1,693.8 C142.7,693.0 143.3,691.9 144.1,691.4 C145.0,691.0 146.3,691.0 147.4,691.0 C148.4,691.0 149.5,691.1 150.6,691.4 C151.6,691.8 153.0,692.1 153.7,692.9 C154.5,693.6 154.8,694.9 155.0,696.0 C155.3,697.0 155.2,698.1 155.1,699.1Z" fill="url(#gYel)" filter="url(#tb)"/>
<ellipse cx="146.2" cy="696.0" rx="3.3" ry="2.5" fill="#fff4e8" opacity="0.22" filter="url(#tb)"/>
<ellipse cx="145.8" cy="698.7" rx="3.0" ry="2.5" fill="#f6e8cc" opacity="0.45" filter="url(#tb)"/>
<ellipse cx="148.6" cy="700.7" rx="3.1" ry="1.2" fill="#f6e8cc" opacity="0.45" filter="url(#tb)"/>
<ellipse cx="144.7" cy="700.4" rx="2.8" ry="2.8" fill="#f6e8cc" opacity="0.45" filter="url(#tb)"/>
<ellipse cx="146.5" cy="699.5" rx="1.4" ry="1.2" fill="#a04424" opacity="0.42" filter="url(#tb2)"/>
<ellipse cx="150.8" cy="695.5" rx="0.8" ry="0.8" fill="#a04424" opacity="0.42" filter="url(#tb2)"/>
<ellipse cx="146.9" cy="698.6" rx="1.6" ry="1.2" fill="#a04424" opacity="0.42" filter="url(#tb2)"/>
<ellipse cx="143.1" cy="701.0" rx="1.6" ry="1.2" fill="#a04424" opacity="0.42" filter="url(#tb2)"/>
<path d="M173.4,698.2 C173.4,699.3 173.2,700.8 172.7,701.7 C172.2,702.6 171.1,702.9 170.4,703.5 C169.6,704.1 169.1,704.6 168.3,705.1 C167.5,705.6 166.5,706.4 165.6,706.4 C164.7,706.3 163.6,705.6 162.9,704.9 C162.2,704.1 161.5,702.8 161.3,701.6 C161.1,700.4 161.2,698.9 161.5,697.8 C161.7,696.7 162.3,695.8 162.7,694.9 C163.2,693.9 163.4,692.9 164.0,692.1 C164.6,691.3 165.4,690.4 166.2,690.1 C167.0,689.7 168.1,689.5 169.0,689.7 C169.9,690.0 170.9,690.6 171.5,691.4 C172.2,692.2 172.5,693.6 172.8,694.7 C173.1,695.8 173.4,697.0 173.4,698.2Z" fill="url(#gYel)" filter="url(#tb)"/>
<ellipse cx="166.1" cy="696.1" rx="2.6" ry="2.9" fill="#fff4e8" opacity="0.22" filter="url(#tb)"/>
<ellipse cx="169.3" cy="695.3" rx="2.6" ry="3.1" fill="#f6e8cc" opacity="0.45" filter="url(#tb)"/>
<ellipse cx="165.5" cy="699.0" rx="2.5" ry="2.1" fill="#f6e8cc" opacity="0.45" filter="url(#tb)"/>
<ellipse cx="165.3" cy="695.8" rx="2.6" ry="2.8" fill="#f6e8cc" opacity="0.45" filter="url(#tb)"/>
<ellipse cx="167.6" cy="698.4" rx="1.2" ry="0.6" fill="#a04424" opacity="0.42" filter="url(#tb2)"/>
<ellipse cx="166.5" cy="698.2" rx="1.1" ry="1.2" fill="#a04424" opacity="0.42" filter="url(#tb2)"/>
<ellipse cx="165.9" cy="698.1" rx="1.0" ry="0.7" fill="#a04424" opacity="0.42" filter="url(#tb2)"/>
<ellipse cx="164.0" cy="701.5" rx="1.1" ry="1.0" fill="#a04424" opacity="0.42" filter="url(#tb2)"/>
<ellipse cx="166.2" cy="701.2" rx="1.7" ry="0.8" fill="#a04424" opacity="0.42" filter="url(#tb2)"/>
<ellipse cx="170.7" cy="697.9" rx="1.7" ry="0.9" fill="#a04424" opacity="0.42" filter="url(#tb2)"/>
<path d="M191.8,696.9 C191.6,697.7 190.8,698.4 190.2,699.1 C189.6,699.8 189.2,700.6 188.4,701.1 C187.6,701.6 186.5,701.9 185.5,702.1 C184.5,702.3 183.3,702.4 182.2,702.3 C181.2,702.1 180.1,701.8 179.2,701.4 C178.3,700.9 177.7,700.2 177.0,699.5 C176.4,698.8 175.5,697.9 175.5,697.1 C175.4,696.3 175.9,695.2 176.6,694.6 C177.3,693.9 178.6,693.6 179.6,693.2 C180.5,692.8 181.2,692.2 182.2,692.0 C183.1,691.8 184.3,691.7 185.3,691.8 C186.4,691.9 187.4,692.3 188.4,692.7 C189.4,693.1 190.8,693.5 191.4,694.2 C192.0,694.9 192.0,696.1 191.8,696.9Z" fill="url(#gYel)" filter="url(#tb)"/>
<ellipse cx="182.3" cy="695.7" rx="3.3" ry="2.0" fill="#fff4e8" opacity="0.22" filter="url(#tb)"/>
<ellipse cx="184.4" cy="697.5" rx="2.0" ry="2.1" fill="#f6e8cc" opacity="0.45" filter="url(#tb)"/>
<ellipse cx="181.9" cy="694.5" rx="2.5" ry="1.8" fill="#f6e8cc" opacity="0.45" filter="url(#tb)"/>
<ellipse cx="184.7" cy="694.7" rx="3.4" ry="1.5" fill="#f6e8cc" opacity="0.45" filter="url(#tb)"/>
<ellipse cx="182.6" cy="693.3" rx="0.8" ry="0.9" fill="#a04424" opacity="0.42" filter="url(#tb2)"/>
<ellipse cx="185.9" cy="696.9" rx="1.6" ry="1.2" fill="#a04424" opacity="0.42" filter="url(#tb2)"/>
<ellipse cx="187.4" cy="698.1" rx="1.7" ry="1.1" fill="#a04424" opacity="0.42" filter="url(#tb2)"/>
<ellipse cx="179.7" cy="695.6" rx="1.0" ry="0.7" fill="#a04424" opacity="0.42" filter="url(#tb2)"/>
<path d="M211.2,697.4 C210.9,698.1 210.3,698.7 209.6,699.3 C209.0,699.9 208.4,700.5 207.5,700.9 C206.6,701.3 205.5,701.7 204.3,701.8 C203.2,701.9 201.5,702.1 200.4,701.7 C199.3,701.3 198.2,700.2 197.7,699.4 C197.2,698.6 197.6,697.7 197.3,696.9 C197.0,696.1 196.1,695.4 195.9,694.7 C195.8,693.9 195.9,692.8 196.4,692.2 C197.0,691.5 198.2,691.1 199.3,690.8 C200.3,690.5 201.5,690.2 202.7,690.2 C203.8,690.3 205.1,690.7 206.1,691.1 C207.2,691.6 208.2,692.1 209.1,692.7 C210.0,693.3 211.1,694.1 211.5,694.8 C211.8,695.6 211.5,696.6 211.2,697.4Z" fill="url(#gYel)" filter="url(#tb)"/>
<ellipse cx="201.9" cy="694.7" rx="3.5" ry="2.0" fill="#fff4e8" opacity="0.22" filter="url(#tb)"/>
<ellipse cx="207.5" cy="693.2" rx="2.9" ry="1.2" fill="#f6e8cc" opacity="0.45" filter="url(#tb)"/>
<ellipse cx="207.3" cy="694.5" rx="2.8" ry="1.9" fill="#f6e8cc" opacity="0.45" filter="url(#tb)"/>
<ellipse cx="205.9" cy="695.9" rx="1.8" ry="1.5" fill="#f6e8cc" opacity="0.45" filter="url(#tb)"/>
<ellipse cx="208.2" cy="697.4" rx="1.1" ry="1.0" fill="#a04424" opacity="0.42" filter="url(#tb2)"/>
<ellipse cx="206.3" cy="692.9" rx="1.1" ry="0.8" fill="#a04424" opacity="0.42" filter="url(#tb2)"/>
<ellipse cx="199.5" cy="695.9" rx="1.0" ry="0.8" fill="#a04424" opacity="0.42" filter="url(#tb2)"/>
<path d="M229.4,689.5 C229.5,690.3 228.8,691.3 228.4,692.0 C228.1,692.8 227.8,693.6 227.2,694.1 C226.7,694.6 225.9,695.1 225.2,695.2 C224.5,695.3 223.8,694.6 223.1,694.6 C222.3,694.5 221.7,695.0 220.8,694.9 C220.0,694.8 218.7,694.7 218.1,694.0 C217.6,693.4 217.6,692.1 217.6,691.3 C217.7,690.4 218.1,689.5 218.5,688.8 C218.8,688.1 219.2,687.5 219.7,686.9 C220.2,686.4 220.8,685.9 221.5,685.6 C222.2,685.3 223.0,685.1 223.7,685.3 C224.4,685.4 225.0,685.9 225.7,686.2 C226.4,686.5 227.3,686.6 227.9,687.2 C228.5,687.7 229.3,688.7 229.4,689.5Z" fill="url(#gYel)" filter="url(#tb)"/>
<path d="M229.2,696.8 C229.1,697.6 228.5,698.3 228.2,699.0 C227.9,699.7 227.8,700.4 227.4,701.0 C227.0,701.7 226.5,702.6 225.8,702.9 C225.1,703.1 224.2,702.8 223.4,702.6 C222.7,702.5 222.1,702.2 221.4,701.9 C220.6,701.7 219.5,701.6 218.9,701.0 C218.3,700.5 217.8,699.3 217.8,698.5 C217.7,697.7 218.3,696.7 218.8,696.0 C219.2,695.3 220.0,695.0 220.6,694.5 C221.1,694.1 221.5,693.8 222.1,693.3 C222.7,692.9 223.4,692.3 224.2,692.1 C224.9,691.9 225.9,692.0 226.7,692.4 C227.4,692.8 228.1,693.5 228.6,694.3 C229.0,695.0 229.2,696.0 229.2,696.8Z" fill="url(#gYel)" filter="url(#tb)"/>
<ellipse cx="221.9" cy="691.8" rx="2.4" ry="3.2" fill="#fff4e8" opacity="0.22" filter="url(#tb)"/>
<ellipse cx="225.0" cy="693.8" rx="2.3" ry="1.5" fill="#f6e8cc" opacity="0.45" filter="url(#tb)"/>
<ellipse cx="221.3" cy="689.4" rx="2.4" ry="2.5" fill="#f6e8cc" opacity="0.45" filter="url(#tb)"/>
<ellipse cx="220.8" cy="697.8" rx="1.8" ry="2.2" fill="#f6e8cc" opacity="0.45" filter="url(#tb)"/>
<ellipse cx="219.5" cy="694.9" rx="1.1" ry="1.2" fill="#a04424" opacity="0.42" filter="url(#tb2)"/>
<ellipse cx="221.2" cy="689.0" rx="1.3" ry="0.9" fill="#a04424" opacity="0.42" filter="url(#tb2)"/>
<ellipse cx="220.5" cy="694.2" rx="1.4" ry="1.2" fill="#a04424" opacity="0.42" filter="url(#tb2)"/>
<ellipse cx="226.1" cy="694.8" rx="1.6" ry="0.7" fill="#a04424" opacity="0.42" filter="url(#tb2)"/>
<path d="M247.7,696.2 C247.5,697.2 247.0,698.1 246.5,699.0 C246.0,699.9 245.6,701.2 244.8,701.8 C244.0,702.4 242.7,702.7 241.6,702.7 C240.6,702.6 239.6,701.9 238.7,701.5 C237.8,701.1 237.0,700.7 236.2,700.1 C235.4,699.5 234.5,698.8 234.0,697.9 C233.5,697.0 233.1,695.7 233.2,694.7 C233.3,693.6 233.9,692.4 234.6,691.6 C235.2,690.8 236.3,690.3 237.2,689.8 C238.1,689.4 239.1,689.0 240.0,688.9 C241.0,688.8 242.0,689.0 243.0,689.2 C243.9,689.5 244.9,689.9 245.8,690.5 C246.6,691.1 247.6,692.0 247.9,693.0 C248.2,693.9 248.0,695.2 247.7,696.2Z" fill="url(#gYel)" filter="url(#tb)"/>
<ellipse cx="239.4" cy="693.8" rx="3.1" ry="2.5" fill="#fff4e8" opacity="0.22" filter="url(#tb)"/>
<ellipse cx="243.5" cy="699.3" rx="1.8" ry="2.2" fill="#f6e8cc" opacity="0.45" filter="url(#tb)"/>
<ellipse cx="240.3" cy="695.6" rx="2.5" ry="1.9" fill="#f6e8cc" opacity="0.45" filter="url(#tb)"/>
<ellipse cx="243.1" cy="699.0" rx="2.1" ry="1.8" fill="#f6e8cc" opacity="0.45" filter="url(#tb)"/>
<ellipse cx="244.6" cy="692.7" rx="1.4" ry="0.7" fill="#a04424" opacity="0.42" filter="url(#tb2)"/>
<ellipse cx="237.8" cy="698.2" rx="1.5" ry="0.7" fill="#a04424" opacity="0.42" filter="url(#tb2)"/>
<ellipse cx="236.9" cy="691.4" rx="1.4" ry="0.9" fill="#a04424" opacity="0.42" filter="url(#tb2)"/>
<path d="M283.7,693.8 C283.9,694.8 283.9,696.0 283.6,696.9 C283.3,697.8 282.6,698.5 282.0,699.1 C281.4,699.7 280.8,700.4 280.1,700.7 C279.4,701.0 278.5,701.2 277.7,701.1 C276.9,701.0 276.1,700.7 275.3,700.3 C274.5,699.8 273.6,699.1 273.1,698.2 C272.7,697.3 272.6,695.9 272.6,694.8 C272.7,693.8 273.0,692.8 273.4,691.9 C273.7,691.0 274.2,690.2 274.7,689.6 C275.2,689.0 275.9,688.7 276.6,688.2 C277.3,687.8 278.1,687.0 278.9,686.9 C279.7,686.9 280.9,687.2 281.5,687.8 C282.2,688.5 282.5,689.9 282.9,690.9 C283.2,691.9 283.6,692.8 283.7,693.8Z" fill="url(#gYel)" filter="url(#tb)"/>
<ellipse cx="277.2" cy="692.6" rx="2.4" ry="2.5" fill="#fff4e8" opacity="0.22" filter="url(#tb)"/>
<ellipse cx="277.7" cy="696.1" rx="1.6" ry="2.5" fill="#f6e8cc" opacity="0.45" filter="url(#tb)"/>
<ellipse cx="277.3" cy="697.0" rx="2.6" ry="2.0" fill="#f6e8cc" opacity="0.45" filter="url(#tb)"/>
<ellipse cx="275.3" cy="697.6" rx="2.1" ry="2.6" fill="#f6e8cc" opacity="0.45" filter="url(#tb)"/>
<ellipse cx="276.5" cy="694.9" rx="1.8" ry="0.6" fill="#a04424" opacity="0.42" filter="url(#tb2)"/>
<ellipse cx="279.8" cy="695.0" rx="1.7" ry="0.8" fill="#a04424" opacity="0.42" filter="url(#tb2)"/>
<ellipse cx="281.5" cy="699.0" rx="0.9" ry="0.8" fill="#a04424" opacity="0.42" filter="url(#tb2)"/>
<ellipse cx="276.4" cy="697.6" rx="1.7" ry="1.1" fill="#a04424" opacity="0.42" filter="url(#tb2)"/>
<ellipse cx="281.0" cy="695.1" rx="1.7" ry="0.8" fill="#a04424" opacity="0.42" filter="url(#tb2)"/>
<path d="M304.3,694.1 C304.5,695.1 304.6,696.2 304.4,697.2 C304.3,698.2 303.9,699.1 303.4,700.0 C302.9,700.8 302.3,701.9 301.6,702.2 C300.8,702.5 299.7,702.2 298.9,701.8 C298.1,701.5 297.5,700.7 296.8,700.2 C296.1,699.7 295.3,699.5 294.7,698.8 C294.1,698.1 293.5,696.9 293.3,695.9 C293.1,694.9 293.2,693.7 293.5,692.8 C293.7,691.8 294.1,690.8 294.6,690.1 C295.2,689.4 296.0,689.0 296.7,688.6 C297.5,688.3 298.3,687.9 299.1,688.0 C299.9,688.1 300.8,688.4 301.5,689.0 C302.2,689.5 302.7,690.6 303.1,691.4 C303.6,692.3 304.1,693.2 304.3,694.1Z" fill="url(#gYel)" filter="url(#tb)"/>
<ellipse cx="297.9" cy="693.3" rx="2.4" ry="2.5" fill="#fff4e8" opacity="0.22" filter="url(#tb)"/>
<ellipse cx="296.9" cy="693.5" rx="2.2" ry="2.7" fill="#f6e8cc" opacity="0.45" filter="url(#tb)"/>
<ellipse cx="296.0" cy="698.4" rx="2.4" ry="1.6" fill="#f6e8cc" opacity="0.45" filter="url(#tb)"/>
<ellipse cx="301.1" cy="696.1" rx="2.1" ry="1.6" fill="#f6e8cc" opacity="0.45" filter="url(#tb)"/>
<ellipse cx="296.1" cy="698.7" rx="1.5" ry="0.6" fill="#a04424" opacity="0.42" filter="url(#tb2)"/>
<ellipse cx="296.2" cy="694.9" rx="1.3" ry="0.8" fill="#a04424" opacity="0.42" filter="url(#tb2)"/>
<ellipse cx="296.2" cy="694.1" rx="0.9" ry="1.0" fill="#a04424" opacity="0.42" filter="url(#tb2)"/>
<ellipse cx="301.6" cy="691.5" rx="1.4" ry="1.1" fill="#a04424" opacity="0.42" filter="url(#tb2)"/>
<ellipse cx="296.5" cy="698.3" rx="1.7" ry="0.9" fill="#a04424" opacity="0.42" filter="url(#tb2)"/>
<ellipse cx="298.4" cy="698.4" rx="1.3" ry="0.9" fill="#a04424" opacity="0.42" filter="url(#tb2)"/>
<path d="M325.6,697.7 C325.2,698.6 324.7,699.2 324.3,700.1 C323.9,701.0 323.8,702.4 323.1,703.1 C322.4,703.7 321.1,704.1 320.2,704.0 C319.3,703.9 318.3,703.1 317.6,702.5 C316.9,701.9 316.5,701.1 316.0,700.4 C315.6,699.7 315.1,699.1 314.7,698.3 C314.3,697.5 313.6,696.5 313.6,695.5 C313.6,694.5 314.1,693.3 314.7,692.5 C315.3,691.8 316.3,691.2 317.2,690.9 C318.0,690.5 319.0,690.2 319.9,690.3 C320.7,690.4 321.4,691.0 322.2,691.4 C323.0,691.7 323.8,692.0 324.5,692.5 C325.2,693.1 326.3,693.8 326.5,694.7 C326.7,695.6 325.9,696.8 325.6,697.7Z" fill="url(#gYel)" filter="url(#tb)"/>
<ellipse cx="318.8" cy="695.1" rx="2.6" ry="2.3" fill="#fff4e8" opacity="0.22" filter="url(#tb)"/>
<ellipse cx="322.2" cy="699.3" rx="1.6" ry="1.9" fill="#f6e8cc" opacity="0.45" filter="url(#tb)"/>
<ellipse cx="323.1" cy="699.9" rx="1.9" ry="1.8" fill="#f6e8cc" opacity="0.45" filter="url(#tb)"/>
<ellipse cx="320.9" cy="695.7" rx="2.3" ry="1.3" fill="#f6e8cc" opacity="0.45" filter="url(#tb)"/>
<ellipse cx="317.6" cy="698.3" rx="1.0" ry="0.9" fill="#a04424" opacity="0.42" filter="url(#tb2)"/>
<ellipse cx="319.2" cy="701.3" rx="1.3" ry="0.6" fill="#a04424" opacity="0.42" filter="url(#tb2)"/>
<ellipse cx="323.8" cy="701.1" rx="0.8" ry="1.2" fill="#a04424" opacity="0.42" filter="url(#tb2)"/>
<ellipse cx="321.0" cy="700.6" rx="1.4" ry="1.0" fill="#a04424" opacity="0.42" filter="url(#tb2)"/>
<ellipse cx="322.5" cy="692.4" rx="0.9" ry="0.7" fill="#a04424" opacity="0.42" filter="url(#tb2)"/>
<ellipse cx="316.1" cy="694.3" rx="0.8" ry="0.7" fill="#a04424" opacity="0.42" filter="url(#tb2)"/>
<path d="M341.9,696.0 C341.9,696.9 340.9,698.0 340.3,698.8 C339.7,699.5 338.9,699.7 338.3,700.3 C337.7,700.9 337.4,702.0 336.7,702.4 C336.0,702.9 334.9,703.1 334.0,703.0 C333.2,703.0 332.2,702.5 331.4,702.0 C330.6,701.4 329.8,700.7 329.3,699.8 C328.9,699.0 328.9,697.8 328.9,696.8 C328.9,695.8 329.1,694.8 329.5,694.0 C329.9,693.2 330.6,692.5 331.2,691.9 C331.9,691.4 332.6,691.0 333.4,690.7 C334.2,690.4 335.1,689.8 335.9,689.9 C336.8,689.9 337.7,690.4 338.5,691.0 C339.2,691.5 339.9,692.2 340.5,693.1 C341.1,693.9 341.9,695.0 341.9,696.0Z" fill="url(#gYel)" filter="url(#tb)"/>
<ellipse cx="333.8" cy="694.8" rx="2.6" ry="2.3" fill="#fff4e8" opacity="0.22" filter="url(#tb)"/>
<ellipse cx="334.6" cy="696.5" rx="2.8" ry="2.5" fill="#f6e8cc" opacity="0.45" filter="url(#tb)"/>
<ellipse cx="335.5" cy="694.7" rx="2.6" ry="2.2" fill="#f6e8cc" opacity="0.45" filter="url(#tb)"/>
<ellipse cx="333.5" cy="696.1" rx="2.5" ry="1.5" fill="#f6e8cc" opacity="0.45" filter="url(#tb)"/>
<ellipse cx="332.6" cy="698.4" rx="1.3" ry="1.0" fill="#a04424" opacity="0.42" filter="url(#tb2)"/>
<ellipse cx="335.9" cy="696.1" rx="1.1" ry="0.8" fill="#a04424" opacity="0.42" filter="url(#tb2)"/>
<ellipse cx="332.8" cy="696.5" rx="1.2" ry="1.0" fill="#a04424" opacity="0.42" filter="url(#tb2)"/>
<ellipse cx="331.1" cy="695.0" rx="1.7" ry="0.8" fill="#a04424" opacity="0.42" filter="url(#tb2)"/>
<ellipse cx="335.5" cy="696.3" rx="1.1" ry="1.3" fill="#a04424" opacity="0.42" filter="url(#tb2)"/>
<ellipse cx="333.4" cy="698.9" rx="1.0" ry="0.6" fill="#a04424" opacity="0.42" filter="url(#tb2)"/>
<path d="M361.6,695.6 C361.3,696.5 361.2,697.3 360.7,698.1 C360.2,698.9 359.5,699.8 358.6,700.3 C357.7,700.8 356.5,700.9 355.3,701.1 C354.1,701.2 352.6,701.5 351.4,701.2 C350.3,700.8 349.0,700.0 348.3,699.1 C347.6,698.3 347.5,697.0 347.4,696.1 C347.2,695.1 347.2,694.2 347.4,693.4 C347.5,692.5 347.9,691.8 348.4,690.9 C348.9,690.1 349.4,689.1 350.2,688.5 C351.1,687.9 352.5,687.3 353.6,687.3 C354.8,687.3 356.1,688.1 357.2,688.5 C358.3,689.0 359.5,689.4 360.4,690.1 C361.2,690.8 362.3,691.8 362.5,692.7 C362.7,693.7 361.9,694.7 361.6,695.6Z" fill="url(#gYel)" filter="url(#tb)"/>
<ellipse cx="352.9" cy="692.9" rx="3.5" ry="2.3" fill="#fff4e8" opacity="0.22" filter="url(#tb)"/>
<ellipse cx="356.7" cy="691.9" rx="2.3" ry="1.7" fill="#f6e8cc" opacity="0.45" filter="url(#tb)"/>
<ellipse cx="356.1" cy="695.4" rx="3.6" ry="2.3" fill="#f6e8cc" opacity="0.45" filter="url(#tb)"/>
<ellipse cx="354.7" cy="696.3" rx="3.4" ry="2.3" fill="#f6e8cc" opacity="0.45" filter="url(#tb)"/>
<ellipse cx="352.0" cy="695.7" rx="1.4" ry="1.1" fill="#a04424" opacity="0.42" filter="url(#tb2)"/>
<ellipse cx="353.6" cy="690.8" rx="1.2" ry="1.0" fill="#a04424" opacity="0.42" filter="url(#tb2)"/>
<ellipse cx="350.4" cy="693.5" rx="1.8" ry="0.7" fill="#a04424" opacity="0.42" filter="url(#tb2)"/>
<ellipse cx="358.2" cy="692.5" rx="1.4" ry="0.7" fill="#a04424" opacity="0.42" filter="url(#tb2)"/>
<ellipse cx="358.3" cy="696.3" rx="1.1" ry="0.8" fill="#a04424" opacity="0.42" filter="url(#tb2)"/>
<ellipse cx="352.9" cy="694.7" rx="1.4" ry="1.1" fill="#a04424" opacity="0.42" filter="url(#tb2)"/>
<path d="M376.4,692.5 C376.6,693.4 376.5,694.6 376.3,695.5 C376.1,696.5 375.7,697.5 375.1,698.2 C374.5,698.9 373.5,699.2 372.7,699.5 C371.9,699.8 371.1,700.1 370.2,700.2 C369.3,700.2 368.2,700.3 367.5,699.8 C366.7,699.4 366.2,698.3 365.8,697.4 C365.3,696.6 365.2,695.8 365.0,694.9 C364.7,694.0 364.2,693.1 364.2,692.1 C364.2,691.1 364.3,689.8 364.8,688.9 C365.3,688.1 366.4,687.4 367.3,687.2 C368.2,687.1 369.4,687.8 370.2,688.0 C371.1,688.3 371.6,688.6 372.4,688.9 C373.2,689.2 374.3,689.3 375.0,689.9 C375.6,690.5 376.1,691.6 376.4,692.5Z" fill="url(#gYel)" filter="url(#tb)"/>
<ellipse cx="369.0" cy="692.2" rx="2.6" ry="2.3" fill="#fff4e8" opacity="0.22" filter="url(#tb)"/>
<ellipse cx="368.4" cy="696.2" rx="2.0" ry="2.6" fill="#f6e8cc" opacity="0.45" filter="url(#tb)"/>
<ellipse cx="370.9" cy="691.9" rx="2.0" ry="2.6" fill="#f6e8cc" opacity="0.45" filter="url(#tb)"/>
<ellipse cx="372.9" cy="697.2" rx="1.5" ry="1.6" fill="#f6e8cc" opacity="0.45" filter="url(#tb)"/>
<ellipse cx="368.6" cy="694.1" rx="1.1" ry="1.0" fill="#a04424" opacity="0.42" filter="url(#tb2)"/>
<ellipse cx="369.7" cy="696.8" rx="1.5" ry="0.9" fill="#a04424" opacity="0.42" filter="url(#tb2)"/>
<ellipse cx="369.9" cy="689.5" rx="1.5" ry="0.9" fill="#a04424" opacity="0.42" filter="url(#tb2)"/>
<ellipse cx="366.3" cy="689.8" rx="1.0" ry="0.9" fill="#a04424" opacity="0.42" filter="url(#tb2)"/>
<ellipse cx="370.2" cy="695.2" rx="1.7" ry="0.7" fill="#a04424" opacity="0.42" filter="url(#tb2)"/>
<ellipse cx="367.7" cy="693.1" rx="1.2" ry="1.1" fill="#a04424" opacity="0.42" filter="url(#tb2)"/>
<path d="M389.5,695.8 C389.5,696.6 389.4,697.5 389.0,698.2 C388.7,699.0 388.0,699.7 387.3,700.1 C386.7,700.5 385.8,700.6 385.0,700.6 C384.3,700.6 383.5,700.3 382.9,700.0 C382.2,699.7 381.4,699.3 381.0,698.8 C380.5,698.2 380.2,697.3 380.0,696.6 C379.9,695.8 380.0,695.0 380.1,694.2 C380.2,693.4 380.4,692.6 380.8,691.9 C381.2,691.3 381.9,690.8 382.5,690.3 C383.1,689.9 383.8,689.4 384.6,689.2 C385.3,689.0 386.4,688.9 387.0,689.3 C387.7,689.6 388.2,690.7 388.5,691.4 C388.8,692.1 388.8,692.9 389.0,693.6 C389.2,694.3 389.5,695.0 389.5,695.8Z" fill="url(#gYel)" filter="url(#tb)"/>
<ellipse cx="383.8" cy="693.7" rx="2.2" ry="2.0" fill="#fff4e8" opacity="0.22" filter="url(#tb)"/>
<ellipse cx="382.9" cy="696.0" rx="1.8" ry="1.5" fill="#f6e8cc" opacity="0.45" filter="url(#tb)"/>
<ellipse cx="387.3" cy="695.1" rx="2.5" ry="1.8" fill="#f6e8cc" opacity="0.45" filter="url(#tb)"/>
<ellipse cx="384.9" cy="697.0" rx="1.7" ry="2.1" fill="#f6e8cc" opacity="0.45" filter="url(#tb)"/>
<ellipse cx="382.7" cy="696.0" rx="1.4" ry="0.8" fill="#a04424" opacity="0.42" filter="url(#tb2)"/>
<ellipse cx="388.1" cy="696.1" rx="0.8" ry="0.9" fill="#a04424" opacity="0.42" filter="url(#tb2)"/>
<ellipse cx="386.7" cy="693.5" rx="1.5" ry="0.6" fill="#a04424" opacity="0.42" filter="url(#tb2)"/>
<ellipse cx="383.5" cy="697.7" rx="1.4" ry="1.1" fill="#a04424" opacity="0.42" filter="url(#tb2)"/>
<ellipse cx="382.8" cy="695.0" rx="1.4" ry="0.8" fill="#a04424" opacity="0.42" filter="url(#tb2)"/>
<ellipse cx="385.8" cy="695.2" rx="1.8" ry="1.0" fill="#a04424" opacity="0.42" filter="url(#tb2)"/>
<path d="M405.1,694.0 C405.0,694.7 404.6,695.4 404.2,695.9 C403.9,696.5 403.4,697.0 402.9,697.4 C402.4,697.8 401.9,698.2 401.3,698.4 C400.7,698.6 400.0,698.8 399.3,698.7 C398.7,698.7 397.8,698.5 397.3,698.1 C396.9,697.6 396.6,696.8 396.4,696.2 C396.1,695.6 395.9,695.0 395.8,694.4 C395.7,693.7 395.4,692.8 395.7,692.2 C395.9,691.6 396.8,691.2 397.4,690.9 C397.9,690.6 398.5,690.5 399.1,690.3 C399.8,690.1 400.4,689.7 401.0,689.7 C401.7,689.8 402.3,690.2 402.9,690.6 C403.4,691.0 404.0,691.4 404.3,692.0 C404.7,692.6 405.1,693.4 405.1,694.0Z" fill="url(#gPale)" filter="url(#tb)"/>
<ellipse cx="399.3" cy="693.1" rx="2.0" ry="1.6" fill="#fff4e8" opacity="0.22" filter="url(#tb)"/>
<ellipse cx="400.8" cy="695.8" rx="1.5" ry="1.2" fill="#f6e8cc" opacity="0.45" filter="url(#tb)"/>
<ellipse cx="401.6" cy="693.3" rx="2.0" ry="1.4" fill="#f6e8cc" opacity="0.45" filter="url(#tb)"/>
<ellipse cx="398.5" cy="693.0" rx="1.6" ry="1.7" fill="#f6e8cc" opacity="0.45" filter="url(#tb)"/>
<ellipse cx="399.3" cy="693.9" rx="1.2" ry="0.6" fill="#a04424" opacity="0.42" filter="url(#tb2)"/>
<ellipse cx="402.5" cy="694.7" rx="1.8" ry="0.9" fill="#a04424" opacity="0.42" filter="url(#tb2)"/>
<ellipse cx="400.9" cy="692.6" rx="0.8" ry="1.3" fill="#a04424" opacity="0.42" filter="url(#tb2)"/>
</g>
<rect x="97" y="542" width="312" height="174" fill="none" stroke="#7a7a7a" stroke-width="1"/>
<rect x="220.6" y="618.7" width="74.4" height="18.2" fill="#fff"/>
<text x="231.5" y="631.2" font-size="8.6" textLength="52.5" lengthAdjust="spacingAndGlyphs" fill="#0a0a0a" stroke="#0a0a0a" stroke-width="0.15">RPMI 8226-R</text>
<text x="93.3" y="563.3" font-size="8.5" text-anchor="end" textLength="80.8" lengthAdjust="spacingAndGlyphs" fill="#b0183c" stroke="#b0183c" stroke-width="0.15">VECTOR + VEHICLE</text>
<text x="412.3" y="563.3" font-size="8.5" textLength="77.7" lengthAdjust="spacingAndGlyphs" fill="#0a0a0a" stroke="#0a0a0a" stroke-width="0.15">ELOVL6 + VEHICLE</text>
<text x="93.3" y="658.1" font-size="8.5" text-anchor="end" textLength="80.8" lengthAdjust="spacingAndGlyphs" fill="#b0183c" stroke="#b0183c" stroke-width="0.15">VECTOR + VEHICLE</text>
<text x="412.3" y="658.1" font-size="8.5" textLength="77.7" lengthAdjust="spacingAndGlyphs" fill="#0a0a0a" stroke="#0a0a0a" stroke-width="0.15">ELOVL6 + VEHICLE</text>
<text x="93.3" y="603.7" font-size="8.5" text-anchor="end" textLength="60.6" lengthAdjust="spacingAndGlyphs" fill="#b0183c" stroke="#b0183c" stroke-width="0.15">VECTOR + BTZ</text>
<text x="412.3" y="603.7" font-size="8.5" textLength="57.0" lengthAdjust="spacingAndGlyphs" fill="#0a0a0a" stroke="#0a0a0a" stroke-width="0.15">ELOVL6 + BTZ</text>
<text x="93.3" y="698.5" font-size="8.5" text-anchor="end" textLength="60.6" lengthAdjust="spacingAndGlyphs" fill="#b0183c" stroke="#b0183c" stroke-width="0.15">VECTOR + BTZ</text>
<text x="412.3" y="698.5" font-size="8.5" textLength="57.0" lengthAdjust="spacingAndGlyphs" fill="#0a0a0a" stroke="#0a0a0a" stroke-width="0.15">ELOVL6 + BTZ</text>
<path d="M0.5,0.5 H518.75 V723.5 H0.5 Z" fill="none" stroke="#000" stroke-width="1"/>
<line x1="519.25" y1="0" x2="519.25" y2="724" stroke="#000" stroke-width="1.5"/>
</svg>
</body></html>
